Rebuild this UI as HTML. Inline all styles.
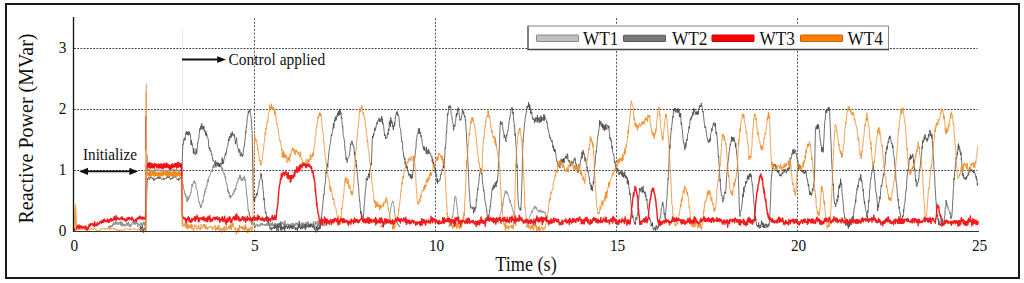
<!DOCTYPE html>
<html><head><meta charset="utf-8">
<style>
html,body{margin:0;padding:0;background:#fff;width:1024px;height:283px;overflow:hidden}
svg{display:block}
text{font-family:"Liberation Serif",serif;fill:#111}
</style></head>
<body>
<svg width="1024" height="283" viewBox="0 0 1024 283">
<rect x="0" y="0" width="1024" height="283" fill="#fff"/>
<rect x="6" y="4" width="1013" height="274" fill="none" stroke="#1a1a1a" stroke-width="2"/>
<g stroke="#444" stroke-width="1"><line x1="74" y1="48.5" x2="977.5" y2="48.5" stroke-dasharray="1.9,1.3"/><line x1="74" y1="109.5" x2="977.5" y2="109.5" stroke-dasharray="1.9,1.3"/><line x1="74" y1="170.5" x2="977.5" y2="170.5" stroke-dasharray="1.9,1.3"/><line x1="254.5" y1="18" x2="254.5" y2="231" stroke-dasharray="2.1,1.55" stroke="#5a5a5a"/><line x1="435.5" y1="18" x2="435.5" y2="231" stroke-dasharray="2.1,1.55" stroke="#5a5a5a"/><line x1="616.5" y1="18" x2="616.5" y2="231" stroke-dasharray="2.1,1.55" stroke="#5a5a5a"/><line x1="797.5" y1="18" x2="797.5" y2="231" stroke-dasharray="2.1,1.55" stroke="#5a5a5a"/></g>
<line x1="182.5" y1="29" x2="182.5" y2="231" stroke="#ebebeb" stroke-width="1"/>
<g font-size="17" text-anchor="end">
<text transform="translate(66.3 235.6) scale(0.9 1)">0</text>
<text transform="translate(66.3 174.6) scale(0.9 1)">1</text>
<text transform="translate(66.3 113.5) scale(0.9 1)">2</text>
<text transform="translate(66.3 52.5) scale(0.9 1)">3</text>
</g>
<g font-size="17" text-anchor="middle">
<text transform="translate(74.3 250.6) scale(0.9 1)">0</text>
<text transform="translate(254.8 250.6) scale(0.9 1)">5</text>
<text transform="translate(436.6 250.6) scale(0.9 1)">10</text>
<text transform="translate(617.6 250.6) scale(0.9 1)">15</text>
<text transform="translate(798.6 250.6) scale(0.9 1)">20</text>
<text transform="translate(979.6 250.6) scale(0.9 1)">25</text>
</g>
<text font-size="20" text-anchor="middle" transform="translate(526 270.5) scale(0.91 1)">Time (s)</text>
<text font-size="20" text-anchor="middle" transform="translate(33 128.5) rotate(-90)">Reactive Power (MVar)</text>
<polyline points="108.0,227.7 108.3,227.9 108.6,227.2 108.9,226.2 109.2,226.5 109.5,225.7 109.8,227.1 110.1,228.5 110.4,225.8 110.7,225.6 111.0,227.1 111.3,226.8 111.6,226.7 111.9,225.0 112.2,225.8 112.5,226.7 112.8,224.0 113.1,224.7 113.4,222.4 113.7,223.3 114.0,222.5 114.0,224.7 114.3,223.4 114.6,225.2 114.9,224.9 115.2,224.4 115.5,220.9 115.8,223.8 116.1,224.0 116.4,224.2 116.7,221.9 117.0,223.1 117.3,222.2 117.6,222.4 117.9,224.8 118.2,222.6 118.5,223.5 118.8,224.6 119.1,222.5 119.4,222.9 119.7,223.2 120.0,223.4 120.0,221.6 120.3,223.4 120.6,225.4 120.9,221.2 121.2,224.6 121.5,223.4 121.8,222.5 122.1,226.5 122.4,225.1 122.7,222.6 123.0,224.6 123.3,225.4 123.6,224.3 123.9,225.8 124.2,224.7 124.5,225.8 124.8,226.7 125.1,224.0 125.4,225.2 125.7,224.1 126.0,224.6 126.3,222.7 126.6,223.5 126.9,223.9 127.2,225.7 127.5,226.0 127.8,222.7 128.0,223.3 128.1,225.5 128.4,221.7 128.7,224.1 129.0,224.7 129.3,226.7 129.6,225.8 129.9,224.4 130.2,224.3 130.5,224.3 130.8,226.8 131.1,223.8 131.4,223.9 131.7,224.7 132.0,223.5 132.3,222.7 132.6,221.5 132.9,223.1 133.2,222.5 133.5,224.3 133.8,223.7 134.1,222.9 134.4,223.9 134.7,222.6 135.0,224.6 135.0,223.2 135.3,224.3 135.6,221.7 135.9,223.9 136.2,221.3 136.5,220.8 136.8,223.7 137.1,222.9 137.4,224.4 137.7,227.1 138.0,222.8 138.3,223.6 138.6,224.8 138.9,225.2 139.2,224.4 139.5,224.5 139.8,225.7 140.1,225.4 140.4,222.8 140.7,224.2 141.0,224.2 141.3,222.8 141.6,224.8 141.9,222.9 142.2,225.5 142.5,224.3 142.8,224.3 143.1,223.6 143.4,224.2 143.7,221.7 144.0,223.2 144.3,225.6 144.6,222.0 144.9,226.1 145.2,222.3 145.5,225.9 145.5,223.5 145.8,218.8 146.1,200.5 146.4,178.8 146.7,163.2 147.0,155.9 147.0,155.0 147.3,162.4 147.6,170.1 147.6,169.6 147.9,170.9 148.2,169.6 148.5,170.0 148.8,169.4 149.1,169.7 149.4,169.6 149.7,171.4 150.0,170.7 150.3,171.5 150.6,170.8 150.9,170.6 151.2,171.0 151.5,170.6 151.8,171.3 152.1,171.0 152.4,171.4 152.7,170.6 153.0,170.5 153.3,171.8 153.6,170.5 153.9,170.2 154.2,171.1 154.5,171.6 154.8,169.4 155.1,170.4 155.4,170.1 155.7,169.5 156.0,170.8 156.3,170.4 156.6,170.5 156.9,169.9 157.2,170.5 157.5,170.1 157.8,170.0 158.1,169.7 158.4,169.8 158.7,171.1 159.0,170.1 159.3,170.5 159.6,170.1 159.9,169.7 160.2,169.8 160.5,170.8 160.8,170.2 161.1,170.2 161.4,170.6 161.7,171.0 162.0,170.8 162.3,170.8 162.6,170.0 162.9,169.4 163.2,171.0 163.5,171.1 163.8,170.2 164.1,170.4 164.4,170.8 164.7,170.8 165.0,170.8 165.3,170.3 165.6,171.5 165.9,170.2 166.2,171.4 166.5,171.4 166.8,171.5 167.1,172.4 167.4,172.5 167.7,170.7 168.0,170.1 168.3,171.6 168.6,170.5 168.9,171.1 169.2,171.5 169.5,169.7 169.8,169.7 170.1,171.0 170.4,171.0 170.7,170.3 171.0,170.3 171.3,169.9 171.6,169.7 171.9,170.4 172.2,169.7 172.5,169.2 172.8,170.4 173.1,169.9 173.4,169.8 173.7,169.0 174.0,169.1 174.3,169.4 174.6,169.4 174.9,170.3 175.2,169.6 175.5,170.3 175.8,170.5 176.1,171.6 176.4,169.6 176.7,171.1 177.0,170.7 177.3,170.8 177.6,169.7 177.9,170.3 178.2,171.0 178.5,170.4 178.8,170.4 179.1,170.2 179.4,171.1 179.7,170.1 180.0,169.2 180.3,170.2 180.6,169.7 180.9,169.0 181.2,170.7 181.5,171.6 181.5,171.0 181.8,171.4 182.1,174.2 182.4,180.7 182.7,182.9 183.0,185.4 183.0,184.7 183.3,186.5 183.6,188.7 183.9,189.8 184.2,190.9 184.5,190.8 184.8,194.0 185.1,193.4 185.4,196.8 185.7,194.5 186.0,197.0 186.3,198.2 186.6,197.3 186.9,201.8 187.2,201.6 187.5,199.4 187.5,201.0 187.8,200.3 188.1,196.4 188.4,200.1 188.7,199.2 189.0,198.8 189.3,196.3 189.6,196.2 189.9,195.2 190.2,195.8 190.5,193.6 190.8,192.0 191.1,192.5 191.4,188.4 191.7,187.4 192.0,184.0 192.3,187.1 192.6,185.2 192.9,184.2 193.2,183.0 193.5,182.0 193.8,181.8 194.1,180.7 194.3,180.4 194.4,181.0 194.7,183.3 195.0,182.4 195.3,182.4 195.6,183.1 195.9,184.5 196.2,189.0 196.5,189.0 196.8,189.6 197.1,190.5 197.4,191.2 197.7,194.6 198.0,197.6 198.3,197.5 198.6,199.7 198.9,201.5 199.2,202.9 199.5,201.8 199.8,204.7 200.1,204.5 200.4,207.1 200.5,205.1 200.7,206.9 201.0,208.0 201.3,205.0 201.6,203.9 201.9,203.9 202.2,202.7 202.5,200.7 202.8,201.5 203.1,202.3 203.4,198.4 203.7,197.1 204.0,194.7 204.3,195.3 204.6,191.7 204.9,190.9 205.2,192.6 205.5,188.3 205.8,189.7 206.1,188.9 206.4,185.8 206.7,185.3 207.0,186.1 207.3,182.2 207.6,180.7 207.9,179.2 208.0,180.9 208.2,182.2 208.5,180.7 208.8,177.4 209.1,176.5 209.4,176.0 209.7,176.5 210.0,174.7 210.3,174.1 210.6,173.5 210.9,171.9 211.2,171.1 211.5,170.7 211.8,169.8 212.0,170.3 212.1,172.1 212.4,169.9 212.7,168.8 213.0,165.8 213.3,168.0 213.6,164.6 213.9,164.8 214.2,167.5 214.5,167.1 214.8,165.6 215.1,163.1 215.4,164.5 215.7,164.0 215.7,165.6 216.0,167.8 216.3,165.1 216.6,163.5 216.9,162.8 217.2,164.2 217.5,163.9 217.8,162.8 218.1,164.7 218.4,163.0 218.7,166.0 219.0,166.2 219.3,166.5 219.6,164.4 219.9,166.1 220.2,166.0 220.5,166.1 220.7,166.5 220.8,165.4 221.1,165.4 221.4,168.5 221.7,167.8 222.0,169.0 222.3,170.4 222.6,167.6 222.9,169.7 223.2,172.0 223.5,172.7 223.8,172.4 224.1,175.1 224.4,174.9 224.5,173.4 224.7,174.4 225.0,177.7 225.3,178.2 225.6,176.3 225.9,182.0 226.2,182.4 226.5,184.3 226.8,183.6 227.1,185.2 227.4,185.7 227.7,191.7 228.0,189.4 228.3,192.8 228.6,191.2 228.9,193.8 229.2,192.3 229.5,194.8 229.8,197.3 230.1,195.1 230.4,198.5 230.7,197.7 230.8,195.8 231.0,196.6 231.3,196.2 231.6,196.8 231.9,195.8 232.2,194.7 232.5,195.2 232.8,193.7 233.1,192.8 233.4,193.7 233.7,194.3 234.0,190.5 234.3,191.8 234.6,190.2 234.9,189.1 235.2,190.5 235.5,188.0 235.8,189.5 236.1,185.6 236.4,186.0 236.7,184.1 237.0,182.4 237.3,183.0 237.6,181.1 237.9,181.4 238.2,179.8 238.3,178.3 238.5,179.1 238.8,178.4 239.1,179.1 239.4,176.0 239.7,176.9 240.0,174.9 240.0,178.2 240.3,176.1 240.6,175.6 240.9,178.4 241.2,180.5 241.5,178.1 241.8,179.2 242.0,179.7 242.1,179.2 242.4,181.2 242.7,179.1 243.0,178.3 243.3,179.4 243.6,177.4 243.9,178.6 244.2,176.8 244.5,176.6 244.6,175.8 244.8,180.9 245.1,179.4 245.4,181.6 245.7,183.4 246.0,186.6 246.3,189.7 246.6,195.7 246.9,195.3 247.2,197.8 247.5,201.9 247.8,204.3 248.1,209.4 248.4,211.3 248.4,209.1 248.7,210.3 249.0,212.7 249.3,216.1 249.6,211.8 249.9,217.0 250.2,216.1 250.5,220.2 250.8,218.2 250.9,219.3 251.1,218.7 251.4,220.4 251.7,224.4 252.0,224.7 252.3,224.1 252.5,223.7 252.6,222.5 252.9,224.5 253.2,224.9 253.5,224.6 253.8,224.8 254.1,223.5 254.4,224.7 254.7,224.8 255.0,227.1 255.3,227.7 255.6,225.2 255.9,224.5 256.2,225.3 256.5,224.7 256.8,224.8 257.1,225.9 257.4,224.5 257.7,226.7 258.0,225.6 258.3,226.2 258.6,225.3 258.9,224.9 259.2,224.4 259.5,225.5 259.8,225.3 260.1,226.3 260.4,225.6 260.7,223.5 261.0,225.1 261.3,223.6 261.6,224.5 261.9,225.0 262.2,222.7 262.5,225.5 262.8,225.7 263.1,225.1 263.4,224.5 263.7,224.6 264.0,224.0 264.3,225.0 264.6,224.9 264.9,225.7 265.2,223.9 265.5,225.6 265.8,225.3 266.1,224.7 266.4,224.3 266.7,225.6 267.0,222.8 267.3,225.3 267.6,225.2 267.9,225.2 268.2,225.4 268.5,223.9 268.8,224.3 269.1,225.3 269.4,225.2 269.7,225.1 270.0,222.7 270.3,225.5 270.6,226.0 270.9,226.2 271.2,225.3 271.5,223.0 271.8,226.1 272.1,224.5 272.4,221.9 272.7,226.1 273.0,223.8 273.3,224.0 273.6,224.9 273.9,227.2 274.2,225.4 274.5,225.9 274.8,227.5 275.1,227.3 275.4,225.3 275.7,225.4 276.0,224.0 276.3,224.2 276.6,225.4 276.9,225.1 277.2,224.6 277.5,225.7 277.8,223.0 278.1,224.0 278.4,224.8 278.7,224.4 279.0,224.6 279.3,223.7 279.6,222.8 279.9,224.1 280.2,222.3 280.5,221.3 280.8,224.4 281.1,223.8 281.4,224.4 281.7,222.1 282.0,224.0 282.3,223.7 282.6,223.4 282.9,221.6 283.2,224.1 283.5,225.2 283.8,224.6 284.1,223.5 284.4,224.2 284.7,225.1 285.0,220.7 285.3,223.9 285.6,224.6 285.9,224.9 286.2,226.5 286.5,225.6 286.8,224.2 287.1,224.3 287.4,225.2 287.7,223.6 288.0,223.8 288.3,225.5 288.6,226.6 288.9,223.9 289.2,224.5 289.5,225.0 289.8,226.4 290.1,224.6 290.4,226.9 290.7,223.7 291.0,224.2 291.3,224.4 291.6,226.1 291.9,226.3 292.2,223.0 292.5,223.8 292.8,225.5 293.1,224.3 293.4,223.1 293.7,226.4 294.0,225.6 294.3,225.4 294.6,224.2 294.9,225.8 295.2,223.9 295.5,225.3 295.8,222.8 296.1,223.0 296.4,224.3 296.7,222.9 297.0,224.8 297.3,224.4 297.6,222.8 297.9,224.5 298.2,224.0 298.5,225.6 298.8,223.6 299.1,223.9 299.4,226.2 299.7,227.2 300.0,226.7 300.3,224.1 300.6,223.9 300.9,225.6 301.2,223.7 301.5,222.8 301.8,224.4 302.1,224.8 302.4,223.4 302.7,222.3 303.0,222.4 303.3,225.3 303.6,223.5 303.9,224.5 304.2,225.0 304.5,225.7 304.8,223.9 305.1,224.6 305.4,222.5 305.7,223.3 306.0,222.2 306.3,225.1 306.6,223.5 306.9,222.3 307.2,222.7 307.5,222.6 307.8,224.0 308.1,221.3 308.4,222.4 308.7,223.3 309.0,227.5 309.3,225.2 309.6,224.2 309.9,225.1 310.2,226.4 310.5,224.0 310.8,224.2 311.1,226.2 311.4,225.2 311.7,225.2 312.0,223.5 312.3,226.5 312.6,225.9 312.9,224.7 313.2,224.7 313.5,221.4 313.8,225.3 314.1,224.2 314.4,224.7 314.7,225.2 315.0,223.5 315.3,221.6 315.6,224.5 315.9,223.1 316.2,223.8 316.5,223.4 316.8,223.5 317.1,220.8 317.4,225.3 317.7,223.6 318.0,224.9 318.3,226.1 318.6,223.7 318.9,221.4 319.2,222.5 319.5,222.2 319.8,223.2 320.0,224.3 320.1,221.9 320.4,225.0 320.7,222.6 321.0,224.9 321.3,224.1 321.6,223.6 321.9,224.0 322.2,223.4 322.5,223.4 322.8,222.0 323.1,223.9 323.4,225.8 323.7,226.1 324.0,225.3 324.3,224.5 324.6,222.8 324.9,225.7 325.0,223.9" fill="none" stroke="#8e8e8e" stroke-width="1.0" stroke-linejoin="round" opacity="1"/>
<polyline points="526.0,226.9 526.3,227.1 526.6,225.8 526.9,225.4 527.2,223.7 527.5,223.5 527.8,223.7 528.1,220.5 528.4,221.1 528.7,220.7 529.0,218.7 529.3,218.1 529.6,217.7 529.9,215.8 530.2,215.6 530.5,214.4 530.7,213.9 530.8,213.7 531.1,213.8 531.4,213.1 531.7,212.5 532.0,210.8 532.3,212.3 532.6,211.0 532.9,210.1 533.2,208.9 533.5,208.4 533.8,208.1 534.1,207.7 534.4,206.2 534.5,207.3 534.7,208.7 535.0,206.0 535.3,207.6 535.6,207.5 535.9,207.5 536.2,208.6 536.5,207.2 536.8,208.9 537.1,210.2 537.4,209.6 537.7,210.0 538.0,210.6 538.3,210.7 538.6,212.2 538.9,210.9 539.2,212.0 539.5,210.9 539.5,212.1 539.8,211.6 540.1,209.7 540.4,211.1 540.7,210.5 541.0,211.2 541.3,212.5 541.6,210.7 541.9,210.6 542.2,212.2 542.5,211.5 542.8,212.3 543.1,211.9 543.4,211.1 543.7,212.0 544.0,213.0 544.3,212.9 544.6,211.8 544.6,211.9 544.9,212.2 545.2,212.9 545.5,215.4 545.8,215.9 546.1,216.8 546.4,218.5 546.7,220.6 547.0,221.4 547.0,220.9 547.3,221.2 547.6,222.5 547.9,222.2 548.2,223.1 548.5,225.0 548.8,225.1 549.0,225.8" fill="none" stroke="#909090" stroke-width="1.0" stroke-linejoin="round" opacity="1"/>
<polyline points="380.0,226.3 380.3,226.4 380.6,226.0 380.9,225.6 381.2,225.6 381.5,226.1 381.8,226.9 382.1,225.4 382.4,226.8 382.7,226.4 383.0,225.3 383.3,225.9 383.6,224.4 383.9,223.7 384.2,224.3 384.5,224.9 384.8,224.5 385.1,224.2 385.4,224.5 385.7,222.8 386.0,224.1 386.3,222.8 386.6,223.5 386.9,223.5 387.2,222.5 387.5,222.4 387.8,222.0 388.0,222.2 388.1,222.5 388.4,221.7 388.7,219.5 389.0,218.3 389.3,217.0 389.6,216.1 389.9,212.4 390.2,212.5 390.5,209.8 390.8,207.7 391.1,206.7 391.4,205.6 391.7,203.7 392.0,203.2 392.3,201.7 392.6,201.7 392.7,201.6 392.9,200.8 393.2,202.9 393.5,203.5 393.8,205.3 394.1,207.0 394.4,209.9 394.7,213.4 395.0,214.5 395.3,217.9 395.6,219.5 395.9,220.8 396.0,219.5 396.2,221.2 396.5,222.0 396.8,222.1 397.1,223.1 397.4,222.2 397.7,224.5 398.0,224.2 398.3,225.7 398.6,224.4 398.9,226.3 399.2,226.0 399.5,226.7 399.8,225.7 400.0,226.1" fill="none" stroke="#909090" stroke-width="1.0" stroke-linejoin="round" opacity="1"/>
<polyline points="449.0,224.8 449.3,226.5 449.6,224.5 449.9,224.6 450.2,226.1 450.5,224.1 450.8,223.1 451.1,224.0 451.4,221.5 451.7,219.3 452.0,219.3 452.3,216.3 452.6,217.1 452.8,216.6 452.9,214.6 453.2,212.6 453.5,210.6 453.8,207.5 454.1,203.7 454.4,202.5 454.7,197.3 455.0,197.0 455.3,196.3 455.4,196.3 455.6,197.2 455.9,196.8 456.2,200.2 456.5,202.2 456.8,205.1 457.1,207.4 457.4,210.2 457.7,213.8 457.9,213.9 458.0,215.3 458.3,217.8 458.6,219.1 458.9,221.0 459.2,220.5 459.5,221.2 459.8,224.0 460.1,224.1 460.4,225.6 460.7,225.3 461.0,226.5" fill="none" stroke="#909090" stroke-width="1.0" stroke-linejoin="round" opacity="1"/>
<polyline points="498.0,223.5 498.3,222.4 498.6,222.1 498.9,220.0 499.2,218.7 499.5,217.3 499.8,216.7 500.1,214.2 500.4,213.6 500.7,212.9 501.0,211.3 501.3,210.4 501.6,209.1 501.9,210.3 502.0,209.3 502.2,207.7 502.5,205.7 502.8,206.1 503.1,202.9 503.4,200.7 503.7,199.0 504.0,197.3 504.3,196.4 504.6,193.9 504.9,194.4 505.2,191.3 505.5,192.5 505.6,190.6 505.8,193.0 506.1,191.2 506.4,191.4 506.7,192.5 507.0,193.5 507.3,192.2 507.6,193.9 507.9,193.7 508.2,196.1 508.5,196.4 508.8,197.0 509.1,197.8 509.4,198.9 509.4,198.6 509.7,200.5 510.0,202.4 510.3,200.3 510.6,202.8 510.9,203.5 511.2,205.2 511.5,205.0 511.8,206.9 512.1,207.2 512.4,209.8 512.7,210.3 513.0,211.2 513.0,212.1 513.3,212.7 513.6,212.8 513.9,215.8 514.2,216.7 514.5,217.7 514.8,219.8 515.1,221.2 515.4,220.4 515.7,222.3 516.0,225.9" fill="none" stroke="#909090" stroke-width="1.0" stroke-linejoin="round" opacity="1"/>
<polyline points="140.0,229.2 140.3,226.1 140.6,230.1 140.9,231.1 141.2,227.1 141.5,226.9 141.8,229.7 142.1,228.1 142.4,225.3 142.7,230.6 143.0,229.7 143.3,228.6 143.6,232.8 143.9,229.3 144.2,228.2 144.5,229.5 144.8,227.5 145.1,228.1 145.4,230.5 145.5,228.5 145.7,227.1 146.0,222.4 146.3,211.7 146.6,200.8 146.9,190.4 147.2,182.4 147.5,179.7 147.5,178.8 147.8,179.7 148.1,177.8 148.4,178.0 148.7,177.2 149.0,178.1 149.3,178.8 149.6,179.5 149.9,177.7 150.2,177.8 150.5,177.7 150.8,177.6 151.1,177.1 151.4,178.0 151.7,177.3 152.0,178.6 152.3,178.8 152.6,178.1 152.9,178.2 153.2,177.8 153.5,180.2 153.8,178.7 154.1,180.5 154.4,179.8 154.7,179.2 155.0,178.6 155.3,179.3 155.6,179.4 155.9,178.1 156.2,178.5 156.5,179.0 156.8,178.5 157.1,178.9 157.4,177.4 157.7,177.7 158.0,176.5 158.3,178.6 158.6,176.8 158.9,176.3 159.2,177.8 159.5,177.5 159.8,178.9 160.1,177.3 160.4,177.7 160.7,178.4 161.0,178.7 161.3,178.5 161.6,179.4 161.9,179.2 162.2,179.1 162.5,179.0 162.8,178.8 163.1,178.5 163.4,179.4 163.7,178.3 164.0,179.8 164.3,179.7 164.6,178.9 164.9,178.2 165.2,178.5 165.5,178.6 165.8,178.6 166.1,178.2 166.4,178.8 166.7,177.5 167.0,177.9 167.3,176.3 167.6,177.5 167.9,177.2 168.2,176.9 168.5,177.9 168.8,177.3 169.1,175.7 169.4,177.5 169.7,177.5 170.0,178.5 170.3,179.7 170.6,178.1 170.9,178.8 171.2,178.9 171.5,178.9 171.8,179.0 172.1,179.1 172.4,177.6 172.7,178.5 173.0,176.7 173.3,176.8 173.6,177.5 173.9,177.2 174.2,176.2 174.5,176.1 174.8,176.1 175.1,176.6 175.4,177.4 175.7,176.4 176.0,177.9 176.3,178.3 176.6,178.4 176.9,179.0 177.2,180.0 177.5,179.2 177.8,179.6 178.1,179.8 178.4,180.4 178.7,178.3 179.0,180.3 179.3,179.1 179.6,178.9 179.9,178.0 180.2,177.4 180.5,177.5 180.8,177.4 181.1,178.5 181.4,177.6 181.5,179.2 181.7,177.3 182.0,170.0 182.3,159.9 182.6,150.7 182.9,143.8 183.0,144.4 183.2,144.5 183.5,143.1 183.8,139.1 184.1,139.8 184.4,137.7 184.7,138.3 185.0,140.5 185.3,137.7 185.6,135.2 185.9,132.1 186.2,132.1 186.5,131.3 186.8,135.0 187.1,132.2 187.4,133.7 187.7,131.8 188.0,132.7 188.3,135.4 188.5,131.5 188.6,132.0 188.9,131.6 189.2,135.1 189.5,132.5 189.8,132.8 190.1,133.4 190.4,134.6 190.7,139.2 191.0,144.8 191.3,140.2 191.6,144.5 191.9,144.4 192.2,143.3 192.5,146.3 192.8,147.5 193.1,147.9 193.4,153.5 193.7,148.1 194.0,152.9 194.3,153.2 194.6,151.8 194.9,153.5 195.0,154.8 195.2,154.0 195.5,154.4 195.8,154.1 196.1,148.7 196.4,153.7 196.7,153.8 197.0,150.0 197.3,148.3 197.6,142.8 197.9,143.3 198.2,140.2 198.5,139.1 198.8,139.0 199.1,134.1 199.4,133.3 199.7,128.6 200.0,129.9 200.3,129.2 200.6,127.1 200.9,125.9 201.2,129.6 201.5,123.8 201.8,123.3 201.9,123.7 202.1,127.7 202.4,129.2 202.7,126.6 203.0,125.8 203.3,126.7 203.6,129.3 203.9,126.0 204.2,130.9 204.5,131.4 204.8,129.9 205.1,131.8 205.4,132.8 205.7,135.0 206.0,131.3 206.3,136.1 206.6,133.7 206.9,134.3 207.2,137.4 207.5,138.0 207.8,137.9 208.1,138.1 208.4,140.8 208.7,146.2 209.0,148.2 209.3,147.3 209.6,149.5 209.9,148.0 210.2,149.9 210.5,151.4 210.8,150.2 211.1,151.7 211.4,154.8 211.7,155.0 212.0,154.4 212.3,158.3 212.6,157.8 212.9,160.7 213.2,160.1 213.5,160.3 213.8,161.8 214.1,162.0 214.4,161.7 214.7,162.6 215.0,164.6 215.3,164.8 215.6,166.0 215.7,160.4 215.9,162.9 216.2,162.7 216.5,163.8 216.8,163.1 217.1,163.3 217.4,165.8 217.7,164.5 218.0,162.4 218.3,166.6 218.6,166.0 218.9,163.8 219.2,166.1 219.5,163.7 219.8,167.2 220.1,164.8 220.4,163.3 220.7,163.8 221.0,162.8 221.3,164.8 221.6,164.8 221.9,164.4 222.0,163.3 222.2,157.5 222.5,163.7 222.8,159.6 223.1,162.8 223.4,163.7 223.7,161.3 224.0,159.2 224.3,158.9 224.6,157.5 224.9,155.3 225.2,154.7 225.5,153.2 225.8,155.3 226.1,151.9 226.4,152.6 226.7,148.9 227.0,148.1 227.3,146.6 227.6,146.6 227.9,145.3 228.2,142.8 228.5,139.9 228.8,138.4 229.1,141.1 229.4,136.7 229.7,136.1 230.0,138.2 230.3,136.9 230.6,135.3 230.9,133.3 231.2,137.6 231.5,134.5 231.8,135.1 232.0,134.1 232.1,131.7 232.4,131.8 232.7,135.4 233.0,135.5 233.3,134.6 233.6,133.7 233.9,134.0 234.2,136.6 234.5,134.8 234.8,139.6 235.1,140.6 235.4,144.2 235.7,141.6 236.0,140.5 236.3,141.1 236.6,137.5 236.9,143.2 237.2,144.6 237.5,147.4 237.8,147.8 238.1,148.8 238.4,148.5 238.7,150.2 239.0,152.6 239.3,149.3 239.6,150.9 239.9,150.3 240.2,156.1 240.5,156.2 240.8,155.3 241.1,152.5 241.4,154.9 241.7,154.7 242.0,155.9 242.0,155.5 242.3,156.8 242.6,154.6 242.9,155.5 243.2,152.6 243.5,149.9 243.8,148.1 244.1,145.9 244.4,145.9 244.7,141.9 245.0,140.4 245.3,136.4 245.6,131.6 245.9,132.9 246.2,126.9 246.5,127.3 246.8,124.6 247.1,119.1 247.4,118.0 247.7,116.7 248.0,114.1 248.3,111.4 248.6,113.2 248.9,110.9 249.2,111.7 249.5,110.2 249.6,111.1 249.8,109.4 250.1,111.6 250.4,113.8 250.7,115.2 251.0,116.6 251.3,119.1 251.6,125.3 251.9,129.9 252.0,130.0 252.2,134.4 252.5,152.0 252.8,175.3 253.1,188.3 253.4,199.8 253.5,200.8 253.7,195.8 254.0,200.8 254.3,198.8 254.6,202.0 254.9,198.7 255.2,197.0 255.5,197.7 255.8,197.7 255.9,196.4 256.1,196.8 256.4,193.2 256.7,194.2 257.0,195.0 257.3,195.4 257.6,191.5 257.9,189.2 258.2,188.9 258.5,187.3 258.8,186.5 259.1,184.1 259.4,180.6 259.7,180.1 260.0,179.3 260.3,178.7 260.6,177.5 260.9,175.3 261.0,173.2 261.2,175.5 261.5,174.3 261.8,178.8 262.1,180.7 262.4,180.2 262.7,186.5 263.0,189.3 263.3,190.8 263.6,196.3 263.9,200.2 264.2,198.2 264.5,205.3 264.8,207.1 265.1,209.9 265.4,213.0 265.7,211.8 266.0,213.4 266.0,212.8 266.3,214.6 266.6,216.8 266.9,215.9 267.2,217.5 267.5,221.4 267.8,221.3 268.1,223.2 268.4,219.9 268.7,223.5 269.0,224.8 269.3,226.0 269.6,225.8 269.9,228.6 270.0,227.4 270.2,227.9 270.5,227.9 270.8,229.4 271.1,227.6 271.4,230.3 271.7,229.3 272.0,227.7 272.3,227.4 272.6,228.8 272.9,229.1 273.2,228.7 273.5,227.5 273.8,228.1 274.1,227.4 274.4,228.7 274.7,226.3 275.0,223.0 275.3,228.5 275.6,227.0 275.9,225.3 276.2,226.9 276.5,226.2 276.8,230.9 277.1,228.0 277.4,224.5 277.7,227.7 278.0,226.4 278.3,231.0 278.6,225.7 278.9,223.8 279.2,227.7 279.5,226.6 279.8,226.2 280.1,223.1 280.4,228.1 280.7,230.3 281.0,223.9 281.3,229.2 281.6,226.4 281.9,230.6 282.2,227.6 282.5,226.9 282.8,228.9 283.1,228.0 283.4,226.6 283.7,229.1 284.0,226.9 284.3,224.8 284.6,231.4 284.9,227.1 285.2,226.7 285.5,228.4 285.8,225.1 286.1,225.3 286.4,227.0 286.7,226.8 287.0,227.5 287.3,229.1 287.6,226.4 287.9,228.0 288.2,228.0 288.5,225.3 288.8,227.7 289.1,226.0 289.4,229.4 289.7,228.3 290.0,227.2 290.3,225.1 290.6,227.7 290.9,225.7 291.2,228.3 291.5,226.8 291.8,226.1 292.1,229.0 292.4,228.5 292.7,225.6 293.0,228.8 293.3,226.4 293.6,226.4 293.9,227.3 294.2,225.9 294.5,226.6 294.8,227.4 295.1,230.0 295.4,229.9 295.7,227.4 296.0,230.0 296.3,227.7 296.6,228.1 296.9,228.9 297.2,227.9 297.5,231.3 297.8,227.2 298.1,224.7 298.4,228.4 298.7,225.4 299.0,225.9 299.3,220.8 299.6,227.9 299.9,227.3 300.2,227.3 300.5,227.7 300.8,229.3 301.1,226.3 301.4,228.1 301.7,225.4 302.0,226.3 302.3,229.1 302.6,227.6 302.9,224.5 303.2,228.0 303.5,227.3 303.8,226.3 304.1,228.3 304.4,226.6 304.7,224.5 305.0,225.3 305.3,230.1 305.6,224.2 305.9,226.8 306.2,227.5 306.5,228.0 306.8,224.3 307.1,225.7 307.4,226.0 307.7,227.0 308.0,224.6 308.3,223.7 308.6,227.1 308.9,227.4 309.2,226.1 309.5,224.9 309.8,226.6 310.1,226.1 310.4,227.3 310.7,223.5 311.0,226.2 311.3,225.7 311.6,224.3 311.9,226.7 312.2,226.6 312.5,226.0 312.8,227.7 313.1,224.7 313.4,227.3 313.7,228.1 314.0,228.1 314.3,229.9 314.6,226.1 314.9,225.7 315.2,228.6 315.5,229.5 315.8,232.4 316.1,229.6 316.4,226.8 316.7,229.5 317.0,226.5 317.3,225.1 317.6,231.5 317.9,227.5 318.2,227.8 318.5,227.6 318.8,229.7 319.1,226.8 319.4,228.7 319.7,225.1 320.0,224.4 320.0,229.0 320.3,227.8 320.6,224.0 320.9,220.7 321.0,219.8 321.2,217.1 321.5,218.6 321.8,214.5 322.1,211.4 322.4,208.0 322.7,206.2 323.0,202.3 323.3,200.1 323.6,194.5 323.9,194.5 324.2,194.9 324.5,187.3 324.8,185.4 325.1,184.0 325.4,181.6 325.7,178.4 326.0,171.9 326.3,173.3 326.6,168.4 326.9,166.7 327.2,166.7 327.4,163.8 327.5,164.9 327.8,167.2 328.1,160.8 328.4,158.8 328.7,153.8 329.0,151.9 329.3,149.3 329.6,148.0 329.9,145.1 330.2,144.1 330.5,142.6 330.8,139.4 331.1,136.6 331.4,134.6 331.7,135.9 332.0,133.1 332.3,132.8 332.6,131.6 332.9,127.9 333.2,128.2 333.5,123.0 333.8,128.2 334.1,125.3 334.4,121.5 334.7,119.5 335.0,121.4 335.3,116.6 335.6,118.2 335.9,120.4 336.2,118.6 336.2,117.6 336.5,119.2 336.8,115.5 337.1,116.6 337.4,114.4 337.7,113.2 338.0,114.7 338.3,111.4 338.6,115.9 338.9,111.2 339.2,115.2 339.5,109.3 339.8,112.1 340.0,109.4 340.1,109.2 340.4,112.4 340.7,114.4 341.0,112.5 341.3,118.4 341.6,116.9 341.9,120.9 342.2,123.9 342.5,126.9 342.8,126.2 343.1,134.8 343.4,135.6 343.7,136.9 344.0,138.5 344.3,140.3 344.6,143.6 344.9,149.5 345.2,150.7 345.5,151.3 345.8,154.3 346.1,159.7 346.4,157.6 346.7,158.2 347.0,162.6 347.3,161.2 347.5,160.6 347.6,159.6 347.9,157.9 348.2,157.7 348.5,157.7 348.8,157.1 349.1,156.5 349.4,154.8 349.7,152.6 350.0,150.9 350.3,147.1 350.6,143.6 350.9,144.9 351.2,143.0 351.5,142.3 351.7,142.7 351.8,140.8 352.1,141.1 352.4,143.1 352.7,144.5 353.0,143.9 353.3,147.0 353.6,146.8 353.9,146.6 354.2,149.8 354.5,155.0 354.8,152.4 355.1,157.4 355.4,160.0 355.7,162.0 356.0,160.2 356.3,167.1 356.3,164.1 356.6,166.0 356.9,168.9 357.2,173.4 357.5,176.0 357.8,178.4 358.1,184.5 358.4,184.3 358.7,187.6 359.0,194.4 359.3,197.5 359.6,201.3 359.9,200.9 360.2,207.4 360.5,209.2 360.8,214.1 361.1,211.1 361.4,215.6 361.7,216.8 362.0,216.4 362.3,218.3 362.5,222.1 362.6,219.4 362.9,218.2 363.2,218.7 363.5,216.3 363.8,212.6 364.1,206.1 364.4,203.9 364.7,201.9 365.0,195.1 365.3,190.7 365.6,189.4 365.9,187.4 366.2,180.5 366.3,177.8 366.5,179.6 366.8,179.1 367.1,180.0 367.4,180.4 367.7,178.0 368.0,176.0 368.3,176.4 368.6,173.8 368.8,175.0 368.9,173.5 369.2,178.3 369.5,173.7 369.8,169.8 370.1,168.5 370.4,168.3 370.7,164.9 371.0,164.8 371.3,162.9 371.3,165.2 371.6,158.6 371.9,150.0 372.2,141.1 372.5,136.2 372.6,137.7 372.8,136.4 373.1,137.6 373.4,133.7 373.7,135.6 374.0,133.2 374.3,131.9 374.6,127.9 374.9,128.1 375.2,130.2 375.5,130.4 375.8,127.0 376.1,127.2 376.4,124.0 376.7,123.6 377.0,122.1 377.3,124.2 377.6,122.5 377.9,120.8 378.2,120.1 378.5,120.6 378.8,120.1 379.1,117.8 379.4,122.0 379.7,119.4 380.0,119.2 380.3,121.8 380.6,121.2 380.9,119.1 381.2,120.1 381.4,117.5 381.5,118.3 381.8,116.1 382.1,122.7 382.4,118.7 382.7,124.2 383.0,122.9 383.3,124.1 383.6,126.4 383.9,129.0 384.2,131.5 384.5,135.4 384.8,133.9 385.1,136.2 385.4,135.2 385.7,138.9 386.0,138.2 386.3,137.1 386.4,138.0 386.6,137.9 386.9,137.6 387.2,136.8 387.5,134.4 387.8,132.8 388.1,134.8 388.4,128.8 388.7,129.4 389.0,130.9 389.3,122.0 389.6,124.0 389.9,125.1 390.2,120.1 390.5,126.8 390.8,117.3 391.1,123.4 391.4,123.2 391.4,121.6 391.7,120.5 392.0,122.4 392.3,122.0 392.6,126.7 392.9,125.2 393.2,127.7 393.4,130.1 393.5,126.3 393.8,127.0 394.1,126.6 394.4,122.5 394.7,125.6 395.0,122.1 395.3,116.9 395.6,117.8 395.9,114.9 396.2,113.6 396.5,113.6 396.8,111.6 397.0,114.3 397.1,111.6 397.4,114.7 397.7,113.9 398.0,115.9 398.3,114.8 398.6,116.1 398.9,116.6 399.2,121.1 399.5,123.3 399.8,127.4 400.1,128.1 400.4,128.6 400.7,130.0 401.0,134.0 401.3,135.6 401.6,140.9 401.9,142.1 402.2,141.4 402.5,144.0 402.8,150.2 403.1,151.1 403.4,152.2 403.7,157.0 404.0,156.3 404.3,158.4 404.6,159.7 404.9,158.2 405.2,164.6 405.2,161.5 405.5,163.8 405.8,164.4 406.1,167.7 406.4,167.5 406.5,167.8 406.7,165.0 407.0,168.7 407.3,166.8 407.6,170.2 407.9,171.4 408.2,171.2 408.5,175.4 408.8,173.5 409.1,174.6 409.4,174.4 409.7,174.0 410.0,176.6 410.3,177.6 410.6,174.0 410.9,178.8 411.2,178.6 411.5,178.9 411.5,177.9 411.8,174.8 412.1,174.4 412.4,178.1 412.7,174.4 413.0,170.1 413.3,171.1 413.6,167.6 413.9,162.4 414.2,158.8 414.5,157.3 414.8,158.2 415.1,154.8 415.4,151.5 415.7,149.6 416.0,147.4 416.3,140.1 416.6,140.4 416.9,137.6 417.2,134.8 417.5,133.9 417.8,133.2 418.1,131.7 418.4,128.7 418.7,129.7 419.0,133.9 419.0,129.1 419.3,128.1 419.6,131.8 419.9,133.3 420.2,133.6 420.5,131.8 420.8,136.8 421.1,135.3 421.4,136.1 421.7,138.3 422.0,141.2 422.3,143.8 422.6,144.7 422.9,145.2 423.2,148.1 423.5,147.6 423.8,149.9 424.0,146.4 424.1,146.5 424.4,150.7 424.7,147.6 425.0,149.7 425.3,150.2 425.6,150.1 425.9,150.3 426.2,153.4 426.5,146.8 426.8,152.3 427.1,154.4 427.4,150.9 427.7,150.5 428.0,152.2 428.3,153.8 428.6,149.1 428.9,151.4 429.0,151.0 429.2,152.4 429.5,152.2 429.8,153.4 430.1,152.7 430.4,154.6 430.7,154.1 431.0,155.3 431.3,156.6 431.6,157.1 431.9,156.2 432.2,161.9 432.5,159.7 432.8,158.7 433.1,164.2 433.4,162.1 433.7,165.2 434.0,165.0 434.0,164.9 434.3,165.7 434.6,165.7 434.9,168.7 435.2,173.4 435.5,167.6 435.8,173.1 436.1,175.2 436.4,173.9 436.7,174.9 437.0,182.0 437.3,178.5 437.6,183.5 437.8,181.1 437.9,180.5 438.2,181.3 438.5,181.0 438.8,181.7 439.1,180.3 439.4,179.6 439.7,178.9 440.0,180.1 440.3,178.5 440.6,174.5 440.9,173.9 441.2,174.5 441.5,171.6 441.8,170.8 442.1,169.0 442.4,169.4 442.7,169.4 443.0,168.7 443.3,165.8 443.6,167.6 443.9,162.5 444.0,168.0 444.2,163.4 444.5,160.3 444.8,155.5 445.1,147.6 445.4,148.5 445.7,143.9 446.0,142.3 446.3,132.4 446.6,133.1 446.9,125.0 447.2,122.5 447.5,113.5 447.8,115.4 447.8,114.4 448.1,114.2 448.4,110.8 448.7,106.2 449.0,108.2 449.3,106.6 449.6,105.6 449.6,107.0 449.9,107.7 450.2,106.7 450.5,105.7 450.8,107.5 451.1,113.7 451.4,114.7 451.7,115.7 452.0,116.9 452.3,120.2 452.6,121.9 452.9,123.4 453.2,123.9 453.5,130.4 453.8,127.9 454.0,126.3 454.1,124.7 454.4,125.4 454.7,126.8 455.0,125.6 455.3,122.5 455.6,120.8 455.9,118.3 456.2,114.7 456.5,116.8 456.8,113.0 457.1,115.1 457.4,108.8 457.7,109.3 457.9,110.7 458.0,108.6 458.3,107.5 458.6,108.9 458.9,112.3 459.2,114.8 459.5,115.8 459.8,119.2 460.1,120.6 460.4,120.1 460.4,119.4 460.7,118.9 461.0,119.8 461.3,118.9 461.6,116.1 461.9,115.3 462.2,112.4 462.5,109.1 462.8,109.2 462.9,112.2 463.1,111.3 463.4,113.7 463.7,111.9 464.0,114.0 464.3,116.2 464.6,117.2 464.9,115.8 465.2,118.5 465.4,120.4 465.5,119.5 465.8,125.0 466.1,130.3 466.4,132.6 466.7,142.0 467.0,144.2 467.3,150.5 467.6,155.9 467.9,160.8 468.0,164.1 468.2,167.2 468.5,176.3 468.8,181.3 469.1,187.9 469.4,193.0 469.7,196.4 470.0,202.3 470.3,203.3 470.4,206.4 470.6,205.2 470.9,208.5 471.2,207.7 471.5,208.0 471.8,207.4 472.1,207.6 472.4,208.5 472.7,208.9 473.0,206.7 473.3,209.6 473.6,213.5 473.9,209.6 474.2,209.6 474.2,209.2 474.5,207.5 474.8,211.5 475.1,208.3 475.4,207.1 475.7,208.6 476.0,207.6 476.3,199.6 476.6,200.6 476.9,197.3 477.2,194.0 477.5,191.7 477.8,188.6 478.0,189.8 478.1,187.4 478.4,184.6 478.7,183.5 479.0,179.8 479.3,176.5 479.6,173.8 479.9,174.0 480.2,170.6 480.5,169.3 480.5,168.1 480.8,169.2 481.1,169.0 481.4,172.2 481.7,174.4 482.0,173.0 482.3,179.0 482.6,182.9 482.9,184.7 483.2,185.3 483.5,191.2 483.8,190.1 484.1,191.2 484.2,192.0 484.4,194.9 484.7,199.0 485.0,201.4 485.3,201.6 485.6,201.9 485.9,205.3 486.2,207.0 486.5,210.7 486.8,210.1 487.1,215.3 487.4,217.2 487.7,216.7 488.0,218.3 488.0,215.7 488.3,214.9 488.6,215.5 488.9,216.7 489.2,214.8 489.5,210.5 489.8,211.1 490.1,206.3 490.4,207.0 490.7,202.9 491.0,199.0 491.3,198.8 491.6,193.9 491.9,191.1 492.2,188.7 492.5,190.1 492.8,188.2 493.0,187.5 493.1,186.3 493.4,189.1 493.7,184.8 494.0,184.6 494.3,188.0 494.6,188.2 494.9,186.1 495.2,182.2 495.5,184.1 495.6,186.2 495.8,185.1 496.1,187.0 496.4,181.7 496.7,183.8 497.0,180.7 497.3,181.8 497.6,177.2 497.9,177.1 498.0,173.5 498.2,170.2 498.5,165.4 498.8,159.0 499.1,150.2 499.4,145.1 499.7,137.2 500.0,128.9 500.3,121.7 500.6,121.6 500.6,121.0 500.9,124.5 501.2,123.0 501.5,124.2 501.8,123.5 502.1,122.0 502.4,125.0 502.7,126.3 503.0,130.4 503.3,131.4 503.6,131.2 503.9,133.7 504.2,138.1 504.5,134.9 504.8,136.3 505.1,137.7 505.4,137.7 505.6,138.0 505.7,140.1 506.0,141.8 506.3,134.7 506.6,136.6 506.9,136.0 507.2,134.3 507.5,132.7 507.8,130.6 508.1,130.8 508.4,126.8 508.7,124.8 509.0,122.9 509.3,120.6 509.6,118.3 509.9,118.8 510.2,115.2 510.5,113.7 510.8,112.1 511.1,108.9 511.4,108.6 511.7,107.6 511.9,109.1 512.0,107.7 512.3,107.8 512.6,111.5 512.9,113.9 513.2,111.8 513.5,120.2 513.8,120.3 514.1,122.3 514.4,127.0 514.4,125.6 514.7,127.4 515.0,135.7 515.3,133.7 515.6,139.5 515.9,145.3 516.2,146.8 516.5,154.2 516.8,160.6 517.0,167.8 517.1,164.8 517.4,176.9 517.7,190.1 518.0,199.3 518.2,200.7 518.3,204.1 518.6,205.0 518.9,207.2 519.2,209.0 519.5,209.3 519.8,209.4 520.1,210.2 520.4,207.8 520.7,209.5 520.7,210.4 521.0,206.7 521.3,200.5 521.6,189.5 521.9,182.5 522.2,171.2 522.5,156.3 522.8,148.1 523.1,139.9 523.2,140.6 523.4,137.2 523.7,133.4 524.0,129.6 524.3,127.1 524.6,122.6 524.9,122.5 525.2,117.5 525.5,117.3 525.8,114.0 526.1,113.9 526.4,111.1 526.7,111.4 527.0,106.5 527.3,108.4 527.6,106.2 527.9,106.4 528.2,105.8 528.2,107.0 528.5,102.2 528.8,107.0 529.1,104.9 529.4,109.8 529.7,104.4 530.0,107.1 530.3,107.3 530.6,113.8 530.9,109.5 531.2,113.1 531.5,113.2 531.8,112.2 532.1,115.4 532.4,117.9 532.7,117.0 533.0,119.9 533.3,118.5 533.6,119.4 533.9,118.8 534.2,120.0 534.5,122.7 534.5,119.9 534.8,119.3 535.1,118.3 535.4,118.1 535.7,121.7 536.0,117.1 536.3,117.5 536.6,118.8 536.9,118.2 537.2,122.5 537.5,115.2 537.8,119.9 538.1,120.8 538.4,117.8 538.7,118.7 539.0,120.9 539.3,123.0 539.6,118.7 539.9,116.9 540.2,121.2 540.5,122.2 540.8,118.9 541.1,115.6 541.4,121.7 541.7,118.3 542.0,120.4 542.3,118.3 542.6,117.4 542.9,117.1 543.2,120.6 543.5,120.5 543.8,114.2 544.1,116.0 544.4,120.7 544.6,117.1 544.7,115.4 545.0,117.8 545.3,117.9 545.6,118.5 545.9,118.7 546.2,119.8 546.5,120.5 546.8,123.0 547.1,122.4 547.4,125.0 547.7,126.3 548.0,129.9 548.3,129.9 548.6,130.7 548.9,133.1 549.2,133.9 549.5,136.3 549.6,135.5 549.8,138.1 550.1,138.6 550.4,137.4 550.7,137.8 551.0,140.9 551.3,141.6 551.6,141.5 551.9,140.0 552.2,140.4 552.5,145.1 552.8,147.1 553.1,148.0 553.4,145.6 553.7,150.3 554.0,148.3 554.3,150.8 554.6,152.1 554.6,149.6 554.9,150.9 555.2,149.6 555.5,152.6 555.8,152.5 556.1,157.4 556.4,158.4 556.7,161.2 557.0,162.0 557.3,161.6 557.6,164.1 557.9,164.0 558.2,166.5 558.5,166.4 558.8,164.0 558.8,166.2 559.1,166.1 559.4,165.4 559.7,167.3 560.0,168.3 560.3,163.9 560.6,163.4 560.9,159.9 561.2,162.8 561.5,162.2 561.8,158.8 562.1,162.7 562.4,162.4 562.7,160.0 563.0,160.0 563.0,159.1 563.3,162.1 563.6,158.0 563.9,160.0 564.2,163.0 564.5,159.3 564.8,159.1 565.1,157.9 565.4,156.0 565.7,157.7 566.0,158.1 566.3,155.8 566.6,157.8 566.9,158.9 567.0,158.3 567.2,153.7 567.5,155.8 567.8,155.1 568.1,160.7 568.4,160.5 568.7,161.6 569.0,160.0 569.3,160.1 569.6,162.5 569.9,163.3 570.2,162.6 570.5,165.0 570.8,166.3 571.0,165.1 571.1,162.7 571.4,160.8 571.7,163.9 572.0,164.1 572.3,162.8 572.6,162.2 572.9,161.6 573.2,163.7 573.5,161.7 573.8,161.1 574.1,158.8 574.4,159.1 574.7,160.4 575.0,158.4 575.0,157.8 575.3,159.9 575.6,163.5 575.9,162.9 576.2,166.2 576.5,164.8 576.8,166.2 577.1,166.1 577.4,168.5 577.7,172.8 578.0,171.4 578.0,172.1 578.3,172.1 578.6,170.1 578.9,168.8 579.2,168.3 579.5,168.3 579.8,166.4 580.1,164.7 580.4,162.4 580.7,159.7 581.0,159.3 581.3,156.8 581.6,158.7 581.9,151.8 582.2,154.2 582.5,157.6 582.8,152.3 583.1,150.2 583.4,152.1 583.5,154.4 583.7,152.7 584.0,154.1 584.3,154.1 584.6,154.5 584.9,161.2 585.2,157.5 585.5,157.6 585.8,159.4 586.1,162.4 586.4,164.4 586.7,167.2 587.0,168.0 587.3,166.8 587.6,171.7 587.9,171.4 588.0,171.4 588.2,170.6 588.5,173.8 588.8,175.5 589.1,178.2 589.4,177.8 589.7,182.5 590.0,184.2 590.3,183.3 590.6,185.8 590.9,186.6 591.2,190.1 591.5,184.9 591.8,189.1 592.0,187.0 592.1,189.2 592.4,191.1 592.7,187.1 593.0,185.7 593.3,181.4 593.6,183.6 593.9,178.6 594.2,175.4 594.5,168.2 594.8,165.3 595.1,165.1 595.4,159.2 595.7,155.8 596.0,154.1 596.0,151.3 596.3,152.2 596.6,148.4 596.9,146.0 597.2,141.2 597.5,140.4 597.8,135.6 598.1,135.7 598.4,133.6 598.7,131.3 599.0,128.7 599.3,127.0 599.6,120.2 599.9,125.4 600.2,123.1 600.4,123.9 600.5,122.9 600.8,121.2 601.1,122.7 601.4,124.8 601.7,126.6 602.0,123.7 602.3,123.4 602.6,127.9 602.9,123.9 603.2,129.5 603.5,126.6 603.8,125.5 604.1,129.3 604.4,130.6 604.7,125.2 604.7,130.4 605.0,126.9 605.3,129.4 605.6,126.2 605.9,123.8 606.2,127.7 606.5,127.9 606.8,129.6 607.1,128.5 607.2,126.7 607.4,125.1 607.7,125.1 608.0,126.0 608.3,126.1 608.6,128.4 608.9,125.8 609.2,131.8 609.5,132.7 609.8,139.0 610.1,137.4 610.4,137.6 610.7,140.6 611.0,139.3 611.3,141.6 611.6,141.1 611.9,148.2 612.2,148.9 612.3,146.1 612.5,149.3 612.8,152.6 613.1,153.2 613.4,154.7 613.7,154.1 614.0,156.5 614.3,159.6 614.6,163.0 614.9,161.4 615.2,162.2 615.5,166.8 615.8,164.6 616.1,168.6 616.4,167.9 616.7,169.9 617.0,171.9 617.0,169.9 617.3,170.5 617.6,168.1 617.9,168.6 618.2,171.4 618.5,173.5 618.8,173.2 619.1,175.1 619.4,172.0 619.7,172.0 620.0,173.8 620.3,172.3 620.6,172.1 620.9,170.6 621.2,174.3 621.5,171.9 621.8,174.7 622.1,171.6 622.3,176.4 622.4,173.0 622.7,176.5 623.0,172.3 623.3,174.7 623.6,177.6 623.9,174.6 624.2,176.1 624.5,175.2 624.8,171.7 625.1,176.9 625.4,177.6 625.7,175.2 626.0,178.3 626.3,176.3 626.6,176.8 626.9,178.8 627.2,178.4 627.3,183.6 627.5,177.7 627.8,182.8 628.1,184.6 628.4,180.6 628.7,182.9 629.0,188.6 629.3,188.8 629.6,192.3 629.8,195.1 629.9,192.7 630.2,194.2 630.5,194.2 630.8,202.0 631.1,203.2 631.4,208.8 631.7,211.7 632.0,210.9 632.3,218.0 632.4,217.6 632.6,217.7 632.9,215.3 633.2,218.3 633.5,219.2 633.8,220.4 634.1,220.6 634.4,223.7 634.7,223.0 634.9,223.4 635.0,222.3 635.3,224.9 635.6,222.3 635.9,217.0 636.2,219.5 636.5,219.5 636.8,219.7 637.1,216.2 637.4,214.5 637.4,213.8 637.7,214.2 638.0,208.9 638.3,204.8 638.6,200.7 638.9,198.9 639.2,193.3 639.5,188.4 639.8,190.5 640.0,188.1 640.1,190.2 640.4,189.8 640.7,191.4 641.0,191.1 641.3,188.4 641.6,188.9 641.9,187.2 642.2,192.5 642.4,190.5 642.5,192.2 642.8,189.1 643.1,186.0 643.4,192.3 643.7,191.1 644.0,191.3 644.3,191.8 644.6,193.6 644.9,194.2 645.2,191.7 645.5,197.0 645.8,194.9 646.1,196.0 646.2,200.5 646.4,200.1 646.7,199.8 647.0,198.9 647.3,205.0 647.6,208.3 647.9,209.8 648.2,210.0 648.5,212.6 648.7,212.8 648.8,215.7 649.1,218.3 649.4,219.6 649.7,217.4 650.0,219.9 650.3,221.4 650.6,220.6 650.9,222.0 651.2,226.4 651.5,223.7 651.8,225.7 652.1,223.8 652.4,225.4 652.5,222.4 652.7,225.7 653.0,228.1 653.3,230.3 653.6,229.1 653.9,228.6 654.2,228.0 654.5,227.2 654.8,228.6 655.1,230.0 655.4,227.7 655.7,230.7 656.0,227.2 656.2,225.4 656.3,227.1 656.6,225.8 656.9,226.1 657.2,229.5 657.5,226.9 657.8,227.4 658.1,228.3 658.4,227.5 658.7,223.5 659.0,225.7 659.3,223.1 659.6,221.9 659.9,221.4 660.0,217.8 660.2,217.9 660.5,217.1 660.8,215.1 661.1,210.5 661.4,207.9 661.7,207.4 662.0,206.3 662.3,203.9 662.5,205.0 662.6,201.9 662.9,202.6 663.2,205.1 663.5,206.6 663.8,208.6 664.1,214.6 664.4,213.2 664.7,213.4 665.0,216.5 665.0,218.5 665.3,214.8 665.6,215.0 665.9,209.8 666.2,206.7 666.5,202.5 666.8,198.7 667.1,197.4 667.4,187.7 667.7,187.6 668.0,178.6 668.0,179.5 668.3,176.6 668.6,170.7 668.9,163.8 669.2,154.5 669.5,152.1 669.8,144.8 670.0,148.5 670.1,142.6 670.4,140.1 670.7,134.7 671.0,132.7 671.3,128.3 671.6,129.2 671.9,124.3 672.2,123.1 672.5,118.2 672.8,116.3 673.1,117.6 673.4,111.9 673.7,109.0 674.0,111.0 674.3,108.0 674.6,108.8 674.9,111.1 675.0,108.4 675.2,111.2 675.5,108.6 675.8,112.6 676.1,112.5 676.4,109.2 676.7,109.8 677.0,109.2 677.3,111.4 677.6,112.5 677.9,108.2 678.2,112.8 678.5,109.3 678.8,110.8 679.1,109.5 679.4,116.8 679.7,113.7 680.0,114.5 680.0,113.1 680.3,117.3 680.6,113.1 680.9,118.7 681.2,124.6 681.5,122.4 681.8,126.1 682.1,129.7 682.4,129.9 682.7,133.9 683.0,138.5 683.3,140.1 683.6,143.0 683.9,143.0 684.2,145.7 684.5,146.7 684.8,149.8 685.0,148.8 685.1,146.7 685.4,142.6 685.7,147.7 686.0,146.8 686.3,142.9 686.6,139.3 686.9,139.0 687.2,140.5 687.5,135.1 687.8,134.0 688.1,132.9 688.4,132.5 688.7,128.7 688.9,127.8 689.0,126.3 689.3,128.6 689.6,125.7 689.9,122.5 690.2,118.9 690.5,119.0 690.8,120.2 691.1,116.9 691.4,118.7 691.7,117.0 692.0,115.8 692.0,116.6 692.3,115.7 692.6,112.4 692.9,112.2 693.2,115.5 693.5,108.4 693.8,109.4 693.8,112.2 694.1,110.1 694.4,109.1 694.7,108.8 695.0,112.3 695.3,113.5 695.6,114.5 695.9,112.2 696.2,114.5 696.5,111.5 696.8,113.8 697.1,112.2 697.4,113.3 697.5,114.4 697.7,114.9 698.0,110.8 698.3,114.1 698.6,110.2 698.9,108.2 699.2,108.8 699.5,105.3 699.8,107.1 700.1,107.0 700.4,105.7 700.7,106.7 701.0,104.9 701.3,105.7 701.3,103.0 701.6,106.1 701.9,105.8 702.2,107.7 702.5,110.3 702.8,112.2 703.1,111.2 703.4,113.3 703.7,117.2 704.0,120.8 704.3,122.6 704.6,125.2 704.9,127.9 705.0,126.9 705.2,126.5 705.5,126.2 705.8,127.7 706.1,130.8 706.4,133.4 706.7,135.0 707.0,136.8 707.3,137.9 707.6,140.8 707.9,141.3 708.2,141.9 708.5,142.3 708.8,140.9 708.8,140.0 709.1,142.5 709.4,141.5 709.7,139.5 710.0,138.0 710.3,141.3 710.6,134.5 710.9,133.3 711.2,132.3 711.5,128.5 711.8,129.2 712.1,131.0 712.4,128.1 712.7,126.2 713.0,125.1 713.3,123.9 713.6,125.0 713.9,122.6 713.9,122.4 714.2,123.4 714.5,125.4 714.8,125.3 715.1,126.8 715.4,123.2 715.7,130.4 716.0,134.1 716.3,134.2 716.4,131.9 716.6,131.9 716.9,136.8 717.2,137.7 717.5,144.3 717.8,146.1 718.1,152.7 718.4,157.5 718.7,156.1 718.9,162.9 719.0,162.8 719.3,166.3 719.6,172.7 719.9,177.9 720.0,181.3 720.2,179.2 720.5,186.8 720.8,191.1 721.1,191.6 721.4,194.6 721.7,195.8 722.0,195.4 722.3,198.9 722.6,199.4 722.7,199.8 722.9,202.3 723.2,198.8 723.5,197.8 723.8,199.1 724.1,193.8 724.4,193.4 724.7,193.3 725.0,191.8 725.2,193.5 725.3,191.9 725.6,193.3 725.9,189.2 726.2,184.1 726.5,177.8 726.8,175.1 727.1,171.5 727.4,164.2 727.7,163.6 727.7,164.3 728.0,161.5 728.3,161.2 728.6,158.4 728.9,152.7 729.2,152.7 729.5,148.7 729.8,148.9 730.1,144.5 730.4,145.3 730.7,143.0 731.0,142.6 731.3,139.9 731.6,136.6 731.9,141.6 732.2,137.4 732.5,139.6 732.7,137.8 732.8,138.8 733.1,141.0 733.4,138.8 733.7,141.1 734.0,137.1 734.3,141.8 734.6,140.8 734.9,141.8 735.2,143.1 735.2,144.1 735.5,147.4 735.8,143.1 736.1,148.2 736.4,149.4 736.7,154.9 737.0,155.6 737.3,160.1 737.6,162.1 737.7,164.9 737.9,168.3 738.2,172.8 738.5,181.9 738.8,189.1 739.1,200.7 739.4,208.9 739.7,211.8 740.0,216.6 740.0,211.2 740.3,211.2 740.6,211.1 740.9,211.3 741.2,210.6 741.5,208.4 741.8,206.0 742.1,204.2 742.4,199.9 742.7,196.0 743.0,193.5 743.3,197.1 743.6,187.4 743.9,190.0 744.0,192.4 744.2,189.8 744.5,186.4 744.8,186.3 745.1,186.9 745.4,186.5 745.7,181.4 746.0,183.7 746.3,181.5 746.6,182.2 746.9,182.2 747.2,178.2 747.5,175.6 747.8,178.0 748.1,179.6 748.4,177.1 748.7,175.6 749.0,179.3 749.3,173.6 749.6,176.4 749.9,173.8 750.2,175.0 750.3,174.5 750.5,177.0 750.8,173.6 751.1,175.5 751.4,175.5 751.7,181.3 752.0,181.7 752.3,185.2 752.6,184.8 752.8,187.8 752.9,190.9 753.2,192.1 753.5,197.8 753.8,202.0 754.1,205.1 754.4,207.4 754.7,215.6 755.0,217.3 755.3,220.9 755.3,216.0 755.6,218.1 755.9,218.2 756.2,221.7 756.5,225.6 756.8,225.4 757.1,225.1 757.4,225.6 757.7,227.2 757.8,225.4 758.0,226.5 758.3,226.3 758.6,222.6 758.9,225.4 759.2,228.5 759.5,225.4 759.8,225.6 760.1,224.8 760.4,225.0 760.7,228.1 761.0,225.3 761.3,224.2 761.6,220.7 761.9,224.8 762.2,222.2 762.5,222.8 762.8,227.0 763.1,227.1 763.4,223.2 763.7,227.8 764.0,227.2 764.3,225.0 764.6,228.0 764.9,223.9 765.2,224.4 765.5,223.8 765.8,224.5 766.1,227.8 766.4,224.2 766.7,224.2 767.0,224.1 767.3,226.5 767.6,225.5 767.9,227.5 768.2,224.8 768.5,223.7 768.8,224.6 769.0,225.9 769.1,224.3 769.4,223.6 769.7,221.5 770.0,211.3 770.3,205.1 770.6,199.5 770.9,188.6 771.2,181.3 771.5,175.4 771.7,175.7 771.8,175.3 772.1,171.0 772.4,168.3 772.7,168.8 773.0,167.4 773.0,163.7 773.3,165.7 773.6,166.0 773.9,166.6 774.2,165.1 774.5,164.9 774.8,165.5 775.1,163.9 775.4,166.9 775.7,166.6 776.0,168.9 776.3,166.9 776.6,168.3 776.7,167.7 776.9,168.1 777.2,172.1 777.5,170.5 777.8,172.4 778.1,170.6 778.4,173.3 778.7,171.0 779.0,173.3 779.3,173.6 779.6,175.9 779.9,175.0 780.2,174.4 780.5,176.0 780.5,174.8 780.8,175.7 781.1,176.4 781.4,174.5 781.7,173.7 782.0,174.4 782.3,172.5 782.6,173.5 782.9,173.9 783.2,173.0 783.5,170.9 783.8,168.9 784.1,170.9 784.2,170.7 784.4,172.3 784.7,169.7 785.0,169.9 785.3,171.1 785.6,169.3 785.9,169.5 786.2,172.8 786.5,173.2 786.8,171.3 787.1,170.8 787.4,168.2 787.7,170.7 788.0,169.6 788.3,169.5 788.6,167.7 788.9,168.3 789.2,167.4 789.2,168.2 789.5,169.3 789.8,166.2 790.1,161.5 790.4,160.8 790.7,158.1 791.0,157.8 791.3,158.4 791.6,156.6 791.9,153.6 792.2,154.4 792.5,151.5 792.8,149.6 793.0,149.6 793.1,150.3 793.4,154.1 793.7,149.0 794.0,153.6 794.3,153.6 794.6,150.9 794.9,150.7 795.2,149.8 795.5,150.4 795.5,151.9 795.8,151.5 796.1,153.9 796.4,155.7 796.7,155.8 797.0,158.2 797.3,159.1 797.6,161.6 797.9,160.7 798.0,164.0 798.2,164.4 798.5,163.8 798.8,169.8 799.1,165.5 799.3,166.3 799.4,168.3 799.7,164.6 800.0,166.7 800.3,166.2 800.6,167.4 800.9,169.1 801.2,170.1 801.5,171.6 801.8,171.1 802.1,172.0 802.4,171.4 802.7,169.8 803.0,172.7 803.3,170.6 803.6,170.5 803.9,174.0 804.2,172.9 804.5,172.0 804.8,172.9 805.1,173.3 805.4,170.2 805.6,172.3 805.7,170.0 806.0,173.0 806.3,172.4 806.6,177.8 806.9,178.4 807.2,178.2 807.5,181.4 807.8,180.8 808.0,184.0 808.1,185.5 808.4,186.2 808.7,184.1 809.0,189.0 809.3,192.0 809.6,193.3 809.9,195.0 810.2,191.5 810.5,194.7 810.6,193.0 810.8,194.9 811.1,195.4 811.4,195.5 811.7,193.0 812.0,193.8 812.3,190.2 812.6,188.4 812.9,190.6 813.2,188.2 813.5,183.4 813.8,182.4 814.1,181.3 814.4,180.7 814.4,179.7 814.7,169.8 815.0,148.8 815.3,135.4 815.6,128.4 815.6,128.4 815.9,127.6 816.2,126.2 816.5,129.3 816.8,128.6 817.1,125.7 817.4,124.1 817.7,129.0 818.0,124.7 818.0,127.4 818.3,128.7 818.6,124.9 818.9,128.4 819.2,129.0 819.5,132.5 819.8,134.6 820.1,140.0 820.4,139.9 820.7,142.0 821.0,146.0 821.3,145.4 821.6,146.6 821.8,152.0 821.9,147.1 822.2,148.7 822.5,150.4 822.8,148.9 823.0,147.1 823.1,152.4 823.4,147.2 823.7,142.7 824.0,137.7 824.3,130.4 824.6,124.1 824.9,120.7 825.2,120.2 825.5,115.4 825.5,115.5 825.8,110.7 826.1,112.7 826.4,110.0 826.7,112.7 827.0,110.6 827.3,110.7 827.6,110.5 827.9,109.5 828.2,107.3 828.5,110.9 828.8,107.1 829.1,107.6 829.3,109.4 829.4,108.9 829.7,113.8 830.0,120.8 830.3,126.4 830.6,132.9 830.6,132.8 830.9,141.3 831.2,145.8 831.5,158.3 831.8,162.7 831.8,162.5 832.1,169.7 832.4,173.9 832.7,179.9 833.0,185.4 833.3,183.8 833.6,191.7 833.9,198.4 834.2,200.0 834.5,203.7 834.8,203.8 835.1,202.8 835.4,203.8 835.6,206.5 835.7,207.0 836.0,204.0 836.3,203.9 836.6,203.6 836.9,198.9 837.2,199.5 837.5,201.5 837.8,200.6 838.1,194.8 838.1,197.9 838.4,192.0 838.7,190.1 839.0,185.5 839.3,188.5 839.6,184.6 839.9,187.6 840.2,183.0 840.5,182.4 840.6,178.7 840.8,184.7 841.1,182.6 841.4,184.8 841.7,184.0 842.0,192.6 842.3,196.0 842.6,196.5 842.9,200.6 843.1,203.0 843.2,204.7 843.5,206.2 843.8,212.4 844.1,212.4 844.4,215.3 844.7,218.6 845.0,217.4 845.3,221.8 845.6,225.4 845.6,224.3 845.9,222.3 846.2,224.5 846.5,220.9 846.8,224.0 847.1,225.2 847.4,225.8 847.7,223.5 848.0,226.5 848.3,228.6 848.6,224.6 848.9,226.6 849.2,222.7 849.4,222.0 849.5,226.7 849.8,225.6 850.1,225.1 850.4,223.5 850.7,223.1 851.0,224.4 851.3,225.0 851.6,220.5 851.9,217.3 852.2,221.3 852.5,219.1 852.8,218.3 853.1,215.9 853.2,219.1 853.4,214.7 853.7,214.0 854.0,208.5 854.3,208.6 854.6,206.6 854.9,205.5 855.2,204.0 855.5,199.7 855.8,201.9 856.1,194.9 856.4,193.9 856.7,193.0 857.0,188.4 857.3,189.7 857.6,188.1 857.9,185.0 858.2,187.4 858.2,184.6 858.5,184.0 858.8,181.2 859.1,178.7 859.4,179.3 859.7,178.8 860.0,177.8 860.3,179.9 860.6,174.2 860.7,176.4 860.9,175.4 861.2,181.6 861.5,179.5 861.8,181.0 862.1,181.2 862.4,186.8 862.7,187.4 863.0,191.2 863.3,189.5 863.6,197.2 863.9,197.9 864.2,200.9 864.5,203.9 864.5,201.2 864.8,203.2 865.1,206.7 865.4,208.8 865.7,209.7 866.0,211.6 866.3,212.2 866.6,215.5 866.9,216.6 867.0,215.4 867.2,217.8 867.5,210.6 867.8,211.4 868.1,212.3 868.4,205.6 868.7,200.3 869.0,201.8 869.3,196.7 869.6,189.9 869.9,189.9 870.2,183.6 870.5,180.2 870.8,179.8 870.8,180.0 871.1,176.9 871.4,175.6 871.7,172.6 872.0,172.1 872.3,170.2 872.6,170.3 872.9,167.3 873.2,165.3 873.3,164.8 873.5,167.1 873.8,171.9 874.1,173.2 874.4,173.4 874.7,180.0 875.0,180.1 875.3,187.3 875.6,188.2 875.8,191.7 875.9,192.0 876.2,192.9 876.5,196.7 876.8,196.3 877.1,200.6 877.4,204.2 877.7,211.1 878.0,206.4 878.3,206.1 878.3,204.4 878.6,207.3 878.9,201.9 879.2,202.1 879.5,201.9 879.8,196.6 880.1,199.1 880.4,195.6 880.7,190.3 880.8,189.9 881.0,187.2 881.3,185.1 881.6,186.8 881.9,185.4 882.2,183.0 882.5,181.1 882.8,178.3 883.1,178.2 883.4,173.5 883.7,174.3 884.0,175.3 884.3,172.5 884.6,167.0 884.6,167.0 884.9,166.2 885.2,162.6 885.5,153.1 885.8,152.2 885.8,153.5 886.1,153.7 886.4,148.6 886.7,149.6 887.0,146.1 887.3,149.1 887.6,144.4 887.9,142.5 888.2,141.1 888.5,142.7 888.8,140.9 889.1,137.5 889.4,139.2 889.6,136.0 889.7,136.9 890.0,135.7 890.3,136.4 890.6,138.5 890.9,138.8 891.2,142.2 891.5,143.9 891.8,143.1 892.1,143.5 892.4,148.0 892.7,144.9 893.0,146.6 893.3,152.8 893.4,153.8 893.6,155.3 893.9,155.7 894.2,156.7 894.5,161.4 894.6,164.4 894.8,164.9 895.1,167.8 895.4,169.8 895.7,173.6 896.0,180.8 896.3,183.1 896.6,183.6 896.9,187.4 897.2,191.4 897.5,196.4 897.8,196.3 898.1,200.8 898.4,199.0 898.4,200.6 898.7,205.8 899.0,208.6 899.3,206.8 899.6,209.5 899.9,213.8 900.2,213.4 900.5,214.8 900.8,218.0 901.1,218.2 901.4,220.1 901.7,220.1 902.0,218.2 902.2,218.6 902.3,218.6 902.6,215.9 902.9,215.4 903.2,216.6 903.5,209.7 903.8,211.6 904.1,207.8 904.4,204.4 904.7,203.3 904.7,203.3 905.0,202.1 905.3,196.5 905.6,194.1 905.9,190.8 906.2,190.9 906.5,186.3 906.8,180.1 907.1,177.5 907.4,174.0 907.7,172.2 908.0,169.5 908.3,170.5 908.5,161.9 908.6,166.3 908.9,162.9 909.2,159.0 909.5,158.7 909.7,157.6 909.8,158.7 910.1,160.1 910.4,154.5 910.7,159.0 911.0,155.8 911.3,158.8 911.6,156.6 911.9,157.6 912.2,156.2 912.2,156.7 912.5,155.2 912.8,153.8 913.1,157.3 913.4,159.1 913.7,164.1 914.0,159.6 914.3,165.3 914.6,170.0 914.9,168.9 915.2,173.7 915.5,180.5 915.8,181.6 916.1,179.6 916.4,185.9 916.7,186.6 917.0,186.5 917.2,185.6 917.3,185.1 917.6,182.5 917.9,182.2 918.2,182.6 918.5,179.3 918.8,179.9 919.1,174.4 919.4,169.0 919.7,169.7 919.8,169.9 920.0,168.4 920.3,165.3 920.6,161.1 920.9,162.7 921.2,155.9 921.5,155.1 921.8,150.6 922.1,146.5 922.4,148.5 922.5,140.7 922.7,142.3 923.0,143.2 923.3,140.5 923.6,141.4 923.9,138.6 924.2,136.7 924.5,139.8 924.8,135.4 925.0,135.7 925.1,134.4 925.4,135.0 925.7,138.4 926.0,139.3 926.3,138.6 926.6,138.4 926.9,141.5 927.2,138.1 927.5,140.0 927.5,140.5 927.8,139.1 928.1,139.4 928.4,135.7 928.7,134.0 929.0,136.7 929.3,133.5 929.6,133.0 929.9,130.0 930.0,131.4 930.2,131.2 930.5,133.0 930.8,136.0 931.1,133.3 931.4,136.1 931.7,138.4 932.0,134.6 932.3,140.7 932.5,144.7 932.6,147.2 932.9,149.1 933.2,155.8 933.5,160.8 933.8,162.0 933.8,165.2 934.1,170.4 934.4,173.6 934.7,176.1 935.0,186.2 935.3,189.2 935.6,194.6 935.9,200.0 936.2,203.3 936.5,210.4 936.8,212.8 937.1,216.7 937.3,216.5 937.4,214.6 937.7,216.9 938.0,220.0 938.3,218.6 938.6,225.0 938.9,220.4 939.2,221.3 939.5,225.2 939.8,225.4 940.1,224.4 940.4,223.6 940.7,225.0 941.0,225.7 941.1,225.4 941.3,223.7 941.6,225.1 941.9,226.1 942.2,225.7 942.5,218.5 942.8,221.7 943.1,221.7 943.4,222.4 943.6,223.5 943.7,224.8 944.0,222.8 944.3,218.8 944.6,216.2 944.9,215.8 945.2,208.1 945.5,207.1 945.8,207.3 946.1,204.6 946.1,200.1 946.4,204.5 946.7,203.4 947.0,204.3 947.3,206.7 947.6,206.9 947.9,206.4 948.2,209.3 948.5,209.4 948.8,209.6 948.9,210.3 949.1,210.4 949.4,210.8 949.7,211.5 950.0,213.6 950.3,212.8 950.6,213.7 950.9,218.7 951.2,216.7 951.4,217.4 951.5,217.4 951.8,216.1 952.1,212.6 952.4,207.9 952.7,200.7 953.0,198.0 953.3,189.5 953.6,187.5 953.9,178.2 953.9,179.7 954.2,180.0 954.5,175.0 954.8,170.5 955.1,169.4 955.4,164.3 955.7,164.1 956.0,157.8 956.3,158.8 956.4,157.8 956.6,158.7 956.9,157.1 957.2,152.5 957.5,154.8 957.8,149.0 958.1,145.5 958.4,143.5 958.7,149.7 958.9,147.0 959.0,145.9 959.3,146.1 959.6,146.2 959.9,151.4 960.2,150.4 960.5,155.2 960.8,153.7 961.1,152.4 961.4,159.8 961.4,158.2 961.7,161.6 962.0,169.2 962.3,170.8 962.6,175.5 962.6,173.6 962.9,173.1 963.2,176.3 963.5,174.8 963.8,178.7 964.1,178.8 964.4,177.7 964.7,178.9 965.0,179.2 965.3,177.7 965.6,179.6 965.9,178.1 966.2,179.3 966.4,176.2 966.5,178.0 966.8,178.2 967.1,176.0 967.4,175.8 967.7,174.8 968.0,175.9 968.3,172.5 968.6,173.7 968.9,174.4 969.2,171.4 969.5,167.4 969.8,170.5 970.1,171.6 970.2,169.4 970.4,171.3 970.7,170.3 971.0,170.4 971.3,169.1 971.6,169.1 971.9,169.5 972.2,170.5 972.5,172.1 972.8,172.0 973.1,170.5 973.4,172.0 973.7,173.0 974.0,170.1 974.3,172.2 974.6,172.1 974.9,174.1 975.2,174.4 975.2,174.7 975.5,174.2 975.8,177.4 976.1,178.5 976.4,176.5 976.7,180.2 977.0,179.4 977.3,185.6 977.6,183.3 977.7,184.0" fill="none" stroke="#4a4a4a" stroke-width="0.8" stroke-linejoin="round" opacity="1"/>
<polyline points="74.0,232.0 74.3,222.3 74.6,215.1 74.9,210.1 75.2,206.8 75.5,205.0 75.5,205.3 75.8,208.3 76.1,214.7 76.4,222.3 76.7,227.5 77.0,229.6 77.0,229.7 77.3,229.4 77.6,229.0 77.9,228.7 78.2,229.7 78.5,229.1 78.8,228.8 79.1,228.2 79.4,229.0 79.7,228.4 80.0,229.5 80.3,229.0 80.6,229.3 80.9,229.7 81.2,229.9 81.5,228.6 81.8,229.5 82.1,229.2 82.4,229.0 82.7,228.7 83.0,228.6 83.3,229.3 83.6,228.2 83.9,229.5 84.2,229.4 84.5,229.1 84.8,229.5 85.1,230.2 85.4,229.4 85.7,229.2 86.0,230.1 86.3,229.5 86.6,229.8 86.9,229.3 87.2,229.6 87.5,229.9 87.8,230.3 88.1,229.6 88.4,229.9 88.7,230.1 89.0,229.7 89.3,229.1 89.6,229.0 89.9,228.5 90.2,229.2 90.5,229.0 90.8,229.4 91.1,228.8 91.4,228.1 91.7,228.2 92.0,228.6 92.3,228.7 92.6,229.0 92.9,229.2 93.2,228.7 93.5,229.9 93.8,229.0 94.1,228.2 94.4,228.5 94.7,228.4 95.0,228.4 95.3,229.0 95.6,230.1 95.9,229.7 96.2,230.1 96.5,229.6 96.8,229.9 97.1,231.1 97.4,230.6 97.7,231.1 98.0,231.2 98.3,231.3 98.6,231.4 98.9,230.5 99.2,230.2 99.5,229.4 99.8,230.4 100.1,229.5 100.4,229.3 100.7,229.2 101.0,228.5 101.3,229.0 101.6,228.8 101.9,228.9 102.2,228.9 102.5,229.1 102.8,229.0 103.1,228.9 103.4,228.7 103.7,228.6 104.0,228.7 104.3,229.5 104.6,229.8 104.9,229.0 105.2,228.4 105.5,229.1 105.8,228.1 106.1,228.8 106.4,228.6 106.7,228.2 107.0,228.6 107.3,228.5 107.6,229.7 107.9,228.7 108.2,228.4 108.5,229.0 108.8,228.7 109.1,228.7 109.4,228.0 109.7,227.6 110.0,229.7 110.3,228.8 110.6,228.7 110.9,229.0 111.2,228.6 111.5,227.8 111.8,228.5 112.1,228.6 112.4,228.9 112.7,228.9 113.0,228.6 113.3,228.5 113.6,228.0 113.9,229.0 114.2,227.8 114.5,228.6 114.8,229.7 115.1,229.0 115.4,229.8 115.7,229.4 116.0,230.0 116.3,229.9 116.6,229.7 116.9,230.8 117.2,229.8 117.5,229.6 117.8,230.1 118.1,230.3 118.4,229.9 118.7,230.4 119.0,230.1 119.3,230.9 119.6,229.8 119.9,230.3 120.2,229.3 120.5,229.5 120.8,229.8 121.1,230.3 121.4,229.9 121.7,230.1 122.0,229.7 122.3,230.3 122.6,230.4 122.9,230.2 123.2,229.9 123.5,230.1 123.8,230.4 124.1,229.2 124.4,229.4 124.7,229.2 125.0,228.7 125.3,228.9 125.6,228.7 125.9,228.2 126.2,228.8 126.5,229.1 126.8,228.7 127.1,228.6 127.4,228.8 127.7,228.8 128.0,229.5 128.3,229.2 128.6,229.6 128.9,229.2 129.2,229.5 129.5,229.6 129.8,228.3 130.1,229.4 130.4,229.6 130.7,229.2 131.0,229.1 131.3,229.8 131.6,229.2 131.9,229.2 132.2,229.3 132.5,229.0 132.8,228.7 133.1,228.9 133.4,228.8 133.7,228.9 134.0,229.0 134.3,229.3 134.6,228.4 134.9,228.6 135.2,229.1 135.5,229.0 135.8,229.7 136.1,229.6 136.4,230.0 136.7,229.9 137.0,229.8 137.3,229.2 137.6,229.1 137.9,229.8 138.2,230.1 138.5,230.3 138.8,228.9 139.1,229.7 139.4,229.0 139.7,229.6 140.0,229.5 140.3,229.4 140.6,229.7 140.9,229.8 141.2,229.0 141.5,229.0 141.8,229.0 142.1,228.8 142.4,228.8 142.7,228.4 143.0,229.3 143.3,228.7 143.6,228.5 143.9,228.6 144.2,228.8 144.5,229.0 144.8,229.4 145.1,229.2 145.4,229.7 145.5,229.7 145.7,200.7 146.0,115.9 146.2,90.3 146.3,98.0 146.6,151.0 146.8,173.3 146.9,174.4 147.2,173.9 147.5,173.5 147.8,174.5 148.1,173.5 148.4,172.6 148.7,174.2 149.0,174.3 149.3,174.4 149.6,174.3 149.9,173.4 150.2,172.9 150.5,172.2 150.8,171.7 151.1,172.3 151.4,173.2 151.7,172.6 152.0,173.8 152.3,172.2 152.6,171.2 152.9,172.9 153.2,173.3 153.5,172.1 153.8,172.1 154.1,173.7 154.4,173.8 154.7,172.8 155.0,173.3 155.3,173.2 155.6,172.8 155.9,173.0 156.2,174.1 156.5,173.9 156.8,174.0 157.1,172.6 157.4,176.0 157.7,174.4 158.0,175.7 158.3,175.2 158.6,176.6 158.9,175.6 159.2,176.7 159.5,176.2 159.8,176.5 160.1,175.2 160.4,175.3 160.7,175.7 161.0,176.7 161.3,173.6 161.6,174.4 161.9,173.9 162.2,174.2 162.5,174.0 162.8,173.6 163.1,173.5 163.4,173.4 163.7,173.0 164.0,173.4 164.3,172.2 164.6,172.7 164.9,172.9 165.2,173.5 165.5,174.1 165.8,174.4 166.1,174.4 166.4,175.0 166.7,172.4 167.0,175.0 167.3,174.4 167.6,173.8 167.9,172.7 168.2,174.4 168.5,174.8 168.8,174.2 169.1,173.4 169.4,174.1 169.7,174.5 170.0,174.7 170.3,174.6 170.6,173.2 170.9,172.9 171.2,173.4 171.5,173.8 171.8,173.0 172.1,173.8 172.4,172.8 172.7,172.7 173.0,173.0 173.3,172.4 173.6,172.9 173.9,171.9 174.2,174.0 174.5,173.6 174.8,173.4 175.1,173.8 175.4,173.5 175.7,173.5 176.0,175.3 176.3,173.6 176.6,174.5 176.9,174.9 177.2,173.4 177.5,173.6 177.8,172.9 178.1,173.9 178.4,172.9 178.7,172.1 179.0,174.4 179.3,173.4 179.6,172.1 179.9,173.5 180.2,173.2 180.5,174.6 180.8,173.6 181.1,172.2 181.4,172.5 181.5,172.1 181.7,177.9 182.0,198.2 182.3,219.4 182.5,224.0 182.6,221.8 182.9,223.0 183.2,226.4 183.5,226.5 183.8,224.8 184.1,224.9 184.4,224.7 184.7,225.3 185.0,223.1 185.3,227.5 185.6,224.8 185.9,226.3 186.2,222.0 186.5,226.6 186.8,228.3 187.1,222.6 187.4,229.3 187.7,227.5 188.0,225.4 188.3,224.1 188.6,228.3 188.9,226.7 189.2,227.2 189.5,225.9 189.8,225.2 190.1,228.2 190.4,225.6 190.7,228.4 191.0,224.0 191.3,225.3 191.6,224.7 191.9,229.1 192.2,224.6 192.5,226.1 192.8,229.2 193.1,228.3 193.4,231.4 193.7,230.6 194.0,228.6 194.3,228.9 194.6,224.7 194.9,226.1 195.2,227.0 195.5,227.1 195.8,225.3 196.1,226.1 196.4,226.5 196.7,229.9 197.0,229.3 197.3,228.2 197.6,227.9 197.9,228.7 198.2,226.6 198.5,227.5 198.8,224.9 199.1,229.2 199.4,229.4 199.7,227.9 200.0,227.9 200.3,227.6 200.6,229.9 200.9,226.7 201.2,224.0 201.5,224.5 201.8,228.0 202.1,228.8 202.4,228.2 202.7,228.3 203.0,227.2 203.3,224.5 203.6,226.0 203.9,224.0 204.2,226.3 204.5,224.7 204.8,228.0 205.0,227.6 205.1,224.5 205.4,228.9 205.7,229.2 206.0,225.8 206.3,227.8 206.6,229.0 206.9,227.2 207.2,229.0 207.5,228.3 207.8,229.7 208.1,227.8 208.4,227.0 208.7,227.9 209.0,228.1 209.3,227.0 209.6,226.0 209.9,226.0 210.2,226.5 210.5,225.9 210.8,227.4 211.1,226.8 211.4,226.5 211.7,226.7 212.0,227.2 212.3,229.8 212.6,229.6 212.9,227.3 213.2,228.8 213.5,227.5 213.8,228.0 214.1,227.9 214.4,227.6 214.7,226.7 215.0,224.9 215.3,229.3 215.6,231.0 215.9,227.3 216.2,229.8 216.5,228.2 216.8,229.4 217.1,227.7 217.4,229.0 217.7,229.4 218.0,225.5 218.3,229.6 218.6,229.2 218.9,225.2 219.2,230.9 219.5,229.9 219.8,230.0 220.1,230.2 220.4,228.8 220.7,227.7 221.0,228.5 221.3,228.5 221.6,232.7 221.9,232.0 222.2,228.3 222.5,228.6 222.8,229.6 223.1,229.8 223.4,227.7 223.7,226.9 224.0,231.8 224.3,230.5 224.6,226.2 224.9,226.0 225.2,227.7 225.5,229.8 225.8,230.5 226.1,228.5 226.4,226.3 226.7,229.5 227.0,229.9 227.3,229.1 227.6,228.1 227.9,229.1 228.2,227.9 228.5,226.1 228.8,228.3 229.1,225.6 229.4,228.7 229.7,227.9 230.0,225.4 230.3,227.4 230.6,229.3 230.9,223.4 231.2,226.8 231.5,229.8 231.8,224.7 232.1,226.7 232.4,223.7 232.7,226.3 233.0,222.8 233.3,224.6 233.6,226.5 233.9,227.5 234.2,228.1 234.5,228.2 234.8,230.0 235.1,229.8 235.4,229.4 235.7,227.1 236.0,229.4 236.3,234.7 236.6,233.3 236.9,230.8 237.2,230.4 237.5,230.5 237.8,228.2 238.1,232.3 238.4,228.1 238.7,228.3 239.0,232.3 239.3,225.2 239.6,228.8 239.9,225.3 240.2,226.7 240.5,227.7 240.8,227.5 241.1,228.8 241.4,227.0 241.7,227.9 242.0,226.3 242.3,227.8 242.6,226.3 242.9,229.8 243.2,226.6 243.5,229.7 243.8,227.9 244.1,228.0 244.4,230.6 244.7,229.0 245.0,225.6 245.3,230.1 245.6,224.3 245.9,229.6 246.2,228.8 246.5,227.0 246.8,229.6 247.1,228.8 247.4,232.9 247.7,229.2 248.0,232.7 248.3,232.2 248.6,228.9 248.9,228.2 249.2,231.7 249.5,229.4 249.8,229.8 250.0,228.9 250.1,227.5 250.4,229.2 250.7,228.2 251.0,226.7 251.3,228.7 251.6,231.8 251.9,231.4 252.2,228.7 252.5,228.8 252.5,229.5 252.8,225.8 253.1,211.2 253.4,192.0 253.7,172.9 254.0,157.5 254.3,146.8 254.6,136.4 254.6,133.8 254.9,138.6 255.2,138.0 255.5,138.7 255.8,141.6 256.1,140.7 256.4,139.5 256.7,140.2 257.0,145.0 257.3,144.8 257.6,149.7 257.9,148.7 258.2,151.9 258.5,151.9 258.8,154.9 259.1,156.7 259.4,159.9 259.7,161.9 260.0,160.5 260.3,160.1 260.6,165.3 260.9,163.0 261.0,163.2 261.2,163.5 261.5,164.5 261.8,162.8 262.1,160.8 262.4,159.4 262.7,154.8 263.0,152.8 263.3,150.8 263.6,147.9 263.9,145.0 264.2,142.9 264.5,139.7 264.8,136.6 265.1,132.4 265.4,134.6 265.7,132.6 266.0,127.9 266.0,129.8 266.3,128.4 266.6,126.8 266.9,121.7 267.2,121.5 267.5,120.8 267.8,122.6 268.1,116.3 268.4,115.2 268.7,112.3 269.0,111.8 269.3,111.9 269.6,107.1 269.9,105.0 270.2,110.1 270.5,108.4 270.8,106.4 271.0,109.0 271.1,109.0 271.4,103.7 271.7,107.1 272.0,109.3 272.3,106.5 272.6,107.6 272.9,109.9 273.2,108.4 273.5,107.0 273.8,109.2 274.1,108.8 274.4,113.1 274.7,109.7 274.7,114.6 275.0,111.2 275.3,115.3 275.6,114.0 275.9,117.3 276.2,120.6 276.5,122.1 276.8,124.4 277.1,123.3 277.4,125.4 277.7,126.6 278.0,129.4 278.3,129.3 278.6,133.7 278.9,134.3 279.2,137.4 279.5,137.7 279.8,140.6 280.1,139.9 280.4,142.0 280.7,142.2 281.0,145.7 281.3,147.5 281.6,150.8 281.9,148.7 282.2,157.4 282.5,152.9 282.8,155.9 283.1,156.8 283.4,150.7 283.5,154.9 283.7,157.9 284.0,151.9 284.3,158.1 284.6,155.1 284.9,156.4 285.2,157.6 285.5,154.1 285.8,157.1 286.1,156.0 286.4,155.4 286.7,158.2 287.0,162.9 287.3,158.0 287.6,158.2 287.9,157.2 288.2,156.7 288.5,158.4 288.5,160.4 288.8,158.3 289.1,159.3 289.4,156.9 289.7,161.5 290.0,153.7 290.3,156.6 290.6,155.4 290.9,154.4 291.2,150.9 291.5,149.8 291.8,150.0 292.1,150.3 292.4,147.6 292.7,147.7 293.0,150.3 293.3,151.3 293.6,148.6 293.6,148.5 293.9,148.3 294.2,153.5 294.5,150.9 294.8,150.0 295.1,152.9 295.4,155.1 295.7,153.2 296.0,149.4 296.3,152.0 296.6,151.7 296.9,152.0 297.2,150.9 297.5,152.9 297.8,152.5 298.1,154.9 298.4,154.7 298.7,152.2 299.0,152.3 299.3,154.9 299.6,157.0 299.9,156.8 300.2,156.6 300.5,151.7 300.8,157.4 301.1,157.8 301.4,159.1 301.7,158.2 302.0,160.2 302.3,160.1 302.6,166.3 302.9,163.2 303.2,161.9 303.5,162.7 303.6,162.3 303.8,163.1 304.1,162.0 304.4,162.7 304.7,164.3 305.0,164.1 305.3,163.2 305.6,164.8 305.9,162.5 306.0,160.3 306.2,159.2 306.5,161.1 306.8,162.0 307.1,162.4 307.4,163.3 307.7,160.3 308.0,159.6 308.3,161.8 308.6,162.4 308.9,159.1 309.2,160.4 309.5,161.9 309.8,159.6 310.1,158.0 310.4,154.4 310.7,160.2 311.0,158.5 311.3,156.9 311.6,155.5 311.9,154.3 312.2,155.5 312.3,155.4 312.5,157.0 312.8,152.7 313.1,156.1 313.4,152.7 313.7,153.2 314.0,146.9 314.3,147.1 314.6,146.6 314.9,142.6 315.2,136.8 315.5,136.6 315.8,136.0 316.1,130.3 316.4,127.3 316.7,127.8 317.0,123.3 317.3,123.6 317.6,118.9 317.9,116.7 318.2,116.9 318.5,118.8 318.8,114.0 319.1,114.8 319.4,114.6 319.7,112.5 319.8,116.1 320.0,114.9 320.3,115.9 320.6,113.3 320.9,114.3 321.2,114.2 321.5,120.2 321.8,122.2 322.1,126.4 322.4,130.1 322.7,129.9 323.0,132.7 323.3,137.0 323.6,141.7 323.9,141.0 324.2,146.5 324.5,148.4 324.8,151.4 325.1,156.3 325.4,156.6 325.7,158.6 326.0,163.6 326.1,162.9 326.3,163.5 326.6,165.9 326.9,168.9 327.2,169.4 327.5,172.9 327.8,174.0 328.1,177.0 328.4,178.3 328.7,179.3 329.0,179.0 329.3,181.6 329.6,181.9 329.9,189.5 330.2,185.9 330.5,189.0 330.8,191.6 331.0,187.9 331.1,189.1 331.4,191.4 331.7,191.9 332.0,192.9 332.3,195.6 332.6,199.4 332.9,199.8 333.2,199.5 333.5,200.1 333.8,198.1 334.1,203.4 334.4,204.8 334.7,203.5 335.0,206.8 335.3,207.4 335.6,207.7 335.9,207.8 336.0,209.1 336.2,209.8 336.5,213.6 336.8,214.7 337.1,215.6 337.4,215.8 337.7,215.9 338.0,221.2 338.3,215.5 338.6,221.4 338.9,220.6 339.2,220.9 339.5,220.0 339.8,220.2 340.0,218.3 340.1,217.8 340.4,220.0 340.7,216.6 341.0,219.3 341.3,217.8 341.6,207.9 341.9,208.3 342.2,208.8 342.5,205.3 342.8,202.2 343.1,199.5 343.4,197.1 343.7,194.3 344.0,192.7 344.3,186.7 344.6,186.1 344.9,179.7 345.2,180.5 345.5,177.7 345.8,181.5 346.1,183.2 346.2,180.2 346.4,177.4 346.7,179.7 347.0,180.4 347.3,181.3 347.6,183.6 347.9,184.0 348.2,178.7 348.5,186.6 348.8,184.3 349.1,184.7 349.4,188.9 349.7,186.2 350.0,185.5 350.0,185.8 350.3,189.0 350.6,190.9 350.9,193.2 351.2,190.9 351.5,191.1 351.8,195.1 352.1,191.8 352.4,195.2 352.5,193.1 352.7,193.2 353.0,190.8 353.3,189.2 353.6,184.7 353.9,180.4 354.2,176.5 354.5,170.9 354.8,167.9 355.1,162.1 355.4,157.1 355.7,153.1 356.0,149.1 356.3,149.2 356.3,146.2 356.6,142.4 356.9,139.5 357.2,138.1 357.5,133.2 357.8,130.5 358.1,126.9 358.4,125.0 358.7,122.3 359.0,119.7 359.3,113.6 359.6,112.4 359.9,108.0 360.2,112.1 360.5,111.5 360.8,110.9 361.1,108.6 361.3,109.8 361.4,107.6 361.7,107.7 362.0,105.4 362.3,107.3 362.6,108.6 362.9,112.5 363.2,114.6 363.5,112.5 363.8,115.5 364.1,117.1 364.4,116.6 364.7,116.7 365.0,120.7 365.3,121.5 365.6,125.6 365.9,128.2 366.2,130.3 366.5,132.5 366.8,136.2 367.1,136.7 367.4,142.1 367.7,140.5 368.0,146.3 368.3,149.7 368.6,149.8 368.9,150.9 369.2,157.2 369.5,157.5 369.8,162.4 370.0,163.7 370.1,163.5 370.4,165.2 370.7,169.7 371.0,171.8 371.3,172.5 371.6,177.8 371.9,181.9 372.2,184.5 372.5,187.2 372.8,189.7 373.1,192.4 373.4,193.6 373.7,195.0 374.0,201.4 374.3,200.3 374.6,202.5 374.9,200.7 375.0,203.2 375.2,201.5 375.5,208.1 375.8,202.1 376.1,202.3 376.4,205.9 376.7,206.8 377.0,201.6 377.3,206.0 377.6,206.7 377.9,203.4 378.2,206.7 378.5,205.2 378.8,204.7 378.9,206.2 379.1,206.1 379.4,204.6 379.7,210.3 380.0,205.9 380.3,205.0 380.6,207.7 380.9,206.2 381.2,208.4 381.5,205.2 381.8,205.9 382.1,204.7 382.4,204.5 382.7,203.7 383.0,203.9 383.3,206.9 383.6,202.3 383.9,202.2 384.2,202.2 384.5,203.6 384.8,202.8 385.1,203.4 385.4,199.2 385.7,202.0 386.0,200.7 386.3,200.2 386.4,200.4 386.6,197.1 386.9,201.4 387.2,202.2 387.5,201.0 387.8,205.0 388.1,209.6 388.4,208.3 388.7,211.5 389.0,211.8 389.3,212.9 389.6,214.3 389.9,216.8 390.0,220.2 390.2,220.0 390.5,218.6 390.8,222.1 391.1,221.0 391.4,221.2 391.7,224.2 392.0,223.4 392.3,223.2 392.6,229.2 392.9,224.9 393.2,229.3 393.5,226.1 393.8,228.9 394.0,228.5 394.1,228.2 394.4,224.9 394.7,228.3 395.0,227.5 395.3,224.8 395.6,225.1 395.9,224.8 396.2,220.9 396.5,221.1 396.8,217.4 397.1,218.7 397.4,217.8 397.7,219.7 397.7,217.2 398.0,214.6 398.3,214.5 398.6,208.9 398.9,210.4 399.2,206.1 399.5,203.4 399.8,203.9 400.1,199.4 400.4,198.7 400.7,191.7 401.0,192.0 401.3,188.3 401.6,186.6 401.9,182.0 402.2,184.4 402.5,181.6 402.7,177.8 402.8,176.5 403.1,176.0 403.4,178.5 403.7,174.2 404.0,171.8 404.3,171.6 404.6,170.0 404.9,169.0 405.2,168.3 405.5,166.7 405.8,166.5 406.1,163.0 406.4,164.5 406.5,163.6 406.7,164.0 407.0,163.0 407.3,162.0 407.6,162.2 407.9,163.4 408.2,160.1 408.5,158.6 408.8,161.3 409.1,161.4 409.4,158.8 409.7,159.3 410.0,157.4 410.3,158.3 410.6,160.6 410.9,159.7 411.2,158.7 411.5,158.2 411.8,156.0 412.1,159.1 412.4,159.1 412.7,160.2 413.0,161.4 413.3,158.4 413.6,158.9 413.9,155.8 414.0,159.7 414.2,159.0 414.5,161.2 414.8,162.6 415.1,166.2 415.4,172.9 415.7,174.5 416.0,182.3 416.3,188.3 416.6,190.4 416.9,194.6 417.2,200.3 417.5,202.1 417.8,204.1 417.8,204.3 418.1,201.9 418.4,203.6 418.7,204.3 419.0,201.5 419.3,200.9 419.6,198.9 419.9,201.0 420.2,201.7 420.5,195.5 420.8,197.9 421.1,197.5 421.4,193.9 421.7,193.2 422.0,191.1 422.3,190.7 422.6,191.3 422.9,191.4 423.2,189.8 423.5,190.7 423.8,188.9 424.0,186.0 424.1,189.8 424.4,188.4 424.7,185.0 425.0,189.1 425.3,186.0 425.6,184.6 425.9,186.9 426.2,179.1 426.5,179.3 426.8,182.2 427.1,180.5 427.4,178.9 427.7,182.5 428.0,180.3 428.3,176.9 428.6,177.2 428.9,179.3 429.2,180.2 429.5,173.7 429.8,176.6 430.1,175.6 430.4,172.9 430.4,175.0 430.7,172.1 431.0,173.2 431.3,176.0 431.6,173.0 431.9,172.4 432.2,171.1 432.5,169.8 432.8,169.8 433.1,165.5 433.4,166.1 433.7,167.4 434.0,163.9 434.3,163.5 434.6,165.5 434.9,165.5 435.2,161.1 435.4,160.6 435.5,162.6 435.8,161.6 436.1,159.1 436.4,160.3 436.7,159.0 437.0,156.9 437.3,161.0 437.6,157.7 437.8,156.7 437.9,156.2 438.2,159.4 438.5,156.0 438.8,153.2 439.1,154.9 439.4,154.6 439.7,153.3 440.0,155.1 440.3,155.7 440.6,155.9 440.9,155.6 441.2,158.3 441.5,155.0 441.8,159.9 442.1,159.3 442.4,160.4 442.7,156.4 443.0,164.0 443.3,159.2 443.6,161.3 443.9,164.8 444.0,163.4 444.2,164.7 444.5,163.9 444.8,170.4 445.1,175.8 445.4,181.4 445.7,185.1 446.0,191.7 446.3,197.9 446.6,201.8 446.9,206.1 447.2,214.8 447.5,212.9 447.8,218.3 447.8,216.0 448.1,220.0 448.4,217.8 448.7,221.3 449.0,221.9 449.3,222.4 449.6,223.9 449.9,222.6 450.2,224.4 450.3,223.8 450.5,225.7 450.8,224.9 451.1,223.0 451.4,225.2 451.7,225.8 452.0,224.7 452.3,228.7 452.6,226.9 452.9,227.3 453.2,224.7 453.5,225.3 453.8,227.8 454.1,224.1 454.4,226.9 454.7,226.4 455.0,225.2 455.3,226.2 455.6,223.9 455.9,226.2 456.2,224.0 456.5,224.2 456.8,228.8 457.1,225.1 457.4,222.7 457.7,227.8 458.0,224.9 458.3,220.3 458.6,225.7 458.9,227.4 459.2,226.9 459.5,229.2 459.8,225.8 460.1,226.9 460.4,224.1 460.7,226.4 461.0,228.3 461.3,226.2 461.6,225.7 461.6,221.7 461.9,224.6 462.2,222.0 462.5,224.0 462.8,219.9 463.1,220.3 463.4,216.4 463.7,219.5 464.0,212.3 464.0,214.9 464.3,215.9 464.6,207.3 464.9,199.6 465.2,195.0 465.5,188.9 465.8,181.7 466.1,170.7 466.4,168.5 466.7,160.2 466.7,167.0 467.0,160.1 467.3,155.4 467.6,154.1 467.9,149.9 468.2,144.1 468.5,145.1 468.8,138.7 469.1,133.0 469.4,135.1 469.7,132.7 470.0,129.2 470.3,125.9 470.6,121.5 470.9,123.0 471.2,123.5 471.5,120.9 471.7,121.4 471.8,117.5 472.1,120.5 472.4,121.1 472.7,117.4 473.0,117.8 473.3,120.1 473.6,122.4 473.9,123.5 474.2,123.2 474.2,123.2 474.5,124.2 474.8,126.1 475.1,128.8 475.4,131.3 475.7,132.5 476.0,135.9 476.3,137.5 476.6,142.5 476.9,143.1 477.2,149.9 477.5,150.2 477.8,153.9 478.1,154.9 478.4,158.4 478.7,162.0 479.0,163.1 479.2,163.0 479.3,162.6 479.6,166.2 479.9,168.1 480.2,170.1 480.5,172.6 480.8,171.1 481.1,169.0 481.4,173.3 481.7,170.7 481.7,171.2 482.0,172.0 482.3,163.9 482.6,153.3 482.9,146.3 483.0,145.8 483.2,141.3 483.5,142.0 483.8,137.7 484.1,138.3 484.4,130.2 484.7,131.1 485.0,126.1 485.3,127.0 485.6,121.7 485.9,122.6 486.2,119.2 486.5,117.3 486.8,116.6 487.1,116.4 487.4,115.3 487.7,117.1 488.0,115.8 488.0,109.5 488.3,113.6 488.6,111.2 488.9,114.9 489.2,117.8 489.5,115.5 489.8,117.1 490.1,121.3 490.4,122.2 490.7,127.3 491.0,126.8 491.3,128.6 491.6,132.6 491.9,130.1 492.2,132.7 492.5,132.3 492.8,135.4 493.0,137.3 493.1,138.1 493.4,136.2 493.7,136.2 494.0,136.5 494.3,135.9 494.6,139.7 494.9,142.8 495.2,137.4 495.5,138.8 495.6,145.3 495.8,141.1 496.1,145.8 496.4,144.4 496.7,149.5 497.0,150.2 497.3,151.0 497.6,153.9 497.9,154.3 498.2,156.6 498.5,161.1 498.8,162.2 499.1,161.8 499.3,162.8 499.4,164.5 499.7,168.3 500.0,173.0 500.3,177.8 500.6,185.7 500.9,191.0 501.2,196.8 501.5,201.5 501.8,206.1 501.8,202.8 502.1,210.2 502.4,212.1 502.7,215.5 503.0,218.3 503.3,222.6 503.6,224.2 503.9,224.9 504.2,225.1 504.4,223.1 504.5,226.4 504.8,225.8 505.1,225.9 505.4,230.6 505.7,223.1 506.0,226.4 506.3,228.9 506.6,228.4 506.9,229.0 507.2,225.1 507.5,225.4 507.8,227.9 508.1,226.3 508.4,229.7 508.7,227.3 509.0,227.2 509.3,227.7 509.6,226.4 509.9,226.9 510.2,225.5 510.5,226.8 510.8,225.9 511.1,227.6 511.4,225.1 511.7,225.3 511.9,228.7 512.0,228.6 512.3,226.5 512.6,227.3 512.9,225.2 513.2,229.1 513.5,221.4 513.8,224.9 514.1,218.4 514.4,217.3 514.4,216.2 514.7,208.2 515.0,196.5 515.3,180.5 515.6,166.3 515.7,162.9 515.9,163.9 516.2,157.8 516.5,151.7 516.8,147.6 517.0,146.5 517.1,145.6 517.4,144.2 517.7,137.3 518.0,136.3 518.3,132.1 518.6,133.7 518.9,132.7 519.2,128.2 519.4,128.9 519.5,130.5 519.8,127.9 520.1,127.7 520.4,132.3 520.7,133.9 521.0,135.3 521.3,140.6 521.6,141.6 521.9,141.0 522.0,145.5 522.2,147.4 522.5,155.3 522.8,156.5 523.1,161.9 523.2,165.0 523.4,168.8 523.7,172.7 524.0,182.3 524.3,188.5 524.6,199.1 524.9,207.6 525.2,207.0 525.5,211.4 525.7,213.5 525.8,214.8 526.1,216.6 526.4,219.9 526.7,223.5 527.0,220.5 527.3,221.5 527.6,222.3 527.9,227.6 528.2,228.1 528.2,223.3 528.5,223.1 528.8,226.5 529.1,228.5 529.4,228.1 529.7,226.3 530.0,227.3 530.3,227.1 530.6,225.5 530.9,230.0 531.2,227.0 531.5,225.2 531.8,226.3 532.1,224.6 532.4,227.0 532.7,228.7 533.0,224.7 533.3,228.9 533.6,230.5 533.9,227.4 534.2,225.0 534.5,225.9 534.8,226.5 535.1,225.0 535.4,225.0 535.7,227.1 536.0,227.3 536.3,228.5 536.6,225.5 536.9,231.2 537.2,229.8 537.5,229.4 537.8,227.1 538.1,230.5 538.4,226.9 538.7,230.4 539.0,229.2 539.3,225.7 539.6,226.6 539.9,231.1 540.2,230.0 540.5,228.2 540.8,228.6 541.1,228.6 541.4,226.9 541.7,228.0 542.0,227.3 542.3,228.1 542.6,229.6 542.9,227.4 543.2,230.4 543.5,228.9 543.8,229.4 544.1,229.1 544.4,229.6 544.6,228.5 544.7,228.5 545.0,226.7 545.3,227.4 545.6,223.7 545.9,223.4 546.2,223.2 546.5,219.4 546.8,218.4 547.0,215.2 547.1,218.8 547.4,214.1 547.7,214.1 548.0,211.5 548.3,211.0 548.6,206.5 548.9,203.6 549.2,200.0 549.5,201.2 549.8,198.2 550.1,199.9 550.4,199.9 550.7,192.1 551.0,192.3 551.3,193.4 551.6,193.5 551.9,190.7 552.0,190.5 552.2,189.9 552.5,189.0 552.8,189.3 553.1,186.4 553.4,181.8 553.7,181.9 554.0,181.3 554.3,178.1 554.6,178.1 554.9,176.5 555.2,175.0 555.5,176.5 555.8,173.4 556.1,170.8 556.4,170.1 556.7,170.5 557.0,173.0 557.0,169.9 557.3,171.6 557.6,168.7 557.9,163.2 558.2,166.4 558.5,163.4 558.8,161.4 559.1,161.5 559.4,166.1 559.6,160.5 559.7,162.0 560.0,165.4 560.3,164.0 560.6,159.5 560.9,162.4 561.2,161.8 561.5,162.9 561.8,165.0 562.1,163.6 562.4,164.4 562.7,168.1 563.0,162.7 563.0,165.4 563.3,167.2 563.6,165.1 563.9,166.9 564.2,166.4 564.5,169.7 564.8,168.6 565.1,170.9 565.4,171.4 565.7,170.1 566.0,169.4 566.3,170.8 566.6,171.0 566.9,168.6 567.0,172.2 567.2,170.6 567.5,171.3 567.8,166.8 568.1,170.3 568.4,172.3 568.7,168.9 569.0,164.5 569.3,166.4 569.6,165.5 569.9,164.9 570.2,163.5 570.5,164.8 570.8,162.8 571.0,163.8 571.1,162.0 571.4,163.5 571.7,165.0 572.0,163.2 572.3,165.6 572.6,163.5 572.9,164.8 573.2,165.4 573.5,168.7 573.8,165.2 574.1,169.5 574.4,165.2 574.7,168.1 575.0,170.1 575.0,170.0 575.3,166.9 575.6,166.2 575.9,169.6 576.2,166.3 576.5,169.4 576.8,167.3 577.1,168.0 577.4,171.4 577.7,170.0 578.0,168.5 578.3,164.0 578.6,166.9 578.9,166.1 579.0,166.1 579.2,168.6 579.5,164.0 579.8,168.1 580.1,168.8 580.4,168.9 580.7,174.4 581.0,170.7 581.3,174.3 581.6,175.6 581.9,172.8 582.0,174.6 582.2,175.8 582.5,179.2 582.8,180.0 583.1,180.0 583.4,180.1 583.7,176.4 584.0,180.9 584.3,179.4 584.5,182.4 584.6,183.0 584.9,183.5 585.2,179.1 585.5,177.5 585.8,172.3 586.1,171.3 586.4,166.4 586.7,167.3 587.0,161.0 587.3,160.3 587.5,157.9 587.6,157.8 587.9,157.1 588.2,153.2 588.5,152.5 588.8,148.0 589.1,149.8 589.4,144.2 589.7,145.1 590.0,145.3 590.3,136.0 590.6,137.6 590.9,138.8 590.9,141.2 591.2,138.7 591.5,141.1 591.8,140.1 592.1,143.4 592.4,141.9 592.7,147.1 593.0,142.8 593.3,146.8 593.4,154.6 593.6,153.4 593.9,155.7 594.2,166.1 594.5,170.1 594.8,176.3 595.1,179.6 595.4,187.3 595.7,192.3 596.0,193.0 596.0,196.4 596.3,198.2 596.6,204.1 596.9,208.1 597.2,208.0 597.5,210.3 597.8,213.0 598.0,214.0 598.1,212.4 598.4,212.9 598.7,213.7 599.0,212.8 599.3,213.6 599.6,211.5 599.9,208.5 600.2,205.9 600.5,209.4 600.8,206.8 601.0,206.3 601.1,206.4 601.4,203.4 601.7,204.7 602.0,200.5 602.3,203.3 602.6,201.7 602.9,205.8 603.2,202.6 603.5,200.7 603.8,200.6 604.1,200.6 604.4,197.2 604.7,197.1 605.0,196.0 605.0,201.1 605.3,196.3 605.6,192.1 605.9,196.0 606.2,198.2 606.5,191.3 606.8,198.2 607.1,191.0 607.4,192.5 607.7,188.7 608.0,188.4 608.3,185.9 608.6,185.0 608.9,181.9 609.0,187.3 609.2,182.6 609.5,184.9 609.8,184.1 610.1,181.4 610.4,181.7 610.7,180.1 611.0,178.8 611.3,178.9 611.6,177.7 611.9,175.0 612.2,173.5 612.5,173.3 612.8,174.3 613.0,175.5 613.1,175.4 613.4,172.9 613.7,173.4 614.0,171.0 614.3,172.0 614.6,169.7 614.9,169.8 615.2,168.2 615.5,168.3 615.8,170.8 616.1,164.3 616.4,166.1 616.7,164.3 617.0,166.3 617.3,167.2 617.3,163.8 617.6,159.3 617.9,164.4 618.2,163.9 618.5,159.2 618.8,161.3 619.1,161.5 619.4,157.8 619.7,162.6 620.0,161.6 620.3,160.9 620.6,158.4 620.9,158.9 621.2,158.8 621.5,160.7 621.8,157.5 622.1,161.5 622.4,159.1 622.7,154.2 623.0,160.2 623.3,157.1 623.6,155.6 623.9,155.9 624.2,151.8 624.5,154.2 624.8,148.4 624.8,150.7 625.1,154.3 625.4,152.8 625.7,148.8 626.0,145.6 626.3,147.5 626.6,143.7 626.9,142.4 627.2,141.4 627.5,136.1 627.8,137.2 628.1,129.8 628.4,133.7 628.6,127.1 628.7,127.6 629.0,124.4 629.3,123.4 629.6,120.3 629.8,117.7 629.9,117.2 630.2,114.1 630.5,110.7 630.8,105.0 631.1,102.3 631.4,100.8 631.7,102.9 631.8,102.9 632.0,103.0 632.3,105.2 632.6,105.8 632.9,106.6 633.2,107.9 633.5,109.8 633.8,117.5 634.1,119.7 634.4,117.5 634.7,121.0 634.9,123.3 635.0,125.7 635.3,123.0 635.6,125.0 635.9,127.4 636.2,123.0 636.5,125.0 636.8,126.7 637.1,125.6 637.4,130.2 637.4,127.8 637.7,126.8 638.0,125.0 638.3,128.2 638.6,127.4 638.9,125.0 639.2,125.1 639.5,123.2 639.8,125.2 640.1,126.4 640.4,126.6 640.7,125.7 641.0,125.8 641.3,122.9 641.6,122.3 641.9,125.2 642.2,123.5 642.4,121.2 642.5,123.4 642.8,123.6 643.1,123.5 643.4,122.3 643.7,121.1 644.0,122.2 644.3,124.3 644.6,121.3 644.9,119.6 645.2,120.4 645.5,117.3 645.8,119.8 646.1,118.6 646.4,120.2 646.7,118.3 647.0,119.6 647.3,121.6 647.6,116.6 647.9,115.1 648.2,116.9 648.5,116.1 648.7,116.8 648.8,115.6 649.1,117.9 649.4,117.1 649.7,115.0 650.0,120.0 650.3,122.8 650.6,125.7 650.9,124.9 651.2,126.8 651.5,132.3 651.8,130.6 652.1,132.8 652.4,134.3 652.5,134.9 652.7,134.5 653.0,132.2 653.3,136.2 653.6,133.9 653.9,134.1 654.2,138.9 654.5,136.5 654.8,132.6 655.0,133.6 655.1,134.4 655.4,132.6 655.7,128.8 656.0,131.4 656.3,128.9 656.6,124.8 656.9,120.4 657.2,118.4 657.5,116.1 657.8,110.8 658.1,110.0 658.4,108.3 658.7,109.7 658.7,109.1 659.0,107.1 659.3,109.4 659.6,115.6 659.9,113.7 660.2,119.0 660.5,121.1 660.8,128.1 661.1,129.0 661.4,131.7 661.7,133.0 662.0,136.4 662.3,139.4 662.5,139.4 662.6,136.0 662.9,140.5 663.2,135.9 663.5,132.2 663.8,131.9 664.1,127.8 664.4,125.4 664.7,121.9 665.0,120.5 665.3,117.9 665.6,114.1 665.9,116.7 666.2,114.3 666.3,117.1 666.5,116.4 666.8,118.5 667.1,120.4 667.4,125.9 667.7,127.3 668.0,131.3 668.3,138.4 668.6,137.2 668.8,144.0 668.9,146.4 669.2,149.5 669.5,157.0 669.8,160.8 670.0,162.5 670.1,163.5 670.4,171.9 670.7,175.1 671.0,182.1 671.3,190.5 671.6,196.8 671.9,205.0 672.2,205.5 672.5,206.1 672.6,211.8 672.8,214.4 673.1,214.1 673.4,218.9 673.7,221.1 674.0,218.7 674.3,220.5 674.6,220.8 674.9,225.2 675.2,225.9 675.5,226.4 675.8,223.8 676.1,224.9 676.3,223.8 676.4,223.7 676.7,224.1 677.0,222.8 677.3,224.4 677.6,224.2 677.9,222.5 678.2,219.6 678.5,217.4 678.8,216.9 679.1,216.0 679.4,212.5 679.7,211.5 680.0,209.3 680.0,208.6 680.3,208.1 680.6,204.0 680.9,206.7 681.2,200.7 681.5,202.5 681.8,197.7 682.1,200.9 682.4,197.8 682.7,193.4 683.0,192.3 683.3,189.9 683.6,190.8 683.9,190.6 684.2,193.5 684.5,185.9 684.8,189.9 685.0,186.5 685.1,187.6 685.4,189.0 685.7,188.9 686.0,189.6 686.3,189.5 686.6,190.9 686.9,192.1 687.2,195.5 687.5,192.1 687.8,195.2 688.1,195.7 688.4,198.2 688.7,199.9 688.9,204.3 689.0,207.0 689.3,207.8 689.6,206.6 689.9,212.3 690.2,213.7 690.5,220.0 690.8,224.0 691.1,224.6 691.4,226.2 691.4,224.3 691.7,221.6 692.0,221.5 692.3,224.8 692.6,225.9 692.9,227.2 693.2,224.4 693.5,224.8 693.8,225.2 694.1,227.3 694.4,225.4 694.7,223.2 695.0,226.9 695.0,225.7 695.3,225.3 695.6,222.0 695.9,224.4 696.2,221.4 696.5,221.0 696.8,224.8 697.1,224.7 697.4,226.2 697.7,227.4 698.0,225.0 698.3,228.0 698.6,223.8 698.9,226.8 699.2,223.5 699.5,226.1 699.8,225.9 700.1,226.4 700.4,228.4 700.7,224.1 701.0,228.0 701.3,227.0 701.3,228.9 701.6,229.7 701.9,227.4 702.2,225.3 702.5,221.9 702.8,222.5 703.1,217.5 703.4,216.5 703.7,210.2 704.0,212.0 704.3,205.3 704.6,206.8 704.9,202.2 705.0,203.1 705.2,201.4 705.5,202.2 705.8,199.8 706.1,200.8 706.4,198.1 706.7,197.0 707.0,197.6 707.3,192.4 707.6,195.5 707.9,192.9 708.2,189.8 708.5,193.1 708.8,191.8 708.8,194.8 709.1,191.5 709.4,192.9 709.7,193.8 710.0,190.7 710.3,195.7 710.6,194.6 710.9,199.6 711.2,201.1 711.5,199.2 711.8,197.1 712.1,201.5 712.4,203.1 712.6,204.5 712.7,203.0 713.0,203.0 713.3,206.0 713.6,206.0 713.9,211.4 714.2,208.2 714.5,208.9 714.8,210.5 715.0,208.6 715.1,209.3 715.4,208.0 715.7,205.5 716.0,202.9 716.3,202.1 716.6,196.9 716.9,190.0 717.2,188.1 717.5,186.7 717.6,183.5 717.8,182.6 718.1,180.1 718.4,179.0 718.7,175.5 719.0,172.9 719.3,169.2 719.6,168.7 719.9,164.0 720.2,165.7 720.2,162.7 720.5,159.3 720.8,157.0 721.1,151.5 721.4,147.3 721.7,142.7 722.0,138.0 722.3,134.7 722.6,133.8 722.7,137.0 722.9,133.9 723.2,134.5 723.5,135.0 723.8,137.4 724.1,140.4 724.4,136.4 724.7,140.1 725.0,140.7 725.3,141.2 725.6,144.8 725.9,143.3 726.2,148.3 726.4,148.5 726.5,147.5 726.8,154.8 727.1,157.9 727.4,162.8 727.7,162.2 727.7,164.3 728.0,167.0 728.3,172.7 728.6,177.2 728.9,174.8 729.2,181.6 729.5,184.3 729.8,189.1 730.1,189.9 730.4,189.7 730.7,193.0 731.0,192.6 731.3,193.2 731.5,194.6 731.6,193.5 731.9,194.2 732.2,190.4 732.5,196.0 732.8,193.1 733.1,190.3 733.4,185.7 733.7,182.8 734.0,184.0 734.3,183.3 734.6,186.7 734.9,183.7 735.2,179.2 735.2,182.4 735.5,181.1 735.8,177.6 736.1,177.8 736.4,175.1 736.7,171.4 737.0,168.5 737.0,169.8 737.3,168.8 737.6,159.8 737.9,154.1 738.2,152.2 738.5,141.3 738.8,144.8 739.0,138.9 739.1,140.5 739.4,139.4 739.7,131.0 740.0,128.5 740.3,131.8 740.6,124.8 740.9,122.7 741.2,121.2 741.5,120.8 741.8,119.4 742.1,115.4 742.4,113.8 742.7,113.6 742.8,114.2 743.0,116.2 743.3,114.3 743.6,118.3 743.9,114.6 744.2,118.6 744.5,122.1 744.8,123.2 745.1,123.7 745.4,124.5 745.7,127.1 746.0,130.4 746.3,132.9 746.5,133.2 746.6,131.9 746.9,135.0 747.2,139.5 747.5,142.6 747.8,141.7 748.1,146.0 748.4,146.3 748.7,150.8 749.0,160.0 749.3,155.9 749.6,156.9 749.9,157.1 750.2,156.7 750.3,155.6 750.5,158.5 750.8,156.6 751.1,157.3 751.4,149.0 751.7,149.1 752.0,146.3 752.3,136.0 752.6,136.1 752.9,127.6 753.2,127.1 753.5,124.7 753.8,119.0 754.1,117.0 754.4,113.5 754.7,114.4 754.8,115.8 755.0,114.0 755.3,115.3 755.6,117.5 755.9,120.1 756.2,118.1 756.5,123.6 756.8,124.5 757.1,128.9 757.4,131.7 757.7,132.2 757.8,134.8 758.0,132.0 758.3,134.2 758.6,134.5 758.9,138.1 759.2,139.5 759.5,140.6 759.8,140.4 760.1,143.9 760.4,144.7 760.7,147.8 761.0,147.1 761.3,150.1 761.6,148.6 761.6,145.2 761.9,148.5 762.2,146.2 762.5,149.8 762.8,149.8 763.1,145.9 763.4,145.2 763.7,140.6 764.0,137.8 764.3,138.9 764.6,137.5 764.9,133.1 765.2,134.5 765.4,133.5 765.5,133.2 765.8,133.4 766.1,130.0 766.4,125.7 766.7,124.6 767.0,122.7 767.3,117.4 767.6,119.6 767.9,117.0 768.2,113.9 768.5,111.9 768.8,118.8 769.0,113.9 769.1,114.0 769.4,118.7 769.7,122.7 770.0,128.6 770.3,137.8 770.6,143.7 770.9,154.4 771.2,156.9 771.5,164.0 771.7,165.1 771.8,161.8 772.1,167.9 772.4,162.6 772.7,166.6 773.0,164.1 773.3,166.3 773.6,164.9 773.9,170.8 774.2,168.7 774.5,170.3 774.8,168.8 775.1,168.9 775.4,168.1 775.7,167.2 776.0,169.3 776.3,168.2 776.6,167.8 776.7,164.8 776.9,166.8 777.2,168.0 777.5,166.1 777.8,167.4 778.1,166.5 778.4,165.0 778.7,165.3 779.0,165.8 779.3,166.4 779.6,166.7 779.9,169.0 780.2,165.6 780.5,163.8 780.8,168.2 781.1,166.5 781.4,166.8 781.7,171.7 782.0,169.8 782.3,167.5 782.6,168.1 782.9,166.6 783.2,168.0 783.5,165.0 783.8,164.6 784.1,164.6 784.4,167.9 784.7,167.2 785.0,163.4 785.3,166.4 785.6,163.8 785.9,166.4 786.2,163.6 786.5,165.2 786.8,163.0 787.1,163.1 787.4,163.2 787.7,163.3 788.0,162.1 788.3,161.0 788.6,165.9 788.9,161.8 789.2,159.0 789.5,158.2 789.8,157.7 790.0,161.8 790.1,165.3 790.4,160.6 790.7,164.8 791.0,164.6 791.3,172.2 791.6,173.4 791.9,176.7 792.2,181.3 792.5,184.8 792.8,185.1 793.0,183.3 793.1,182.5 793.4,184.5 793.7,184.6 794.0,191.7 794.3,189.2 794.6,191.1 794.9,192.1 795.2,195.7 795.5,191.4 795.5,194.2 795.8,192.0 796.1,187.8 796.4,180.4 796.7,180.5 797.0,173.0 797.3,169.3 797.6,167.2 797.9,165.3 798.0,167.0 798.2,163.7 798.5,165.4 798.8,165.9 799.1,166.0 799.4,167.6 799.7,166.5 800.0,169.1 800.3,166.0 800.6,165.0 800.9,167.9 801.2,169.7 801.5,166.9 801.8,166.9 801.8,166.7 802.1,167.5 802.4,166.3 802.7,166.7 803.0,162.3 803.3,167.1 803.6,164.4 803.9,160.5 804.2,163.2 804.5,160.5 804.8,161.0 805.1,154.8 805.4,159.0 805.7,154.4 806.0,149.4 806.3,153.2 806.6,150.3 806.9,147.7 807.2,147.8 807.5,143.8 807.8,147.3 808.1,144.9 808.4,144.0 808.7,146.3 809.0,143.4 809.3,142.2 809.3,141.5 809.6,143.3 809.9,145.6 810.2,143.8 810.5,144.9 810.8,150.3 811.1,151.0 811.4,153.5 811.7,160.0 812.0,157.3 812.3,162.8 812.6,162.6 812.9,167.7 813.1,170.6 813.2,172.8 813.5,171.6 813.8,178.0 814.1,181.3 814.4,183.3 814.7,191.1 815.0,190.3 815.3,192.4 815.6,197.7 815.9,196.6 816.2,205.7 816.5,207.3 816.8,206.8 816.9,208.9 817.1,210.1 817.4,214.3 817.7,211.3 818.0,211.5 818.3,211.4 818.6,215.2 818.9,213.3 819.0,215.9 819.2,216.2 819.5,212.4 819.8,208.3 820.1,208.2 820.4,201.3 820.7,197.5 821.0,194.6 821.3,187.9 821.6,186.4 821.8,192.1 821.9,187.9 822.2,186.5 822.5,189.5 822.8,191.0 823.1,191.9 823.4,196.0 823.7,199.4 824.0,202.0 824.3,204.8 824.3,200.7 824.6,203.5 824.9,210.0 825.2,210.8 825.5,216.8 825.8,218.2 826.1,217.7 826.4,223.1 826.7,221.6 826.8,223.9 827.0,226.0 827.3,228.5 827.6,225.0 827.9,226.8 828.2,226.0 828.5,226.8 828.8,221.4 829.1,224.9 829.3,226.4 829.4,227.0 829.7,223.4 830.0,223.7 830.3,221.2 830.6,214.9 830.9,209.4 831.2,203.4 831.5,198.3 831.8,193.7 832.1,187.1 832.4,176.7 832.7,168.3 833.0,161.2 833.3,157.7 833.6,149.9 833.9,143.7 834.2,138.7 834.5,133.9 834.8,129.3 835.1,124.9 835.4,124.4 835.6,125.1 835.7,125.6 836.0,125.3 836.3,126.5 836.6,132.0 836.9,131.3 837.2,134.7 837.5,136.4 837.8,137.7 838.0,137.7 838.1,140.2 838.4,141.2 838.7,146.0 839.0,143.8 839.3,146.7 839.6,150.2 839.9,149.9 840.2,152.1 840.5,153.8 840.8,150.4 841.1,153.7 841.4,153.0 841.7,157.4 841.9,154.6 842.0,155.7 842.3,157.3 842.6,152.4 842.9,151.2 843.2,149.5 843.5,145.2 843.8,145.1 844.1,141.2 844.4,137.6 844.7,133.3 845.0,129.4 845.3,126.3 845.6,124.1 845.6,122.0 845.9,123.4 846.2,121.9 846.5,117.9 846.8,114.6 847.1,113.0 847.4,110.8 847.7,109.8 848.0,111.2 848.2,106.3 848.3,108.8 848.6,109.3 848.9,108.7 849.2,108.0 849.5,106.5 849.8,107.8 850.1,110.9 850.4,112.5 850.7,109.4 851.0,111.8 851.3,112.5 851.6,114.2 851.9,113.7 852.0,114.4 852.2,115.2 852.5,112.3 852.8,114.9 853.1,112.5 853.4,112.4 853.7,115.6 854.0,115.2 854.3,119.4 854.4,120.4 854.6,118.5 854.9,119.6 855.2,120.1 855.5,121.8 855.8,124.0 856.1,126.3 856.4,126.2 856.7,127.0 857.0,129.0 857.3,133.2 857.6,133.1 857.9,138.4 858.2,137.5 858.2,140.6 858.5,138.4 858.8,141.2 859.1,145.3 859.4,147.6 859.7,148.9 860.0,155.0 860.3,153.7 860.6,155.6 860.9,155.1 861.2,158.9 861.2,157.5 861.5,156.1 861.8,151.1 862.1,152.5 862.4,148.6 862.7,146.9 863.0,145.2 863.3,139.1 863.6,137.8 863.9,136.0 864.2,132.0 864.5,129.3 864.5,127.8 864.8,126.8 865.1,124.1 865.4,126.3 865.7,123.0 866.0,119.1 866.3,120.0 866.6,117.0 866.9,112.7 867.0,120.6 867.2,120.5 867.5,116.9 867.8,119.6 868.1,122.7 868.4,123.9 868.7,125.1 869.0,128.3 869.3,131.7 869.6,133.6 869.9,137.9 870.2,140.2 870.5,141.5 870.8,145.0 870.8,142.0 871.1,149.5 871.4,147.0 871.7,153.0 872.0,157.0 872.3,160.2 872.6,162.1 872.9,165.6 873.2,162.5 873.3,164.3 873.5,164.8 873.8,163.1 874.1,161.5 874.4,162.9 874.7,157.3 875.0,154.2 875.3,151.6 875.6,148.9 875.9,146.5 876.2,142.5 876.5,140.8 876.8,138.0 877.1,136.0 877.4,135.5 877.7,129.9 878.0,132.9 878.3,128.5 878.3,130.6 878.6,129.9 878.9,129.2 879.2,127.3 879.5,134.4 879.8,131.0 880.1,132.0 880.4,136.7 880.7,136.8 881.0,141.7 881.3,143.4 881.6,143.8 881.9,145.1 882.0,146.8 882.2,145.0 882.5,150.2 882.8,153.5 883.1,156.0 883.4,160.5 883.7,160.7 883.8,165.9 884.0,168.4 884.3,166.5 884.6,171.3 884.9,176.2 885.2,176.4 885.5,176.2 885.8,178.7 886.1,183.9 886.4,188.0 886.7,185.0 887.0,188.8 887.3,188.9 887.6,191.3 887.9,194.0 888.2,194.7 888.4,194.4 888.5,199.5 888.8,196.5 889.1,196.9 889.4,200.0 889.7,198.6 890.0,198.9 890.3,200.8 890.6,197.6 890.9,200.7 890.9,200.9 891.2,199.6 891.5,196.8 891.8,196.1 892.1,191.5 892.4,192.3 892.7,190.0 893.0,188.6 893.3,185.2 893.4,184.0 893.6,182.2 893.9,181.6 894.2,179.6 894.5,179.7 894.8,175.1 895.1,171.7 895.4,169.6 895.7,166.0 895.9,165.4 896.0,161.3 896.3,158.9 896.6,155.4 896.9,153.9 897.2,148.5 897.5,144.3 897.8,141.7 898.1,134.7 898.4,134.8 898.4,133.5 898.7,128.9 899.0,129.7 899.3,122.1 899.6,120.0 899.9,119.2 900.2,117.7 900.5,114.1 900.8,109.2 901.1,110.6 901.4,110.1 901.7,114.1 902.0,112.1 902.2,109.9 902.3,107.6 902.6,110.3 902.9,108.1 903.2,111.9 903.5,113.7 903.8,114.3 904.1,117.2 904.4,118.5 904.7,119.5 904.7,122.6 905.0,122.8 905.3,124.6 905.6,127.5 905.9,133.2 906.2,138.2 906.5,142.8 906.8,148.0 907.1,150.0 907.2,148.3 907.4,155.4 907.7,157.4 908.0,160.0 908.3,164.0 908.5,161.3 908.6,164.3 908.9,166.8 909.2,172.2 909.5,169.7 909.7,171.4 909.8,174.6 910.1,173.0 910.4,171.1 910.7,174.4 911.0,168.8 911.3,171.7 911.6,169.7 911.9,170.3 912.2,168.5 912.2,167.5 912.5,169.1 912.8,166.0 913.1,168.2 913.4,165.9 913.7,167.0 914.0,163.7 914.3,162.1 914.6,162.2 914.9,162.4 915.2,155.4 915.5,157.6 915.8,157.6 916.0,153.2 916.1,153.4 916.4,154.3 916.7,150.4 917.0,149.1 917.3,151.6 917.6,145.6 917.9,144.7 918.2,141.7 918.5,143.7 918.5,143.3 918.8,148.5 919.1,148.7 919.4,146.7 919.7,154.9 920.0,155.7 920.3,157.3 920.6,161.7 920.9,163.3 921.0,161.9 921.2,161.5 921.5,164.2 921.8,167.3 922.0,167.7 922.1,168.1 922.4,174.8 922.7,176.0 923.0,185.3 923.3,188.6 923.6,195.3 923.9,198.2 924.0,201.6 924.2,202.7 924.5,205.4 924.8,213.0 925.1,216.9 925.4,221.2 925.7,221.7 925.8,219.7 926.0,219.8 926.3,213.7 926.6,212.1 926.9,211.3 927.2,207.0 927.5,202.3 927.5,201.6 927.8,198.5 928.1,195.6 928.4,189.2 928.7,188.0 929.0,189.1 929.0,188.9 929.3,185.3 929.6,181.1 929.9,178.7 930.2,175.4 930.5,172.0 930.8,167.6 931.1,168.5 931.4,165.2 931.5,164.8 931.7,166.4 932.0,161.2 932.3,155.6 932.6,154.4 932.9,147.9 933.2,148.8 933.5,144.6 933.8,140.6 934.1,138.9 934.4,138.2 934.7,132.1 935.0,128.7 935.3,131.8 935.6,126.9 935.9,128.4 936.2,123.9 936.3,125.5 936.5,123.5 936.8,124.9 937.1,122.9 937.4,122.0 937.7,125.3 938.0,123.4 938.3,119.3 938.6,121.8 938.8,120.5 938.9,119.7 939.2,120.0 939.5,119.2 939.8,118.3 940.1,115.8 940.4,112.7 940.7,113.4 941.0,114.0 941.3,108.5 941.6,111.3 941.9,111.0 942.0,109.4 942.2,111.1 942.5,109.4 942.8,111.0 943.1,111.6 943.4,115.5 943.7,117.9 943.8,115.3 944.0,119.6 944.3,116.6 944.6,120.9 944.9,123.2 945.2,130.4 945.5,128.8 945.8,133.5 946.1,129.9 946.3,133.6 946.4,134.1 946.7,133.0 947.0,127.6 947.3,131.8 947.6,131.8 947.9,131.8 948.2,129.1 948.5,124.5 948.8,125.7 948.9,127.1 949.1,122.8 949.4,123.4 949.7,119.8 950.0,118.5 950.3,118.1 950.6,113.7 950.9,118.4 951.2,113.0 951.4,113.2 951.5,111.6 951.8,113.8 952.1,114.8 952.4,114.9 952.7,116.8 953.0,122.4 953.3,125.1 953.6,123.5 953.9,127.3 953.9,130.3 954.2,133.6 954.5,138.1 954.8,138.0 955.1,144.7 955.4,147.0 955.7,150.7 956.0,155.4 956.3,161.5 956.4,161.9 956.6,165.4 956.9,168.6 957.2,174.8 957.5,176.3 957.6,177.6 957.8,177.9 958.1,177.1 958.4,178.4 958.7,177.1 959.0,176.8 959.3,174.8 959.6,175.7 959.9,173.5 960.1,174.5 960.2,173.1 960.5,172.6 960.8,170.2 961.1,167.6 961.4,166.6 961.7,171.5 962.0,168.7 962.3,168.4 962.6,166.6 962.9,165.3 963.2,170.7 963.5,163.7 963.8,165.6 963.9,165.5 964.1,163.2 964.4,162.7 964.7,163.5 965.0,164.5 965.3,164.3 965.6,166.6 965.9,163.7 966.2,166.8 966.5,168.8 966.8,167.9 967.1,165.1 967.4,163.1 967.7,170.1 968.0,170.6 968.3,169.4 968.6,172.6 968.9,169.6 968.9,170.3 969.2,168.1 969.5,169.7 969.8,168.3 970.1,168.0 970.4,169.6 970.7,167.3 971.0,163.5 971.3,166.2 971.6,165.9 971.9,162.7 972.2,162.8 972.5,163.5 972.7,162.9 972.8,163.8 973.1,164.6 973.4,162.9 973.7,167.8 974.0,162.7 974.3,163.1 974.6,167.2 974.9,167.8 975.2,163.2 975.2,162.9 975.5,161.2 975.8,163.6 976.1,160.1 976.4,155.9 976.7,155.2 977.0,153.7 977.3,149.7 977.6,149.4 977.7,146.5" fill="none" stroke="#f08c28" stroke-width="0.8" stroke-linejoin="round" opacity="1"/>
<polyline points="74.0,231.1 74.3,229.9 74.6,229.8 74.9,228.8 75.2,230.5 75.5,230.0 75.8,228.3 76.1,228.6 76.4,229.4 76.7,227.5 77.0,226.8 77.0,227.4 77.3,227.3 77.6,225.5 77.9,226.9 78.2,228.1 78.5,226.4 78.8,227.1 79.1,224.9 79.4,227.4 79.7,228.6 80.0,228.2 80.3,226.3 80.6,226.1 80.9,227.5 81.2,226.2 81.5,227.2 81.8,225.9 82.1,227.8 82.4,227.7 82.7,228.0 83.0,227.3 83.3,226.7 83.6,227.6 83.9,227.0 84.2,227.4 84.5,227.4 84.8,227.9 85.1,228.7 85.4,225.8 85.7,227.8 86.0,228.4 86.3,227.6 86.6,229.9 86.9,227.3 87.2,230.0 87.5,228.5 87.8,229.1 88.1,227.9 88.4,228.4 88.7,225.9 89.0,225.9 89.3,224.3 89.6,226.4 89.9,224.9 90.0,226.1 90.2,225.5 90.5,223.7 90.8,224.8 91.1,224.6 91.4,224.1 91.7,223.9 92.0,224.1 92.3,224.4 92.6,225.3 92.9,223.7 93.2,223.9 93.5,224.5 93.8,225.9 94.1,224.8 94.4,226.7 94.7,221.7 95.0,223.8 95.3,224.9 95.6,224.9 95.9,225.8 96.2,225.1 96.5,224.0 96.8,225.3 97.1,225.5 97.4,222.4 97.7,225.0 98.0,224.3 98.3,223.6 98.6,224.1 98.9,224.1 99.2,223.9 99.5,223.1 99.8,221.6 100.0,222.2 100.1,221.3 100.4,222.4 100.7,221.6 101.0,222.0 101.3,223.4 101.6,222.5 101.9,222.5 102.2,220.1 102.5,221.8 102.8,222.4 103.1,221.7 103.4,222.3 103.7,219.6 104.0,221.5 104.3,220.7 104.6,219.3 104.9,221.1 105.2,220.3 105.5,221.2 105.8,221.3 106.1,221.9 106.4,220.9 106.7,220.4 107.0,221.1 107.3,221.8 107.6,218.9 107.9,221.3 108.2,220.9 108.5,220.4 108.8,222.6 109.1,221.8 109.4,219.7 109.7,219.5 110.0,221.2 110.3,220.2 110.6,220.3 110.9,218.2 111.2,220.3 111.5,221.0 111.8,218.9 112.1,219.4 112.4,220.5 112.7,220.2 113.0,220.7 113.3,219.7 113.6,219.9 113.9,216.9 114.2,217.7 114.5,217.0 114.8,219.8 115.0,218.5 115.1,218.7 115.4,218.0 115.7,217.9 116.0,215.7 116.3,220.4 116.6,218.2 116.9,218.8 117.2,217.2 117.5,218.7 117.8,218.9 118.1,218.8 118.4,219.4 118.7,218.2 119.0,218.8 119.3,219.0 119.6,219.5 119.9,219.0 120.2,219.1 120.5,218.0 120.8,219.1 121.1,217.7 121.4,217.4 121.7,219.1 122.0,216.7 122.3,217.8 122.6,219.4 122.9,219.7 123.2,218.7 123.5,219.1 123.8,219.2 124.1,218.7 124.4,218.9 124.7,220.7 125.0,220.8 125.3,220.2 125.6,221.2 125.9,219.8 126.2,218.9 126.5,219.7 126.8,220.7 127.1,218.0 127.4,218.3 127.7,218.5 128.0,219.5 128.3,217.4 128.6,218.6 128.9,219.4 129.2,217.8 129.5,217.8 129.8,217.8 130.0,218.9 130.1,218.4 130.4,218.7 130.7,219.3 131.0,218.6 131.3,220.0 131.6,220.2 131.9,216.9 132.2,218.3 132.5,219.1 132.8,218.5 133.1,219.1 133.4,220.1 133.7,221.1 134.0,221.8 134.3,220.4 134.6,221.1 134.9,220.4 135.2,221.1 135.5,219.7 135.8,219.2 136.1,220.7 136.4,221.3 136.7,220.5 137.0,218.2 137.3,219.0 137.6,217.9 137.9,218.7 138.2,217.3 138.5,218.6 138.8,217.5 139.1,218.5 139.4,218.8 139.7,216.0 140.0,217.1 140.0,218.9 140.3,217.1 140.6,218.3 140.9,217.7 141.2,217.0 141.5,217.5 141.8,218.6 142.1,219.2 142.4,219.4 142.7,216.9 143.0,219.1 143.3,217.4 143.6,218.2 143.9,217.9 144.2,219.2 144.5,219.1 144.8,219.0 145.1,217.2 145.4,218.0 145.5,217.2 145.7,212.1 146.0,192.8 146.3,174.1 146.6,165.1 146.6,165.5 146.9,164.6 147.2,164.1 147.5,165.2 147.8,165.2 148.1,165.3 148.4,166.7 148.7,164.4 149.0,167.0 149.3,162.6 149.6,166.4 149.9,164.3 150.2,166.9 150.5,164.6 150.8,166.0 151.1,163.7 151.4,163.4 151.7,165.9 152.0,165.8 152.3,164.5 152.6,167.3 152.9,165.3 153.2,167.3 153.5,164.8 153.8,164.3 154.1,165.2 154.4,164.1 154.7,165.4 155.0,163.7 155.3,165.2 155.6,165.1 155.9,164.7 156.2,165.2 156.5,164.8 156.8,164.8 157.1,165.6 157.4,165.8 157.7,166.0 158.0,166.9 158.3,165.9 158.6,166.8 158.9,165.8 159.2,166.7 159.5,166.6 159.8,166.2 160.1,165.8 160.4,165.5 160.7,166.2 161.0,167.2 161.3,166.8 161.6,167.1 161.9,167.4 162.2,167.8 162.5,167.9 162.8,166.6 163.1,167.4 163.4,167.9 163.7,165.6 164.0,167.1 164.3,166.0 164.6,166.8 164.9,167.1 165.2,164.9 165.5,166.3 165.8,165.9 166.1,166.9 166.4,165.0 166.7,166.2 167.0,164.6 167.3,165.3 167.6,166.3 167.9,166.0 168.2,166.0 168.5,166.2 168.8,167.0 169.1,166.8 169.4,166.0 169.7,166.0 170.0,166.3 170.3,169.5 170.6,167.1 170.9,166.5 171.2,167.2 171.5,168.3 171.8,166.2 172.1,166.6 172.4,165.2 172.7,166.2 173.0,167.5 173.3,166.5 173.6,165.8 173.9,165.4 174.2,165.7 174.5,164.8 174.8,164.3 175.1,163.7 175.4,166.5 175.7,163.6 176.0,165.3 176.3,163.7 176.6,165.0 176.9,163.5 177.2,163.1 177.5,164.7 177.8,162.1 178.1,163.3 178.4,162.6 178.7,162.6 179.0,163.3 179.3,163.3 179.6,164.3 179.9,165.7 180.2,163.5 180.5,164.0 180.8,163.6 181.1,164.1 181.4,165.2 181.5,164.7 181.7,170.2 182.0,191.6 182.3,215.3 182.5,216.0 182.6,215.6 182.9,217.7 183.2,218.4 183.5,218.6 183.8,217.5 184.1,217.6 184.4,218.8 184.7,218.8 185.0,219.2 185.3,218.3 185.6,221.8 185.9,220.4 186.2,222.9 186.5,219.0 186.8,219.3 187.1,218.6 187.4,219.9 187.7,219.2 188.0,219.7 188.3,216.6 188.6,219.5 188.9,221.0 189.2,217.7 189.5,219.9 189.8,220.8 190.1,222.1 190.4,220.4 190.7,220.8 191.0,222.6 191.3,221.4 191.6,219.0 191.9,218.6 192.2,221.4 192.5,220.3 192.8,218.9 193.1,218.9 193.4,219.6 193.7,218.9 194.0,218.7 194.3,219.0 194.6,216.5 194.9,221.1 195.2,220.3 195.5,220.9 195.8,217.4 196.1,217.2 196.4,218.0 196.7,218.7 197.0,215.2 197.3,218.8 197.6,216.9 197.9,218.2 198.2,217.6 198.5,221.9 198.8,219.7 199.1,218.6 199.4,221.1 199.7,218.8 200.0,217.8 200.3,218.6 200.6,218.3 200.9,218.4 201.2,219.4 201.5,217.9 201.8,217.6 202.1,218.5 202.4,217.7 202.7,219.7 203.0,218.7 203.3,217.2 203.6,216.9 203.9,216.5 204.2,220.9 204.5,220.1 204.8,219.6 205.1,218.5 205.4,220.7 205.7,220.2 206.0,220.8 206.3,218.4 206.6,217.9 206.9,221.7 207.2,218.3 207.5,219.5 207.8,221.4 208.1,216.3 208.4,219.1 208.7,218.9 209.0,218.8 209.3,219.2 209.6,217.4 209.9,215.8 210.2,221.8 210.5,218.5 210.8,220.4 211.1,220.9 211.4,219.2 211.7,219.3 212.0,220.3 212.3,221.1 212.6,219.1 212.9,220.0 213.2,217.6 213.5,217.3 213.8,217.5 214.1,217.7 214.4,217.4 214.7,219.5 215.0,218.2 215.3,217.4 215.6,219.4 215.9,217.1 216.2,217.8 216.5,218.6 216.8,217.6 217.1,216.7 217.4,219.3 217.7,219.0 218.0,218.3 218.3,219.9 218.6,219.5 218.9,219.1 219.2,217.4 219.5,219.5 219.8,222.2 220.1,220.6 220.4,220.7 220.7,219.2 221.0,221.0 221.3,218.4 221.6,218.6 221.9,219.9 222.2,216.7 222.5,218.5 222.8,219.2 223.1,221.6 223.4,218.4 223.7,221.1 224.0,219.4 224.3,219.9 224.6,216.3 224.9,218.8 225.2,222.1 225.5,220.8 225.8,220.8 226.1,224.6 226.4,221.8 226.7,219.0 227.0,220.7 227.3,220.0 227.6,222.2 227.9,218.0 228.2,220.3 228.5,221.2 228.8,219.1 229.1,220.3 229.4,216.7 229.7,220.1 230.0,217.2 230.3,220.0 230.6,222.6 230.9,220.2 231.2,219.6 231.5,219.5 231.8,222.3 232.1,219.4 232.4,219.9 232.7,218.0 233.0,218.1 233.3,217.0 233.6,217.5 233.9,216.6 234.2,219.1 234.5,219.7 234.8,218.8 235.1,218.6 235.4,215.1 235.7,218.8 236.0,220.0 236.3,219.8 236.6,213.9 236.9,214.5 237.2,218.3 237.5,217.3 237.8,219.2 238.1,218.4 238.4,220.1 238.7,216.5 239.0,218.9 239.3,220.9 239.6,219.5 239.9,218.8 240.2,221.1 240.5,220.5 240.8,219.0 241.1,220.4 241.4,219.9 241.7,218.8 242.0,219.6 242.3,216.4 242.6,218.9 242.9,217.6 243.2,216.9 243.5,218.0 243.8,220.6 244.1,218.3 244.4,218.1 244.7,217.8 245.0,217.0 245.3,219.7 245.6,222.3 245.9,220.9 246.2,219.8 246.5,220.4 246.8,218.5 247.1,217.4 247.4,216.1 247.7,220.3 248.0,217.7 248.3,218.0 248.6,218.4 248.9,219.2 249.2,218.3 249.5,218.8 249.8,219.1 250.1,220.9 250.4,217.6 250.7,219.9 251.0,218.5 251.3,218.7 251.6,221.7 251.9,219.8 252.2,218.0 252.5,219.5 252.8,218.3 253.1,220.6 253.4,217.2 253.7,218.7 254.0,217.2 254.3,217.6 254.6,217.3 254.9,217.4 255.2,218.7 255.5,220.0 255.8,217.9 256.1,218.0 256.4,219.4 256.7,217.6 257.0,220.4 257.3,219.9 257.6,215.1 257.9,217.6 258.2,216.9 258.5,219.0 258.8,219.5 259.1,216.2 259.4,217.1 259.7,218.1 260.0,217.8 260.3,219.2 260.6,219.6 260.9,219.2 261.2,220.3 261.5,219.8 261.8,218.7 262.1,218.2 262.4,217.3 262.7,219.9 263.0,220.4 263.3,220.6 263.6,218.8 263.9,218.8 264.2,219.9 264.5,221.0 264.8,219.7 265.1,219.5 265.4,217.7 265.7,219.7 266.0,219.9 266.3,217.6 266.6,220.7 266.9,216.6 267.2,219.2 267.5,217.7 267.8,218.8 268.1,217.7 268.4,217.9 268.7,220.2 269.0,219.0 269.3,218.8 269.6,220.7 269.9,220.3 270.2,219.1 270.5,219.7 270.8,221.0 271.1,218.3 271.4,218.2 271.7,218.4 272.0,216.6 272.3,215.4 272.6,218.2 272.9,219.9 273.2,219.0 273.5,217.5 273.8,218.3 274.1,219.5 274.4,218.0 274.7,215.5 275.0,219.1 275.3,217.7 275.6,217.4 275.9,218.7 276.0,219.5 276.2,217.4 276.5,214.6 276.8,209.9 277.1,209.8 277.4,206.6 277.7,205.6 278.0,202.1 278.3,196.7 278.6,195.0 278.9,190.2 279.0,189.3 279.2,187.1 279.5,185.2 279.8,184.3 280.1,183.3 280.4,178.6 280.7,178.8 281.0,179.7 281.3,173.5 281.5,175.1 281.6,175.7 281.9,176.6 282.2,177.2 282.5,175.4 282.8,174.1 283.1,172.3 283.4,173.6 283.7,173.8 284.0,174.4 284.3,172.5 284.6,175.8 284.9,172.4 285.2,174.1 285.5,173.0 285.8,171.4 286.0,173.4 286.1,173.0 286.4,173.1 286.7,174.9 287.0,173.4 287.3,178.1 287.6,176.7 287.9,174.1 288.2,172.5 288.5,178.9 288.8,177.9 289.1,177.8 289.4,175.9 289.7,175.6 290.0,175.6 290.3,182.3 290.6,181.4 290.9,178.5 291.0,181.4 291.2,175.4 291.5,178.8 291.8,178.4 292.1,175.6 292.4,176.5 292.7,175.5 293.0,176.9 293.3,178.2 293.6,176.4 293.9,174.5 294.2,175.1 294.5,170.7 294.8,176.2 295.1,172.5 295.4,169.9 295.7,171.1 296.0,170.3 296.3,171.3 296.6,171.1 296.9,166.7 297.0,172.6 297.2,172.7 297.5,167.7 297.8,170.9 298.1,170.7 298.4,170.7 298.7,171.3 299.0,166.5 299.3,168.9 299.6,165.8 299.9,170.7 300.2,165.4 300.5,164.5 300.8,168.0 301.0,167.0 301.1,166.0 301.4,165.7 301.7,166.2 302.0,167.7 302.3,163.8 302.6,164.5 302.9,164.6 303.2,165.4 303.5,165.4 303.8,163.3 304.1,165.6 304.4,164.0 304.7,165.0 305.0,164.5 305.3,164.1 305.6,167.2 305.9,167.6 306.2,166.4 306.5,167.1 306.8,164.0 307.0,166.7 307.1,164.3 307.4,165.5 307.7,165.3 308.0,163.7 308.3,165.0 308.6,166.2 308.9,166.4 309.2,165.5 309.5,164.7 309.8,164.7 310.1,167.1 310.4,166.1 310.7,166.7 311.0,168.4 311.0,168.7 311.3,167.1 311.6,166.7 311.9,170.4 312.2,172.6 312.5,171.6 312.8,173.0 313.1,170.9 313.4,177.0 313.7,175.3 314.0,179.2 314.0,177.0 314.3,179.8 314.6,182.0 314.9,182.0 315.2,191.7 315.5,188.3 315.8,194.8 316.1,196.1 316.4,200.3 316.7,205.4 317.0,202.7 317.0,205.4 317.3,208.2 317.6,209.7 317.9,212.8 318.2,213.5 318.5,214.2 318.8,216.0 319.1,218.9 319.4,221.9 319.7,222.0 320.0,223.8 320.0,221.1 320.3,221.3 320.6,222.1 320.9,219.5 321.2,222.6 321.5,219.3 321.8,220.9 322.1,225.3 322.4,219.2 322.7,220.9 323.0,220.7 323.3,220.7 323.6,220.7 323.9,220.1 324.2,223.3 324.5,216.9 324.8,218.7 325.1,223.0 325.4,221.2 325.7,219.4 326.0,218.9 326.3,220.7 326.6,225.0 326.9,221.6 327.2,219.3 327.5,221.4 327.8,220.4 328.1,223.1 328.4,220.8 328.7,222.4 329.0,221.3 329.3,224.2 329.6,222.2 329.9,221.9 330.2,219.8 330.5,220.8 330.8,222.2 331.1,219.9 331.4,224.5 331.7,221.4 332.0,220.5 332.3,222.8 332.6,219.7 332.9,220.9 333.2,220.3 333.5,219.2 333.8,222.9 334.1,220.4 334.4,221.6 334.7,219.8 335.0,218.2 335.3,218.2 335.6,219.2 335.9,220.0 336.2,220.8 336.5,221.9 336.8,219.3 337.1,221.3 337.4,218.5 337.7,219.7 338.0,224.9 338.3,223.4 338.6,220.6 338.9,223.9 339.2,224.0 339.5,223.2 339.8,224.1 340.1,220.7 340.4,220.7 340.7,219.1 341.0,221.0 341.3,218.6 341.6,219.9 341.9,221.1 342.2,219.3 342.5,220.7 342.8,222.8 343.1,218.5 343.4,222.2 343.7,219.4 344.0,218.8 344.3,220.9 344.6,222.5 344.9,220.4 345.2,220.2 345.5,220.6 345.8,220.6 346.1,222.0 346.4,220.2 346.7,220.9 347.0,221.5 347.3,220.6 347.6,223.7 347.9,221.6 348.2,221.5 348.5,225.2 348.8,224.0 349.1,221.6 349.4,222.7 349.7,222.1 350.0,220.9 350.3,222.9 350.6,222.7 350.9,224.2 351.2,219.0 351.5,222.2 351.8,221.8 352.1,220.3 352.4,221.1 352.7,221.6 353.0,220.1 353.3,221.5 353.6,223.8 353.9,220.1 354.2,221.4 354.5,218.0 354.8,220.3 355.1,222.3 355.4,221.0 355.7,221.2 356.0,219.4 356.3,221.7 356.6,219.7 356.9,221.8 357.2,220.4 357.5,219.7 357.8,222.5 358.1,220.1 358.4,222.7 358.7,221.2 359.0,220.7 359.3,222.0 359.6,220.7 359.9,219.7 360.2,219.6 360.5,220.0 360.8,219.6 361.1,218.6 361.4,217.7 361.7,214.7 362.0,218.5 362.3,218.5 362.6,221.0 362.9,220.4 363.2,221.3 363.5,222.4 363.8,219.4 364.1,218.6 364.4,221.7 364.7,219.7 365.0,219.9 365.3,223.0 365.6,221.5 365.9,222.3 366.2,218.7 366.5,220.6 366.8,222.5 367.1,219.2 367.4,221.3 367.7,221.4 368.0,217.3 368.3,223.0 368.6,219.9 368.9,220.8 369.2,223.4 369.5,218.3 369.8,221.7 370.1,220.5 370.4,221.0 370.7,219.1 371.0,222.6 371.3,219.5 371.6,221.8 371.9,222.1 372.2,221.1 372.5,220.5 372.8,220.0 373.1,221.9 373.4,221.1 373.7,220.4 374.0,219.4 374.3,221.5 374.6,221.9 374.9,220.6 375.2,222.4 375.5,217.5 375.8,224.9 376.1,221.1 376.4,220.0 376.7,218.9 377.0,223.2 377.3,222.5 377.6,221.2 377.9,221.4 378.2,221.7 378.5,220.5 378.8,222.6 379.1,222.0 379.4,219.9 379.7,218.1 380.0,223.0 380.3,220.1 380.6,218.9 380.9,222.7 381.2,221.1 381.5,217.6 381.8,219.1 382.1,221.7 382.4,220.3 382.7,221.9 383.0,226.1 383.3,227.0 383.6,222.2 383.9,223.5 384.2,223.5 384.5,221.2 384.8,218.7 385.1,222.4 385.4,219.9 385.7,220.4 386.0,221.2 386.3,219.1 386.6,223.1 386.9,219.4 387.2,220.3 387.5,219.6 387.8,221.7 388.1,222.5 388.4,221.1 388.7,222.7 389.0,221.2 389.3,220.4 389.6,221.4 389.9,222.8 390.2,222.4 390.5,223.9 390.8,220.8 391.1,221.3 391.4,222.2 391.7,223.1 392.0,221.8 392.3,220.6 392.6,219.8 392.9,223.5 393.2,223.8 393.5,221.0 393.8,224.6 394.1,222.0 394.4,222.5 394.7,223.3 395.0,220.2 395.3,219.5 395.6,218.4 395.9,221.0 396.2,220.8 396.5,221.6 396.8,220.4 397.1,219.4 397.4,220.3 397.7,217.1 398.0,219.5 398.3,220.1 398.6,218.8 398.9,221.3 399.2,219.0 399.5,221.0 399.8,220.5 400.1,219.0 400.4,223.1 400.7,221.9 401.0,220.6 401.3,220.2 401.6,218.7 401.9,220.1 402.2,220.3 402.5,220.7 402.8,220.3 403.1,221.2 403.4,220.1 403.7,218.0 404.0,219.3 404.3,219.0 404.6,218.7 404.9,220.6 405.2,222.2 405.5,218.9 405.8,217.3 406.1,220.1 406.4,224.4 406.7,219.8 407.0,221.2 407.3,219.9 407.6,222.3 407.9,223.1 408.2,220.7 408.5,222.7 408.8,220.1 409.1,221.9 409.4,220.2 409.7,223.6 410.0,222.4 410.3,223.8 410.6,221.3 410.9,223.4 411.2,223.0 411.5,221.6 411.8,220.5 412.1,219.9 412.4,220.5 412.7,221.9 413.0,220.8 413.3,221.0 413.6,223.2 413.9,220.6 414.2,221.5 414.5,222.4 414.8,221.8 415.1,221.9 415.4,222.4 415.7,225.3 416.0,222.3 416.3,221.9 416.6,222.8 416.9,224.4 417.2,223.7 417.5,221.9 417.8,223.8 418.1,223.2 418.4,222.5 418.7,223.0 419.0,222.5 419.3,221.8 419.6,224.5 419.9,221.4 420.2,224.7 420.5,225.7 420.8,225.5 421.1,222.4 421.4,221.4 421.7,218.8 422.0,220.7 422.3,225.0 422.6,219.4 422.9,219.8 423.2,222.8 423.5,222.8 423.8,219.4 424.1,221.6 424.4,222.5 424.7,220.1 425.0,223.9 425.3,221.2 425.6,225.1 425.9,223.4 426.2,221.9 426.5,220.1 426.8,222.3 427.1,222.2 427.4,221.4 427.7,221.4 428.0,221.8 428.3,222.8 428.6,220.0 428.9,220.7 429.2,221.7 429.5,221.3 429.8,222.3 430.1,223.6 430.4,220.4 430.7,221.0 431.0,216.2 431.3,219.8 431.6,221.0 431.9,218.6 432.2,222.3 432.5,217.7 432.8,222.8 433.1,219.9 433.4,219.0 433.7,219.2 434.0,220.0 434.3,219.0 434.6,219.0 434.9,220.0 435.2,222.8 435.5,221.5 435.8,222.5 436.1,219.7 436.4,220.1 436.7,220.2 437.0,221.3 437.3,221.6 437.6,223.4 437.9,222.3 438.2,221.6 438.5,224.0 438.8,220.8 439.1,220.2 439.4,223.7 439.7,222.2 440.0,222.4 440.3,223.5 440.6,221.7 440.9,222.3 441.2,223.1 441.5,223.0 441.8,223.5 442.1,221.6 442.4,221.5 442.7,217.4 443.0,222.6 443.3,218.5 443.6,220.5 443.9,223.4 444.2,219.6 444.5,218.0 444.8,222.7 445.1,219.4 445.4,219.7 445.7,219.8 446.0,221.4 446.3,221.1 446.6,220.0 446.9,221.6 447.2,218.6 447.5,221.4 447.8,218.7 448.1,220.5 448.4,218.6 448.7,219.5 449.0,222.3 449.3,218.1 449.6,218.4 449.9,221.1 450.2,219.7 450.5,219.9 450.8,220.2 451.1,224.2 451.4,219.8 451.7,221.3 452.0,221.7 452.3,219.9 452.6,221.2 452.9,222.3 453.2,219.8 453.5,223.4 453.8,220.3 454.1,221.8 454.4,222.3 454.7,226.1 455.0,217.8 455.3,220.5 455.6,223.7 455.9,219.0 456.2,220.8 456.5,220.1 456.8,217.4 457.1,219.6 457.4,217.6 457.7,219.3 458.0,217.5 458.3,221.5 458.6,217.3 458.9,220.9 459.2,223.3 459.5,221.7 459.8,221.3 460.1,221.3 460.4,220.8 460.7,226.1 461.0,222.1 461.3,222.2 461.6,220.6 461.9,220.4 462.2,222.2 462.5,220.6 462.8,220.2 463.1,221.4 463.4,221.2 463.7,221.8 464.0,220.8 464.3,221.6 464.6,221.0 464.9,223.5 465.2,222.4 465.5,221.7 465.8,222.3 466.1,221.1 466.4,218.9 466.7,220.6 467.0,223.6 467.3,221.8 467.6,223.1 467.9,219.9 468.2,217.9 468.5,219.4 468.8,222.4 469.1,218.5 469.4,219.7 469.7,223.3 470.0,221.3 470.3,221.8 470.6,222.5 470.9,221.7 471.2,220.9 471.5,221.4 471.8,220.8 472.1,221.8 472.4,222.7 472.7,220.7 473.0,222.0 473.3,220.2 473.6,222.9 473.9,222.2 474.2,223.2 474.5,223.6 474.8,224.2 475.1,224.0 475.4,221.2 475.7,223.9 476.0,221.7 476.3,226.4 476.6,223.2 476.9,223.8 477.2,221.2 477.5,224.6 477.8,224.6 478.1,220.8 478.4,222.0 478.7,222.2 479.0,221.8 479.3,224.5 479.6,224.8 479.9,219.9 480.2,222.6 480.5,220.4 480.8,223.0 481.1,216.9 481.4,219.7 481.7,222.2 482.0,219.6 482.3,222.4 482.6,220.4 482.9,223.5 483.2,222.6 483.5,221.3 483.8,220.5 484.1,221.4 484.4,223.4 484.7,221.5 485.0,220.8 485.3,226.5 485.6,218.6 485.9,220.7 486.2,221.3 486.5,218.0 486.8,219.9 487.1,219.0 487.4,217.7 487.7,220.4 488.0,217.6 488.3,218.2 488.6,220.7 488.9,217.0 489.2,219.4 489.5,220.1 489.8,221.0 490.1,220.5 490.4,219.0 490.7,217.6 491.0,219.6 491.3,220.1 491.6,218.9 491.9,218.4 492.2,221.6 492.5,219.0 492.8,221.4 493.1,220.4 493.4,217.9 493.7,222.9 494.0,221.8 494.3,221.1 494.6,218.7 494.9,220.8 495.2,222.1 495.5,220.3 495.8,224.3 496.1,218.5 496.4,222.1 496.7,217.7 497.0,218.0 497.3,218.9 497.6,221.5 497.9,220.2 498.2,219.9 498.5,219.5 498.8,218.0 499.1,219.5 499.4,219.0 499.7,220.3 500.0,220.3 500.3,217.5 500.6,220.2 500.9,223.1 501.2,220.6 501.5,220.7 501.8,219.6 502.1,219.6 502.4,220.8 502.7,218.2 503.0,220.3 503.3,217.9 503.6,221.1 503.9,218.0 504.2,220.9 504.5,220.5 504.8,217.2 505.1,221.1 505.4,219.4 505.7,221.8 506.0,219.5 506.3,219.9 506.6,219.6 506.9,222.1 507.2,217.5 507.5,221.6 507.8,220.9 508.1,220.5 508.4,220.1 508.7,221.6 509.0,221.8 509.3,222.8 509.6,219.0 509.9,217.1 510.2,218.3 510.5,218.1 510.8,217.8 511.1,220.5 511.4,222.1 511.7,218.8 512.0,215.9 512.3,220.4 512.6,217.8 512.9,218.8 513.2,220.0 513.5,219.5 513.8,219.5 514.1,220.6 514.4,221.5 514.7,221.1 515.0,223.1 515.3,215.9 515.6,219.3 515.9,219.6 516.2,221.4 516.5,220.9 516.8,221.5 517.1,218.2 517.4,219.9 517.7,220.3 518.0,219.4 518.3,218.7 518.6,219.6 518.9,221.3 519.2,215.3 519.5,220.2 519.8,218.5 520.1,216.9 520.4,219.4 520.7,218.5 521.0,220.2 521.3,218.2 521.6,220.5 521.9,218.0 522.2,220.4 522.5,221.2 522.8,220.7 523.1,222.4 523.4,220.5 523.7,223.4 524.0,221.6 524.3,220.7 524.6,221.2 524.9,221.0 525.2,219.9 525.5,222.5 525.8,221.2 526.1,222.4 526.4,219.1 526.7,219.4 527.0,221.0 527.3,219.4 527.6,220.5 527.9,221.8 528.2,223.1 528.5,223.6 528.8,222.9 529.1,220.6 529.4,222.5 529.7,220.8 530.0,222.1 530.3,219.9 530.6,223.5 530.9,222.4 531.2,221.0 531.5,219.6 531.8,222.4 532.1,221.7 532.4,222.9 532.7,221.2 533.0,221.7 533.3,223.3 533.6,224.4 533.9,219.3 534.2,221.2 534.5,222.2 534.8,221.0 535.1,220.5 535.4,224.2 535.7,219.0 536.0,220.3 536.3,219.2 536.6,219.2 536.9,215.9 537.2,220.9 537.5,220.0 537.8,218.3 538.1,221.8 538.4,219.4 538.7,218.2 539.0,218.0 539.3,221.8 539.6,219.8 539.9,219.6 540.2,218.1 540.5,219.2 540.8,221.0 541.1,220.0 541.4,216.9 541.7,219.3 542.0,220.4 542.3,224.8 542.6,220.0 542.9,217.4 543.2,222.3 543.5,219.5 543.8,218.1 544.1,220.4 544.4,218.8 544.7,218.1 545.0,218.3 545.3,219.2 545.6,219.7 545.9,217.1 546.2,221.1 546.5,217.3 546.8,221.6 547.1,220.8 547.4,220.2 547.7,221.1 548.0,220.4 548.3,221.2 548.6,224.1 548.9,220.8 549.2,223.5 549.5,220.7 549.8,221.9 550.1,223.7 550.4,220.1 550.7,222.6 551.0,218.7 551.3,220.7 551.6,221.6 551.9,223.3 552.2,222.4 552.5,220.1 552.8,220.3 553.1,220.8 553.4,218.3 553.7,221.6 554.0,222.5 554.3,221.6 554.6,218.9 554.9,219.5 555.2,218.6 555.5,219.3 555.8,219.8 556.1,221.2 556.4,220.7 556.7,219.3 557.0,221.8 557.3,221.9 557.6,219.9 557.9,221.0 558.2,221.9 558.5,219.3 558.8,222.2 559.1,222.4 559.4,224.7 559.7,222.6 560.0,222.4 560.3,222.7 560.6,224.0 560.9,224.8 561.2,222.4 561.5,223.6 561.8,224.0 562.1,219.9 562.4,224.2 562.7,222.5 563.0,223.9 563.3,221.7 563.6,221.2 563.9,221.3 564.2,221.1 564.5,221.3 564.8,220.4 565.1,219.7 565.4,219.7 565.7,218.9 566.0,222.1 566.3,219.6 566.6,222.8 566.9,220.8 567.2,220.7 567.5,222.8 567.8,221.1 568.1,221.1 568.4,222.4 568.7,221.6 569.0,219.2 569.3,224.5 569.6,221.1 569.9,218.2 570.2,219.8 570.5,221.5 570.8,220.1 571.1,221.0 571.4,223.1 571.7,220.9 572.0,222.2 572.3,220.7 572.6,218.8 572.9,222.3 573.2,218.8 573.5,221.1 573.8,221.4 574.1,219.0 574.4,218.9 574.7,219.9 575.0,220.3 575.3,222.1 575.6,220.2 575.9,222.4 576.2,220.3 576.5,218.4 576.8,218.7 577.1,219.7 577.4,218.7 577.7,219.2 578.0,221.0 578.3,219.9 578.6,221.3 578.9,218.2 579.2,217.7 579.5,217.2 579.8,216.9 580.1,218.7 580.4,220.1 580.7,220.2 581.0,220.4 581.3,223.9 581.6,219.2 581.9,220.7 582.2,220.5 582.5,220.3 582.8,223.6 583.1,221.0 583.4,223.2 583.7,219.7 584.0,223.9 584.3,223.9 584.6,218.9 584.9,220.2 585.2,220.1 585.5,220.8 585.8,217.6 586.1,220.1 586.4,221.0 586.7,219.5 587.0,217.3 587.3,219.2 587.6,220.2 587.9,222.8 588.2,220.6 588.5,219.5 588.8,222.1 589.1,222.7 589.4,223.7 589.7,222.7 590.0,224.4 590.3,223.6 590.6,219.4 590.9,222.2 591.2,223.2 591.5,221.1 591.8,223.2 592.1,220.8 592.4,222.4 592.7,218.9 593.0,220.3 593.3,219.3 593.6,218.1 593.9,217.4 594.2,220.0 594.5,220.6 594.8,218.8 595.1,218.4 595.4,219.2 595.7,221.6 596.0,218.9 596.3,222.4 596.6,218.6 596.9,221.6 597.2,222.1 597.5,222.9 597.8,220.6 598.1,220.1 598.4,219.3 598.7,222.9 599.0,221.7 599.3,221.4 599.6,220.6 599.9,221.2 600.2,220.7 600.5,222.5 600.8,217.4 601.1,222.5 601.4,220.7 601.7,221.5 602.0,220.9 602.3,220.8 602.6,222.2 602.9,220.8 603.2,218.3 603.5,220.6 603.8,220.8 604.1,221.2 604.4,220.6 604.7,219.8 605.0,221.2 605.3,217.1 605.6,222.1 605.9,218.6 606.2,217.6 606.5,220.8 606.8,221.7 607.1,221.6 607.4,222.0 607.7,220.9 608.0,220.4 608.3,220.8 608.6,220.0 608.9,220.3 609.2,223.1 609.5,224.0 609.8,221.1 610.1,220.6 610.4,220.4 610.7,218.9 611.0,220.4 611.3,220.3 611.6,221.3 611.9,219.8 612.2,218.2 612.5,221.7 612.8,223.0 613.1,216.1 613.4,219.4 613.7,220.7 614.0,217.7 614.3,217.8 614.6,219.8 614.9,219.8 615.2,218.9 615.5,222.9 615.8,223.5 616.1,222.0 616.4,221.4 616.7,221.5 617.0,223.1 617.3,221.5 617.6,224.6 617.9,223.6 618.2,220.7 618.5,222.6 618.8,224.1 619.1,222.0 619.4,219.5 619.7,221.1 620.0,221.3 620.3,221.8 620.6,221.3 620.9,220.9 621.2,221.8 621.5,222.7 621.8,219.8 622.1,218.5 622.4,221.1 622.7,221.3 623.0,221.5 623.3,220.3 623.6,221.5 623.9,219.6 624.2,222.7 624.5,223.4 624.8,219.6 625.1,216.9 625.4,220.6 625.7,220.7 626.0,221.6 626.3,221.3 626.6,222.3 626.9,225.2 627.2,219.9 627.5,221.0 627.8,222.5 628.1,219.7 628.4,223.6 628.7,222.1 629.0,220.5 629.3,221.6 629.6,223.9 629.9,223.9 630.0,224.2 630.2,222.3 630.5,219.5 630.8,218.6 631.1,214.7 631.4,214.8 631.7,205.4 632.0,207.0 632.3,203.4 632.5,201.6 632.6,200.1 632.9,197.6 633.2,195.5 633.5,192.9 633.8,196.2 634.1,192.9 634.4,191.8 634.7,190.5 635.0,186.1 635.0,188.3 635.3,188.5 635.6,190.1 635.9,187.8 636.2,190.8 636.5,191.6 636.8,193.4 637.1,194.0 637.4,197.5 637.5,197.5 637.7,195.8 638.0,203.7 638.3,209.1 638.6,209.0 638.9,215.4 639.2,215.4 639.5,218.8 639.8,224.3 640.0,222.8 640.1,224.5 640.4,222.5 640.7,223.3 641.0,221.5 641.3,224.0 641.6,224.3 641.9,221.7 642.2,220.4 642.5,221.4 642.8,220.2 643.1,221.4 643.4,220.7 643.7,218.7 644.0,221.4 644.3,218.6 644.6,222.4 644.9,220.6 645.2,221.9 645.5,219.1 645.8,218.5 646.1,216.6 646.4,221.0 646.7,218.5 647.0,222.7 647.3,221.3 647.5,221.9 647.6,219.2 647.9,219.1 648.2,218.5 648.5,216.0 648.8,209.3 649.1,208.5 649.4,203.9 649.7,203.1 650.0,200.2 650.0,199.6 650.3,199.4 650.6,199.1 650.9,195.2 651.2,195.5 651.5,190.7 651.8,191.8 652.1,189.1 652.4,190.1 652.7,188.2 652.7,190.1 653.0,190.7 653.3,188.9 653.6,188.2 653.9,191.5 654.2,193.1 654.5,194.5 654.8,194.2 655.1,198.1 655.4,197.8 655.5,200.5 655.7,199.1 656.0,203.1 656.3,207.3 656.6,207.6 656.9,211.6 657.2,216.2 657.5,219.6 657.8,221.0 658.1,222.0 658.4,221.4 658.5,223.6 658.7,221.5 659.0,223.5 659.3,220.0 659.6,225.2 659.9,225.8 660.2,224.0 660.5,221.8 660.8,222.3 661.1,224.5 661.4,223.9 661.7,221.8 662.0,224.2 662.3,223.4 662.6,223.3 662.9,221.3 663.2,221.8 663.5,220.9 663.8,221.6 664.1,220.1 664.4,223.1 664.7,220.8 665.0,220.8 665.3,221.0 665.6,221.3 665.9,218.8 666.2,222.5 666.5,221.3 666.8,220.7 667.1,220.0 667.4,220.8 667.7,221.1 668.0,221.4 668.3,220.3 668.6,222.4 668.9,222.3 669.2,221.2 669.5,224.9 669.8,221.3 670.1,222.3 670.4,222.2 670.7,222.0 671.0,222.5 671.3,223.0 671.6,221.2 671.9,219.8 672.2,221.5 672.5,216.9 672.8,220.5 673.1,220.4 673.4,221.2 673.7,218.1 674.0,219.5 674.3,218.3 674.6,219.3 674.9,221.4 675.2,219.8 675.5,219.1 675.8,221.5 676.1,220.1 676.4,217.4 676.7,219.1 677.0,221.1 677.3,220.8 677.6,220.0 677.9,220.0 678.2,218.4 678.5,219.5 678.8,218.5 679.1,219.9 679.4,220.2 679.7,219.9 680.0,220.4 680.3,220.2 680.6,219.7 680.9,222.6 681.2,221.2 681.5,224.1 681.8,223.3 682.1,220.0 682.4,223.3 682.7,219.7 683.0,223.6 683.3,222.5 683.6,220.9 683.9,219.9 684.2,222.9 684.5,221.3 684.8,224.4 685.1,221.0 685.4,222.0 685.7,223.7 686.0,222.3 686.3,222.7 686.6,221.7 686.9,222.9 687.2,220.1 687.5,222.0 687.8,218.7 688.1,220.7 688.4,219.1 688.7,220.4 689.0,222.1 689.3,222.8 689.6,218.0 689.9,219.5 690.2,219.9 690.5,223.6 690.8,220.5 691.1,222.4 691.4,221.2 691.7,220.5 692.0,222.4 692.3,220.3 692.6,223.0 692.9,222.8 693.2,223.7 693.5,219.4 693.8,222.5 694.1,221.0 694.4,216.8 694.7,222.8 695.0,221.8 695.3,217.6 695.6,220.7 695.9,218.6 696.2,220.2 696.5,221.1 696.8,222.3 697.1,220.9 697.4,222.7 697.7,221.8 698.0,223.2 698.3,223.5 698.6,222.6 698.9,224.0 699.2,223.2 699.5,222.6 699.8,223.9 700.1,219.9 700.4,221.5 700.7,218.5 701.0,220.4 701.3,219.4 701.6,221.7 701.9,219.9 702.2,219.5 702.5,220.1 702.8,219.4 703.1,220.0 703.4,218.1 703.7,217.4 704.0,216.7 704.3,221.2 704.6,218.0 704.9,219.2 705.2,218.2 705.5,221.2 705.8,219.1 706.1,221.6 706.4,219.0 706.7,220.7 707.0,220.9 707.3,221.0 707.6,218.7 707.9,220.0 708.2,220.4 708.5,217.7 708.8,221.2 709.1,221.0 709.4,221.2 709.7,218.6 710.0,220.5 710.3,220.7 710.6,221.9 710.9,219.5 711.2,220.7 711.5,222.3 711.8,218.3 712.1,218.8 712.4,219.3 712.7,217.8 713.0,219.1 713.3,221.9 713.6,218.4 713.9,219.4 714.2,221.5 714.5,220.8 714.8,220.2 715.1,219.9 715.4,220.3 715.7,219.9 716.0,220.9 716.3,219.4 716.6,221.2 716.9,217.4 717.2,221.4 717.5,219.4 717.8,219.9 718.1,219.0 718.4,221.1 718.7,219.6 719.0,220.7 719.3,218.7 719.6,219.7 719.9,221.6 720.2,221.2 720.5,219.2 720.8,219.7 721.1,219.5 721.4,220.4 721.7,221.4 722.0,222.9 722.3,222.2 722.6,224.1 722.9,224.0 723.2,220.4 723.5,222.9 723.8,221.9 724.1,219.9 724.4,221.2 724.7,221.5 725.0,224.4 725.3,221.8 725.6,221.8 725.9,221.5 726.2,220.5 726.5,222.7 726.8,222.3 727.1,219.7 727.4,221.5 727.7,227.3 728.0,223.2 728.3,222.2 728.6,223.4 728.9,220.6 729.2,221.8 729.5,223.6 729.8,219.3 730.1,220.1 730.4,220.4 730.7,220.7 731.0,219.5 731.3,220.3 731.6,221.0 731.9,220.5 732.2,221.8 732.5,221.8 732.8,219.2 733.1,220.1 733.4,219.4 733.7,220.9 734.0,219.5 734.3,219.4 734.6,222.8 734.9,220.6 735.2,217.9 735.5,219.9 735.8,220.1 736.1,219.3 736.4,220.5 736.7,222.0 737.0,219.7 737.3,220.5 737.6,219.6 737.9,222.0 738.2,221.5 738.5,220.2 738.8,221.9 739.1,224.7 739.4,219.8 739.7,219.8 740.0,222.6 740.3,219.7 740.6,225.1 740.9,220.4 741.2,220.5 741.5,221.1 741.8,222.5 742.1,221.9 742.4,222.0 742.7,221.9 743.0,223.0 743.3,219.3 743.6,222.3 743.9,224.5 744.2,220.1 744.5,222.0 744.8,224.2 745.1,224.5 745.4,222.6 745.7,225.6 746.0,223.8 746.3,224.8 746.6,221.5 746.9,221.5 747.2,221.0 747.5,224.7 747.8,218.6 748.1,219.0 748.4,221.9 748.7,220.7 749.0,217.1 749.3,221.2 749.6,220.7 749.9,222.6 750.2,218.6 750.5,220.5 750.8,223.1 751.1,222.2 751.4,220.5 751.7,221.6 752.0,220.0 752.3,224.2 752.6,220.9 752.9,223.2 753.2,222.4 753.5,219.8 753.8,219.9 754.0,220.8 754.1,220.5 754.4,221.1 754.7,217.5 755.0,213.2 755.3,210.4 755.6,204.1 755.9,201.1 756.2,199.3 756.5,196.1 756.6,193.3 756.8,194.1 757.1,191.3 757.4,189.7 757.7,190.5 758.0,185.8 758.3,184.1 758.6,183.9 758.9,182.3 759.2,180.6 759.5,176.7 759.8,177.8 760.1,176.2 760.4,174.8 760.7,174.3 760.9,174.1 761.0,175.4 761.3,177.0 761.6,176.2 761.9,179.7 762.2,179.2 762.5,178.3 762.8,182.9 763.1,186.5 763.4,188.7 763.7,187.4 764.0,193.7 764.1,189.7 764.3,190.9 764.6,193.5 764.9,198.0 765.2,198.5 765.5,201.1 765.8,198.9 766.1,204.1 766.4,206.0 766.7,209.5 767.0,209.3 767.3,214.2 767.6,213.5 767.9,213.7 767.9,212.9 768.2,217.5 768.5,217.7 768.8,216.0 769.1,219.5 769.4,218.3 769.7,219.3 770.0,217.4 770.3,219.5 770.4,219.7 770.6,219.8 770.9,218.8 771.2,221.2 771.5,222.0 771.8,219.2 772.1,221.4 772.4,218.5 772.7,222.0 773.0,219.9 773.3,221.1 773.6,221.5 773.9,221.2 774.2,223.1 774.5,220.8 774.8,221.0 775.1,222.0 775.4,221.4 775.7,222.3 776.0,221.9 776.3,220.3 776.6,222.7 776.9,221.5 777.2,222.3 777.5,222.8 777.8,219.9 778.1,218.3 778.4,218.9 778.7,219.0 779.0,217.0 779.3,222.1 779.6,219.5 779.9,222.3 780.2,218.2 780.5,220.0 780.8,219.4 781.1,219.2 781.4,221.3 781.7,220.9 782.0,220.9 782.3,221.4 782.6,217.9 782.9,219.8 783.2,220.4 783.5,224.1 783.8,222.0 784.1,222.8 784.4,223.3 784.7,222.3 785.0,224.6 785.3,221.8 785.6,220.2 785.9,223.1 786.2,223.2 786.5,221.4 786.8,221.9 787.1,222.9 787.4,223.8 787.7,222.4 788.0,223.7 788.3,222.0 788.6,225.0 788.9,219.5 789.2,222.6 789.5,221.5 789.8,222.1 790.1,220.4 790.4,223.7 790.7,221.2 791.0,220.2 791.3,220.4 791.6,221.3 791.9,221.5 792.2,219.6 792.5,219.4 792.8,221.3 793.1,220.6 793.4,222.9 793.7,219.1 794.0,221.2 794.3,223.2 794.6,219.9 794.9,221.7 795.2,220.4 795.5,219.7 795.8,222.5 796.1,219.6 796.4,221.0 796.7,219.3 797.0,221.7 797.3,223.3 797.6,221.4 797.9,223.3 798.2,221.7 798.5,224.5 798.8,222.7 799.1,222.1 799.4,225.0 799.7,222.2 800.0,222.5 800.3,221.9 800.6,223.0 800.9,222.1 801.2,219.9 801.5,221.3 801.8,221.5 802.1,221.2 802.4,220.3 802.7,223.6 803.0,220.3 803.3,221.6 803.6,221.4 803.9,219.1 804.2,219.3 804.5,221.9 804.8,222.4 805.1,221.7 805.4,219.3 805.7,221.2 806.0,221.8 806.3,222.1 806.6,222.6 806.9,221.8 807.2,222.8 807.5,224.4 807.8,218.6 808.1,223.5 808.4,220.5 808.7,222.0 809.0,220.5 809.3,219.1 809.6,219.5 809.9,221.0 810.2,220.3 810.5,221.5 810.8,220.0 811.1,223.1 811.4,219.2 811.7,222.5 812.0,219.0 812.3,220.6 812.6,222.8 812.9,219.0 813.2,219.8 813.5,222.1 813.8,222.9 814.1,223.2 814.4,221.4 814.7,222.5 815.0,219.9 815.3,221.2 815.6,223.5 815.9,221.0 816.2,220.6 816.5,217.8 816.8,219.6 817.1,217.1 817.4,219.9 817.7,221.7 818.0,220.1 818.3,219.7 818.6,219.0 818.9,220.6 819.2,218.9 819.5,219.8 819.8,223.9 820.1,220.1 820.4,221.0 820.7,220.4 821.0,224.4 821.3,222.3 821.6,221.1 821.9,221.3 822.2,224.4 822.5,223.3 822.8,223.2 823.1,221.6 823.4,223.2 823.7,223.6 824.0,222.8 824.3,219.3 824.6,218.7 824.9,219.5 825.2,221.4 825.5,218.5 825.8,219.2 826.1,220.9 826.4,219.1 826.7,218.2 827.0,221.0 827.3,219.6 827.6,220.1 827.9,220.4 828.2,221.6 828.5,219.0 828.8,219.4 829.1,217.1 829.4,218.7 829.7,218.2 830.0,220.7 830.3,221.3 830.6,222.5 830.9,222.2 831.2,223.0 831.5,221.8 831.8,220.6 832.1,220.2 832.4,220.3 832.7,219.5 833.0,222.0 833.3,221.0 833.6,218.3 833.9,216.7 834.2,219.2 834.5,219.4 834.8,218.9 835.1,221.1 835.4,218.6 835.7,217.9 836.0,220.6 836.3,221.4 836.6,221.7 836.9,218.1 837.2,219.4 837.5,219.4 837.8,222.6 838.1,221.9 838.4,221.0 838.7,221.9 839.0,220.3 839.3,220.2 839.6,219.9 839.9,219.4 840.2,220.1 840.5,221.4 840.8,221.0 841.1,223.0 841.4,222.3 841.7,221.0 842.0,217.9 842.3,219.1 842.6,220.8 842.9,221.1 843.2,220.2 843.5,221.8 843.8,222.7 844.1,221.5 844.4,222.8 844.7,222.1 845.0,221.0 845.3,220.4 845.6,222.0 845.9,223.1 846.2,220.8 846.5,219.4 846.8,221.2 847.1,223.0 847.4,219.7 847.7,223.6 848.0,221.4 848.3,222.9 848.6,221.3 848.9,223.4 849.2,222.2 849.5,222.1 849.8,219.1 850.1,223.1 850.4,219.7 850.7,221.6 851.0,222.8 851.3,221.2 851.6,221.6 851.9,220.8 852.2,221.1 852.5,219.8 852.8,222.4 853.1,222.9 853.4,220.2 853.7,219.8 854.0,221.4 854.3,219.6 854.6,221.2 854.9,222.4 855.2,222.0 855.5,223.3 855.8,221.5 856.1,219.4 856.4,220.1 856.7,221.5 857.0,223.6 857.3,220.3 857.6,219.4 857.9,223.1 858.2,220.7 858.5,221.8 858.8,222.8 859.1,220.0 859.4,221.5 859.7,221.2 860.0,222.4 860.3,222.9 860.6,221.4 860.9,223.0 861.2,218.9 861.5,221.4 861.8,220.9 862.1,220.4 862.4,217.9 862.7,219.7 863.0,218.1 863.3,221.9 863.6,219.4 863.9,219.3 864.2,219.0 864.5,219.6 864.8,219.5 865.1,220.4 865.4,218.5 865.7,221.1 866.0,219.1 866.3,220.7 866.6,219.7 866.9,220.5 867.2,219.1 867.5,217.9 867.8,219.0 868.1,220.2 868.4,222.3 868.7,219.3 869.0,219.7 869.3,221.3 869.6,218.9 869.9,220.2 870.2,220.1 870.5,218.7 870.8,219.7 871.1,220.1 871.4,220.0 871.7,217.8 872.0,222.3 872.3,219.3 872.6,219.1 872.9,218.4 873.2,217.8 873.5,220.1 873.8,215.1 874.1,218.7 874.4,217.3 874.7,220.1 875.0,220.1 875.3,218.8 875.6,218.9 875.9,222.2 876.2,219.9 876.5,220.9 876.8,220.7 877.1,222.2 877.4,222.5 877.7,222.6 878.0,221.5 878.3,220.8 878.6,218.5 878.9,222.1 879.2,220.1 879.5,219.8 879.8,220.4 880.1,220.4 880.4,222.3 880.7,222.9 881.0,224.7 881.3,223.0 881.6,222.7 881.9,223.2 882.2,221.7 882.5,222.3 882.8,225.8 883.1,221.3 883.4,221.5 883.7,223.0 884.0,222.2 884.3,223.4 884.6,220.4 884.9,220.2 885.2,222.8 885.5,219.5 885.8,220.5 886.1,220.8 886.4,218.4 886.7,221.2 887.0,220.9 887.3,221.9 887.6,220.5 887.9,217.3 888.2,221.8 888.5,217.0 888.8,220.6 889.1,220.6 889.4,220.4 889.7,221.9 890.0,223.1 890.3,220.2 890.6,220.5 890.9,223.1 891.2,223.0 891.5,223.6 891.8,223.0 892.1,222.0 892.4,221.9 892.7,221.7 893.0,223.5 893.3,223.7 893.6,224.5 893.9,220.1 894.2,220.8 894.5,220.7 894.8,220.2 895.1,219.0 895.4,223.5 895.7,222.3 896.0,220.3 896.3,220.1 896.6,220.6 896.9,219.3 897.2,220.3 897.5,221.8 897.8,223.5 898.1,222.2 898.4,222.9 898.7,219.5 899.0,216.8 899.3,223.3 899.6,220.9 899.9,220.4 900.2,223.5 900.5,218.9 900.8,219.3 901.1,219.9 901.4,223.4 901.7,222.5 902.0,219.0 902.3,223.5 902.6,221.0 902.9,221.7 903.2,219.4 903.5,223.2 903.8,220.9 904.1,222.9 904.4,219.2 904.7,221.2 905.0,220.2 905.3,220.0 905.6,219.1 905.9,219.9 906.2,219.1 906.5,219.8 906.8,221.2 907.1,221.6 907.4,218.4 907.7,219.1 908.0,220.2 908.3,219.0 908.6,221.3 908.9,221.3 909.2,221.1 909.5,221.4 909.8,222.1 910.1,221.9 910.4,221.1 910.7,222.0 911.0,220.1 911.3,219.7 911.6,221.4 911.9,221.5 912.2,223.0 912.5,219.9 912.8,218.8 913.1,220.3 913.4,219.0 913.7,218.7 914.0,222.0 914.3,222.7 914.6,220.3 914.9,218.8 915.2,220.6 915.5,219.9 915.8,218.7 916.1,221.6 916.4,220.7 916.7,222.5 917.0,220.3 917.3,221.2 917.6,221.9 917.9,219.7 918.2,225.8 918.5,219.3 918.8,220.5 919.1,222.0 919.4,219.5 919.7,222.7 920.0,221.0 920.3,221.9 920.6,222.3 920.9,222.4 921.2,221.5 921.5,221.4 921.8,222.5 922.1,222.6 922.4,221.2 922.7,220.4 923.0,220.5 923.3,220.8 923.6,220.4 923.9,219.9 924.2,217.6 924.5,221.9 924.8,217.1 925.1,221.3 925.4,219.9 925.7,220.3 926.0,218.7 926.3,219.0 926.6,218.7 926.9,219.4 927.2,219.7 927.5,221.7 927.8,218.1 928.1,219.9 928.4,222.2 928.7,222.0 929.0,218.8 929.3,220.7 929.6,221.3 929.9,220.7 930.2,217.4 930.5,222.2 930.8,219.0 931.1,223.4 931.4,221.5 931.7,220.0 932.0,220.7 932.3,219.3 932.6,218.0 932.9,218.7 933.2,219.3 933.5,218.4 933.8,220.6 934.1,221.4 934.4,221.5 934.7,221.6 935.0,222.4 935.0,222.4 935.3,223.3 935.6,220.4 935.9,218.1 936.2,217.0 936.5,214.1 936.8,207.9 937.1,204.1 937.4,207.9 937.6,205.9 937.7,207.3 938.0,206.3 938.3,205.9 938.6,205.9 938.9,206.9 939.2,212.3 939.5,213.2 939.8,214.3 940.0,213.6 940.1,215.5 940.4,216.2 940.7,218.0 941.0,216.0 941.3,222.4 941.6,226.0 941.9,223.1 942.0,223.8 942.2,224.7 942.5,223.1 942.8,225.0 943.1,223.4 943.4,224.2 943.7,225.1 944.0,224.5 944.3,224.1 944.6,221.3 944.9,223.4 945.2,220.3 945.5,223.4 945.8,221.4 946.1,220.5 946.4,221.9 946.7,220.2 947.0,220.3 947.3,221.4 947.6,223.0 947.9,223.0 948.2,223.3 948.5,222.3 948.8,221.3 949.1,222.8 949.4,222.7 949.7,222.5 950.0,222.3 950.3,222.5 950.6,223.9 950.9,221.3 951.2,223.5 951.5,225.3 951.8,221.9 952.1,221.1 952.4,221.8 952.7,221.5 953.0,222.2 953.3,223.6 953.6,221.3 953.9,222.6 954.2,221.4 954.5,220.6 954.8,221.8 955.1,220.7 955.4,223.8 955.7,221.3 956.0,222.0 956.3,221.0 956.6,222.2 956.9,222.0 957.2,223.4 957.5,221.3 957.8,223.9 958.1,226.2 958.4,220.4 958.7,225.4 959.0,222.9 959.3,224.5 959.6,220.7 959.9,225.4 960.2,220.8 960.5,221.8 960.8,223.9 961.1,219.1 961.4,217.6 961.7,221.2 962.0,220.4 962.3,220.4 962.6,219.8 962.9,219.4 963.2,224.1 963.5,223.8 963.8,220.1 964.1,222.0 964.4,221.3 964.7,224.4 965.0,221.8 965.3,225.3 965.6,222.7 965.9,221.5 966.2,222.6 966.5,221.6 966.8,225.6 967.1,222.6 967.4,220.8 967.7,222.0 968.0,224.2 968.3,219.9 968.6,218.1 968.9,222.3 969.2,220.9 969.5,219.7 969.8,219.9 970.1,221.2 970.4,216.0 970.7,221.8 971.0,220.4 971.3,222.0 971.6,220.9 971.9,225.7 972.2,220.5 972.5,223.3 972.8,218.7 973.1,222.3 973.4,224.1 973.7,220.5 974.0,219.5 974.3,222.4 974.6,223.3 974.9,222.9 975.2,220.2 975.5,222.1 975.8,220.1 976.1,224.7 976.4,221.0 976.7,223.6 977.0,221.1 977.3,221.5 977.6,224.6 977.9,221.1 978.0,224.5" fill="none" stroke="#ee1c1c" stroke-width="1.4" stroke-linejoin="round" opacity="1"/>
<polygon points="147.0,163.6 147.5,162.8 148.0,164.3 148.5,161.8 149.0,163.2 149.5,161.9 150.0,164.2 150.5,162.3 151.0,162.6 151.5,163.6 152.0,162.7 152.5,163.8 153.0,163.2 153.5,165.4 154.0,162.5 154.5,162.9 155.0,164.1 155.5,163.7 156.0,164.0 156.5,163.3 157.0,164.4 157.5,163.9 158.0,164.8 158.5,162.4 159.0,163.8 159.5,163.4 160.0,164.0 160.5,162.8 161.0,164.3 161.5,162.4 162.0,164.4 162.5,164.1 163.0,162.0 163.5,164.0 164.0,161.9 164.5,164.1 165.0,162.2 165.5,163.5 166.0,163.4 166.5,162.1 167.0,161.9 167.5,164.0 168.0,163.2 168.5,164.6 169.0,163.6 169.5,166.1 170.0,163.8 170.5,165.2 171.0,163.9 171.5,163.7 172.0,164.1 172.5,162.9 173.0,163.0 173.5,165.1 174.0,163.4 174.5,162.6 175.0,164.1 175.5,162.9 176.0,163.7 176.5,164.6 177.0,164.8 177.5,165.3 178.0,164.7 178.5,164.2 179.0,164.1 179.5,163.9 180.0,163.6 180.5,165.7 181.0,163.6 181.0,168.6 180.5,167.8 180.0,167.5 179.5,166.9 179.0,167.5 178.5,167.9 178.0,167.3 177.5,168.2 177.0,168.0 176.5,170.0 176.0,168.3 175.5,166.5 175.0,167.5 174.5,167.4 174.0,168.2 173.5,166.6 173.0,167.8 172.5,167.3 172.0,168.2 171.5,167.3 171.0,169.0 170.5,167.5 170.0,169.7 169.5,170.0 169.0,167.6 168.5,169.5 168.0,168.6 167.5,167.3 167.0,168.2 166.5,168.3 166.0,168.5 165.5,168.0 165.0,168.8 164.5,167.1 164.0,167.0 163.5,169.8 163.0,168.0 162.5,169.2 162.0,168.7 161.5,169.2 161.0,168.2 160.5,167.9 160.0,169.2 159.5,168.3 159.0,168.6 158.5,169.5 158.0,166.9 157.5,168.3 157.0,170.3 156.5,168.2 156.0,167.4 155.5,165.7 155.0,168.7 154.5,169.7 154.0,167.1 153.5,169.1 153.0,168.3 152.5,168.5 152.0,169.1 151.5,168.2 151.0,167.7 150.5,169.6 150.0,169.7 149.5,167.7 149.0,168.4 148.5,165.7 148.0,169.3 147.5,168.1 147.0,169.7" fill="#f01010" opacity="1.0"/>
<polygon points="147.0,171.1 147.5,171.7 148.0,172.6 148.5,172.2 149.0,171.0 149.5,169.8 150.0,171.2 150.5,171.5 151.0,172.3 151.5,171.5 152.0,173.9 152.5,171.1 153.0,172.0 153.5,170.6 154.0,170.5 154.5,171.1 155.0,171.6 155.5,172.0 156.0,168.6 156.5,172.4 157.0,172.7 157.5,172.6 158.0,172.2 158.5,171.3 159.0,171.9 159.5,172.5 160.0,170.5 160.5,172.0 161.0,171.8 161.5,171.3 162.0,173.0 162.5,170.8 163.0,170.5 163.5,171.3 164.0,170.8 164.5,172.6 165.0,169.9 165.5,170.2 166.0,171.7 166.5,172.0 167.0,170.3 167.5,172.5 168.0,169.6 168.5,172.3 169.0,170.6 169.5,170.9 170.0,173.0 170.5,171.3 171.0,170.8 171.5,171.6 172.0,173.1 172.5,171.4 173.0,170.7 173.5,171.5 174.0,170.2 174.5,170.7 175.0,170.8 175.5,171.9 176.0,170.9 176.5,171.8 177.0,172.4 177.5,172.8 178.0,169.8 178.5,171.3 179.0,170.3 179.5,171.9 180.0,171.6 180.5,171.3 181.0,170.9 181.0,176.5 180.5,175.4 180.0,176.4 179.5,177.2 179.0,176.3 178.5,174.9 178.0,177.1 177.5,176.4 177.0,177.0 176.5,176.6 176.0,175.2 175.5,178.0 175.0,175.7 174.5,177.5 174.0,176.9 173.5,176.8 173.0,176.2 172.5,177.1 172.0,176.0 171.5,177.4 171.0,175.1 170.5,177.0 170.0,176.2 169.5,175.4 169.0,175.7 168.5,177.1 168.0,177.7 167.5,175.5 167.0,176.4 166.5,177.6 166.0,175.2 165.5,175.9 165.0,175.8 164.5,175.0 164.0,175.3 163.5,175.7 163.0,176.8 162.5,175.7 162.0,177.1 161.5,175.5 161.0,175.3 160.5,176.7 160.0,176.3 159.5,176.4 159.0,174.7 158.5,176.2 158.0,176.0 157.5,175.9 157.0,175.8 156.5,176.1 156.0,176.1 155.5,176.4 155.0,176.4 154.5,176.4 154.0,177.4 153.5,175.8 153.0,175.7 152.5,176.0 152.0,174.9 151.5,176.9 151.0,176.2 150.5,178.0 150.0,177.1 149.5,176.6 149.0,176.4 148.5,176.2 148.0,177.2 147.5,174.8 147.0,175.5" fill="#f08a1a" opacity="1.0"/>
<path d="M146.3,231 L146.3,95" stroke="#f0a050" stroke-width="1.1" fill="none"/>
<path d="M146.3,96 L146.3,83.5" stroke="#ec9a8a" stroke-width="1.1" fill="none"/>
<path d="M145.6,150 L145.6,116" stroke="#e84040" stroke-width="0.8" fill="none"/>
<path d="M75.5,231 L75.5,204" stroke="#f0a040" stroke-width="1" fill="none"/>
<path d="M182.2,176 L182.2,226" stroke="#f09030" stroke-width="1" fill="none"/>
<line x1="73.5" y1="17" x2="73.5" y2="232" stroke="#111" stroke-width="1.3"/>
<line x1="73" y1="231.5" x2="979" y2="231.5" stroke="#333" stroke-width="1"/>
<!-- annotations -->
<line x1="182" y1="59.6" x2="219" y2="59.6" stroke="#111" stroke-width="2"/>
<path d="M217.2,56.2 L226,59.6 L217.2,63 Z" fill="#111"/>
<text font-size="17" transform="translate(228.5 65.3) scale(0.91 1)">Control applied</text>
<text font-size="16" transform="translate(83 159.6) scale(0.95 1)">Initialize</text>
<line x1="86" y1="171.4" x2="131" y2="171.4" stroke="#111" stroke-width="1.9"/>
<path d="M79.2,171.4 L88,167.8 L88,175 Z" fill="#111"/>
<path d="M138,171.4 L129.4,167.8 L129.4,175 Z" fill="#111"/>
<!-- legend -->
<rect x="528" y="26" width="360.5" height="23.5" fill="#fff" stroke="#888" stroke-width="1"/>
<line x1="527.5" y1="49.5" x2="889" y2="49.5" stroke="#444" stroke-width="1.3"/>
<line x1="528" y1="26" x2="528" y2="50" stroke="#555" stroke-width="1.2"/>
<line x1="528" y1="25.6" x2="888.5" y2="25.6" stroke="#bbb" stroke-width="1"/>
<rect x="536.5" y="35" width="42" height="6.5" rx="0.5" fill="#c0c0c0" stroke="#8a8a8a" stroke-width="1"/>
<rect x="623.5" y="35.2" width="42" height="6.3" rx="0.5" fill="#787878" stroke="#5a5a5a" stroke-width="1"/>
<rect x="712" y="35" width="42" height="6.5" rx="0.5" fill="#ff0000" stroke="#c00000" stroke-width="1"/>
<rect x="800.5" y="35" width="42" height="6.5" rx="0.5" fill="#ff8000" stroke="#c86400" stroke-width="1"/>
<g font-size="19">
<text transform="translate(583 44.6) scale(0.91 1)">WT1</text>
<text transform="translate(672 44.6) scale(0.91 1)">WT2</text>
<text transform="translate(759.5 44.6) scale(0.91 1)">WT3</text>
<text transform="translate(847.5 44.6) scale(0.91 1)">WT4</text>
</g>
</svg>
</body></html>
